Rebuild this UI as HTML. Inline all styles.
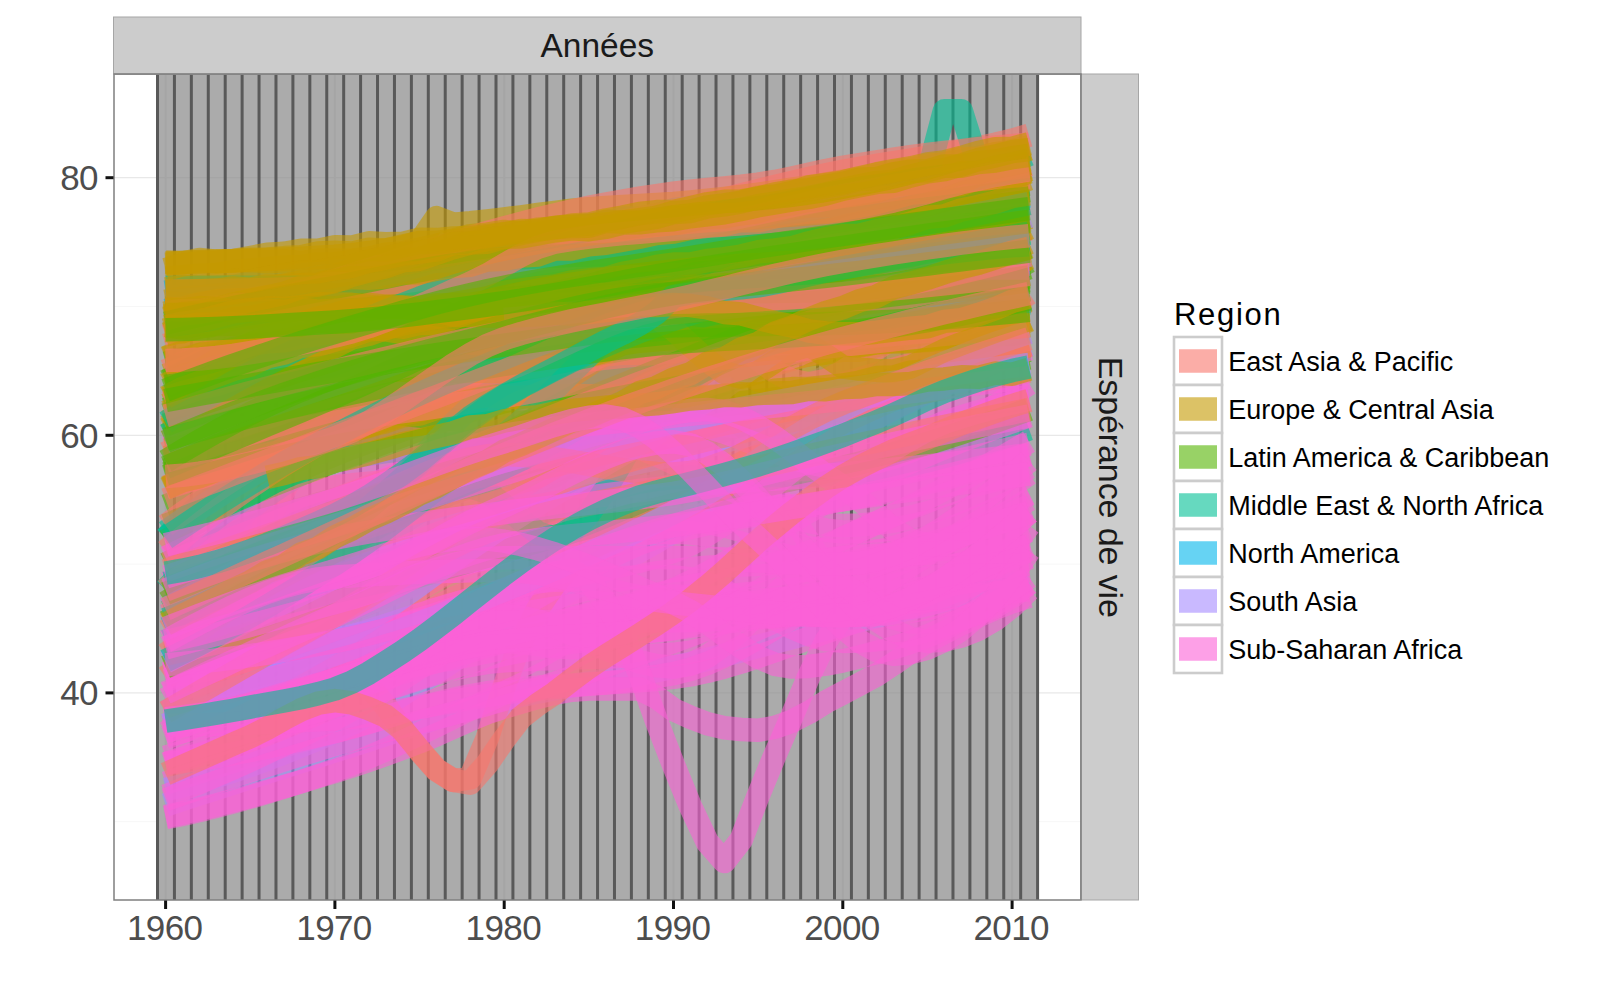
<!DOCTYPE html>
<html lang="fr"><head><meta charset="utf-8"><title>Espérance de vie</title>
<style>
html,body{margin:0;padding:0;background:#fff;}
svg{display:block;font-family:"Liberation Sans",Arial,sans-serif;}
.ln{fill:none;stroke-width:23.5;stroke-opacity:.6;stroke-linejoin:round;stroke-linecap:butt}
.E{stroke:#F8766D}.U{stroke:#C49A00}.L{stroke:#53B400}.M{stroke:#00C094}.N{stroke:#00B6EB}.S{stroke:#A58AFF}.A{stroke:#FB61D7}
.ax{font-size:35px;fill:#4D4D4D;letter-spacing:-0.6px}
.lg{font-size:27px;fill:#000}
</style></head><body>
<svg width="1600" height="1000" viewBox="0 0 1600 1000">
<rect width="1600" height="1000" fill="#fff"/>

<rect x="114" y="74" width="967" height="826" fill="#fff"/>
<line x1="114" x2="1081" y1="821.7" y2="821.7" stroke="#F7F7F7" stroke-width="1"/>
<line x1="114" x2="1081" y1="564.1" y2="564.1" stroke="#F7F7F7" stroke-width="1"/>
<line x1="114" x2="1081" y1="306.5" y2="306.5" stroke="#F7F7F7" stroke-width="1"/>
<line x1="114" x2="1081" y1="692.9" y2="692.9" stroke="#E8E8E8" stroke-width="1.3"/>
<line x1="114" x2="1081" y1="435.3" y2="435.3" stroke="#E8E8E8" stroke-width="1.3"/>
<line x1="114" x2="1081" y1="177.7" y2="177.7" stroke="#E8E8E8" stroke-width="1.3"/>
<rect x="156" y="74" width="883" height="826" fill="#ABABAB"/>
<line x1="165.6" x2="165.6" y1="74" y2="900" stroke="#A5A5A5" stroke-width="2"/>
<line x1="334.9" x2="334.9" y1="74" y2="900" stroke="#A5A5A5" stroke-width="2"/>
<line x1="504.2" x2="504.2" y1="74" y2="900" stroke="#A5A5A5" stroke-width="2"/>
<line x1="673.5" x2="673.5" y1="74" y2="900" stroke="#A5A5A5" stroke-width="2"/>
<line x1="842.8" x2="842.8" y1="74" y2="900" stroke="#A5A5A5" stroke-width="2"/>
<line x1="1012.1" x2="1012.1" y1="74" y2="900" stroke="#A5A5A5" stroke-width="2"/>
<line x1="156" x2="1039" y1="692.9" y2="692.9" stroke="#A5A5A5" stroke-width="1.3"/>
<line x1="156" x2="1039" y1="435.3" y2="435.3" stroke="#A5A5A5" stroke-width="1.3"/>
<line x1="156" x2="1039" y1="177.7" y2="177.7" stroke="#A5A5A5" stroke-width="1.3"/>
<path d="M157.50 74V900 M174.43 74V900 M191.35 74V900 M208.28 74V900 M225.20 74V900 M242.12 74V900 M259.05 74V900 M275.98 74V900 M292.90 74V900 M309.83 74V900 M326.75 74V900 M343.68 74V900 M360.60 74V900 M377.52 74V900 M394.45 74V900 M411.38 74V900 M428.30 74V900 M445.23 74V900 M462.15 74V900 M479.07 74V900 M496.00 74V900 M512.92 74V900 M529.85 74V900 M546.78 74V900 M563.70 74V900 M580.62 74V900 M597.55 74V900 M614.48 74V900 M631.40 74V900 M648.33 74V900 M665.25 74V900 M682.18 74V900 M699.10 74V900 M716.02 74V900 M732.95 74V900 M749.88 74V900 M766.80 74V900 M783.73 74V900 M800.65 74V900 M817.58 74V900 M834.50 74V900 M851.43 74V900 M868.35 74V900 M885.27 74V900 M902.20 74V900 M919.12 74V900 M936.05 74V900 M952.98 74V900 M969.90 74V900 M986.83 74V900 M1003.75 74V900 M1020.68 74V900 M1037.60 74V900" stroke="#595959" stroke-width="3" fill="none"/>
<g clip-path="url(#cp)">
<polyline class="ln M" points="165.6,538.3 182.5,523.1 199.5,508.3 216.4,493.9 233.3,480.0 250.2,466.7 267.2,454.0 284.1,441.8 301.0,430.4 318.0,419.6 334.9,409.5 351.8,400.1 368.8,391.1 385.7,382.5 402.6,374.4 419.5,366.6 436.5,359.1 453.4,352.0 470.3,345.1 487.3,338.6 504.2,332.3 521.1,326.2 538.1,320.3 555.0,314.5 571.9,309.0 588.9,303.7 605.8,298.6 622.7,293.8 639.6,289.2 656.6,284.8 673.5,280.7 690.4,276.9 707.4,273.2 724.3,269.8 741.2,266.5 758.1,263.3 775.1,260.2 792.0,257.2 808.9,254.3 825.9,251.4 842.8,248.5 859.7,245.7 876.7,242.9 893.6,240.1 910.5,237.5 927.5,234.8 944.4,232.2 961.3,229.7 978.2,227.2 995.2,224.8 1012.1,222.5 1029.0,220.2"/>
<polyline class="ln N" points="165.6,310.6 182.5,307.8 199.5,308.4 216.4,306.5 233.3,304.5 250.2,304.7 267.2,303.3 284.1,303.2 301.0,300.8 318.0,298.1 334.9,295.5 351.8,292.8 368.8,291.3 385.7,288.8 402.6,284.1 419.5,277.6 436.5,275.8 453.4,270.8 470.3,265.1 487.3,264.8 504.2,259.8 521.1,256.0 538.1,256.2 555.0,252.9 571.9,249.5 588.9,250.3 605.8,246.9 622.7,244.2 639.6,242.7 656.6,241.5 673.5,240.6 690.4,237.7 707.4,236.3 724.3,234.2 741.2,232.8 758.1,229.4 775.1,228.0 792.0,227.8 808.9,225.1 825.9,224.3 842.8,221.7 859.7,220.0 876.7,216.7 893.6,215.6 910.5,213.0 927.5,209.8 944.4,208.6 961.3,204.4 978.2,204.5 995.2,200.0 1012.1,198.6 1029.0,196.0"/>
<polyline class="ln S" points="165.6,805.0 182.5,799.4 199.5,793.9 216.4,788.5 233.3,783.0 250.2,777.6 267.2,772.2 284.1,766.8 301.0,761.5 318.0,756.2 334.9,750.9 351.8,745.5 368.8,740.0 385.7,734.5 402.6,728.9 419.5,723.5 436.5,718.1 453.4,713.0 470.3,708.1 487.3,703.5 504.2,699.3 521.1,695.6 538.1,692.1 555.0,688.9 571.9,685.8 588.9,682.9 605.8,679.9 622.7,677.0 639.6,673.9 656.6,670.7 673.5,667.1 690.4,663.4 707.4,659.3 724.3,655.2 741.2,650.9 758.1,646.4 775.1,642.0 792.0,637.6 808.9,633.1 825.9,628.8 842.8,624.6 859.7,620.5 876.7,616.5 893.6,612.4 910.5,608.4 927.5,604.4 944.4,600.4 961.3,596.4 978.2,592.5 995.2,588.6 1012.1,584.7 1029.0,580.8"/>
<polyline class="ln U" points="165.6,405.2 182.5,398.7 199.5,392.3 216.4,387.2 233.3,380.4 250.2,372.0 267.2,366.7 284.1,360.3 301.0,353.8 318.0,349.5 334.9,346.8 351.8,341.0 368.8,335.2 385.7,331.9 402.6,324.7 419.5,320.5 436.5,316.7 453.4,314.2 470.3,309.2 487.3,308.4 504.2,304.6 521.1,301.2 538.1,297.6 555.0,296.1 571.9,295.1 588.9,292.2 605.8,290.2 622.7,288.2 639.6,286.5 656.6,283.4 673.5,280.9 690.4,277.3 707.4,274.8 724.3,273.4 741.2,271.1 758.1,267.5 775.1,264.6 792.0,262.7 808.9,259.6 825.9,256.3 842.8,256.6 859.7,250.6 876.7,249.6 893.6,245.7 910.5,241.2 927.5,238.1 944.4,236.6 961.3,231.1 978.2,229.5 995.2,224.7 1012.1,219.2 1029.0,216.6"/>
<polyline class="ln M" points="165.6,614.3 182.5,610.5 199.5,606.2 216.4,601.4 233.3,596.2 250.2,590.6 267.2,584.6 284.1,578.3 301.0,571.7 318.0,564.8 334.9,557.7 351.8,550.0 368.8,541.5 385.7,532.3 402.6,522.5 419.5,512.3 436.5,501.7 453.4,490.9 470.3,480.0 487.3,469.2 504.2,458.5 521.1,447.1 538.1,434.5 555.0,421.1 571.9,407.4 588.9,393.8 605.8,380.9 622.7,369.1 639.6,358.9 656.6,350.8 673.5,345.1 690.4,341.2 707.4,337.8 724.3,334.9 741.2,332.3 758.1,329.9 775.1,327.8 792.0,325.7 808.9,323.7 825.9,321.6 842.8,319.4 859.7,317.1 876.7,314.8 893.6,312.6 910.5,310.4 927.5,308.2 944.4,306.1 961.3,304.0 978.2,302.0 995.2,300.0 1012.1,298.1 1029.0,296.2"/>
<polyline class="ln A" points="165.6,783.1 182.5,777.4 199.5,771.9 216.4,766.5 233.3,761.2 250.2,755.9 267.2,750.8 284.1,745.8 301.0,740.9 318.0,736.2 334.9,731.5 351.8,726.9 368.8,722.0 385.7,717.1 402.6,712.3 419.5,707.7 436.5,703.3 453.4,699.2 470.3,695.7 487.3,692.7 504.2,690.3 521.1,688.6 538.1,687.1 555.0,686.0 571.9,684.9 588.9,684.0 605.8,683.1 622.7,682.0 639.6,680.8 656.6,679.3 673.5,677.4 690.4,674.9 707.4,671.3 724.3,667.0 741.2,662.0 758.1,656.5 775.1,650.6 792.0,644.4 808.9,638.2 825.9,632.0 842.8,625.9 859.7,619.9 876.7,613.7 893.6,607.4 910.5,600.8 927.5,594.0 944.4,587.1 961.3,580.0 978.2,572.7 995.2,565.3 1012.1,557.7 1029.0,549.9"/>
<polyline class="ln L" points="165.6,409.5 182.5,403.8 199.5,398.2 216.4,392.7 233.3,387.3 250.2,382.1 267.2,376.9 284.1,372.0 301.0,367.2 318.0,362.5 334.9,358.0 351.8,353.6 368.8,349.3 385.7,345.1 402.6,341.0 419.5,337.0 436.5,333.2 453.4,329.5 470.3,325.9 487.3,322.6 504.2,319.4 521.1,316.4 538.1,313.7 555.0,311.1 571.9,308.6 588.9,306.2 605.8,303.8 622.7,301.4 639.6,299.0 656.6,296.4 673.5,293.6 690.4,290.6 707.4,287.5 724.3,284.2 741.2,280.8 758.1,277.3 775.1,273.9 792.0,270.6 808.9,267.3 825.9,264.3 842.8,261.4 859.7,258.7 876.7,256.1 893.6,253.5 910.5,251.0 927.5,248.6 944.4,246.2 961.3,243.9 978.2,241.7 995.2,239.6 1012.1,237.6 1029.0,235.7"/>
<polyline class="ln L" points="165.6,368.3 182.5,367.4 199.5,366.2 216.4,364.7 233.3,363.1 250.2,361.3 267.2,359.3 284.1,357.2 301.0,355.0 318.0,352.7 334.9,350.3 351.8,347.6 368.8,344.3 385.7,340.6 402.6,336.7 419.5,332.5 436.5,328.3 453.4,324.1 470.3,320.1 487.3,316.3 504.2,312.9 521.1,309.9 538.1,307.0 555.0,304.2 571.9,301.6 588.9,299.0 605.8,296.4 622.7,293.8 639.6,291.2 656.6,288.6 673.5,285.9 690.4,283.1 707.4,280.2 724.3,277.3 741.2,274.4 758.1,271.5 775.1,268.6 792.0,265.7 808.9,262.9 825.9,260.2 842.8,257.6 859.7,255.0 876.7,252.5 893.6,250.0 910.5,247.6 927.5,245.2 944.4,242.8 961.3,240.5 978.2,238.3 995.2,236.1 1012.1,233.9 1029.0,231.8"/>
<polyline class="ln U" points="165.6,357.7 182.5,350.0 199.5,342.7 216.4,336.2 233.3,332.7 250.2,325.4 267.2,320.0 284.1,316.9 301.0,311.3 318.0,308.1 334.9,305.3 351.8,303.4 368.8,304.9 385.7,303.3 402.6,300.5 419.5,301.4 436.5,300.2 453.4,298.2 470.3,299.1 487.3,296.6 504.2,296.2 521.1,300.1 538.1,301.0 555.0,303.9 571.9,308.0 588.9,315.7 605.8,321.2 622.7,323.4 639.6,327.2 656.6,332.4 673.5,332.5 690.4,330.6 707.4,327.7 724.3,326.4 741.2,319.9 758.1,314.0 775.1,309.2 792.0,304.8 808.9,299.6 825.9,293.6 842.8,287.4 859.7,286.3 876.7,282.7 893.6,277.8 910.5,275.3 927.5,271.5 944.4,268.5 961.3,263.4 978.2,259.5 995.2,257.4 1012.1,255.4 1029.0,251.7"/>
<polyline class="ln L" points="165.6,363.2 182.5,358.9 199.5,354.5 216.4,350.2 233.3,345.8 250.2,341.4 267.2,337.1 284.1,332.7 301.0,328.2 318.0,323.8 334.9,319.4 351.8,314.7 368.8,309.6 385.7,304.4 402.6,299.0 419.5,293.8 436.5,288.8 453.4,284.2 470.3,280.1 487.3,276.8 504.2,274.3 521.1,272.4 538.1,270.6 555.0,268.9 571.9,267.5 588.9,266.1 605.8,264.9 622.7,263.8 639.6,262.9 656.6,262.1 673.5,261.4 690.4,260.9 707.4,260.4 724.3,260.1 741.2,259.8 758.1,259.5 775.1,259.2 792.0,258.9 808.9,258.5 825.9,258.1 842.8,257.6 859.7,256.9 876.7,256.0 893.6,254.9 910.5,253.7 927.5,252.4 944.4,250.9 961.3,249.3 978.2,247.6 995.2,245.9 1012.1,244.0 1029.0,242.1"/>
<polyline class="ln E" points="165.6,296.2 182.5,296.2 199.5,296.1 216.4,295.9 233.3,295.8 250.2,295.5 267.2,295.2 284.1,294.9 301.0,294.5 318.0,294.1 334.9,293.6 351.8,292.4 368.8,289.8 385.7,286.1 402.6,281.6 419.5,276.5 436.5,271.1 453.4,265.6 470.3,260.3 487.3,255.4 504.2,251.1 521.1,247.3 538.1,243.6 555.0,239.9 571.9,236.4 588.9,232.8 605.8,229.4 622.7,226.0 639.6,222.7 656.6,219.5 673.5,216.3 690.4,213.3 707.4,210.4 724.3,207.5 741.2,204.7 758.1,202.0 775.1,199.3 792.0,196.5 808.9,193.8 825.9,190.9 842.8,188.0 859.7,185.0 876.7,182.0 893.6,178.9 910.5,175.8 927.5,172.7 944.4,169.5 961.3,166.3 978.2,163.1 995.2,159.8 1012.1,156.5 1029.0,153.2"/>
<polyline class="ln U" points="165.6,324.2 182.5,321.8 199.5,320.2 216.4,321.4 233.3,320.6 250.2,315.8 267.2,313.6 284.1,313.3 301.0,310.0 318.0,307.5 334.9,306.1 351.8,302.7 368.8,303.0 385.7,299.2 402.6,296.1 419.5,293.3 436.5,287.1 453.4,286.7 470.3,280.8 487.3,279.4 504.2,274.8 521.1,270.9 538.1,267.9 555.0,262.6 571.9,258.4 588.9,255.0 605.8,249.3 622.7,247.2 639.6,243.1 656.6,238.6 673.5,234.8 690.4,231.9 707.4,226.0 724.3,223.1 741.2,222.5 758.1,218.4 775.1,215.8 792.0,211.9 808.9,209.4 825.9,205.4 842.8,200.6 859.7,199.3 876.7,195.0 893.6,191.8 910.5,187.9 927.5,187.0 944.4,181.2 961.3,177.0 978.2,174.8 995.2,172.5 1012.1,167.7 1029.0,164.1"/>
<polyline class="ln U" points="165.6,421.9 182.5,415.7 199.5,405.1 216.4,397.8 233.3,393.0 250.2,386.3 267.2,383.0 284.1,375.2 301.0,372.5 318.0,371.1 334.9,370.0 351.8,372.2 368.8,372.3 385.7,373.2 402.6,372.8 419.5,375.6 436.5,373.6 453.4,376.1 470.3,376.9 487.3,378.6 504.2,376.7 521.1,376.1 538.1,376.5 555.0,377.5 571.9,375.0 588.9,376.7 605.8,373.5 622.7,373.5 639.6,373.6 656.6,371.9 673.5,370.4 690.4,370.5 707.4,366.7 724.3,366.1 741.2,362.0 758.1,359.5 775.1,359.2 792.0,354.2 808.9,352.2 825.9,347.4 842.8,345.0 859.7,342.0 876.7,337.0 893.6,336.4 910.5,330.8 927.5,327.7 944.4,324.6 961.3,317.7 978.2,314.0 995.2,308.2 1012.1,304.5 1029.0,300.6"/>
<polyline class="ln L" points="165.6,400.5 182.5,395.6 199.5,390.8 216.4,386.2 233.3,381.7 250.2,377.5 267.2,373.6 284.1,369.9 301.0,366.5 318.0,363.4 334.9,360.6 351.8,358.1 368.8,355.9 385.7,353.9 402.6,352.0 419.5,350.2 436.5,348.5 453.4,346.8 470.3,345.1 487.3,343.2 504.2,341.3 521.1,339.3 538.1,337.3 555.0,335.3 571.9,333.3 588.9,331.3 605.8,329.1 622.7,326.9 639.6,324.6 656.6,322.1 673.5,319.4 690.4,316.4 707.4,313.0 724.3,309.2 741.2,305.3 758.1,301.2 775.1,297.0 792.0,292.7 808.9,288.6 825.9,284.6 842.8,280.7 859.7,277.1 876.7,273.4 893.6,269.8 910.5,266.2 927.5,262.7 944.4,259.2 961.3,255.7 978.2,252.2 995.2,248.8 1012.1,245.4 1029.0,242.1"/>
<polyline class="ln M" points="165.6,538.3 182.5,521.2 199.5,504.5 216.4,488.5 233.3,473.0 250.2,458.3 267.2,444.2 284.1,431.0 301.0,418.6 318.0,407.2 334.9,396.7 351.8,386.9 368.8,377.5 385.7,368.5 402.6,360.0 419.5,352.0 436.5,344.4 453.4,337.3 470.3,330.8 487.3,324.8 504.2,319.4 521.1,314.4 538.1,309.9 555.0,305.7 571.9,301.7 588.9,298.0 605.8,294.5 622.7,291.0 639.6,287.6 656.6,284.2 673.5,280.7 690.4,277.2 707.4,273.7 724.3,270.3 741.2,266.9 758.1,263.5 775.1,260.3 792.0,257.2 808.9,254.1 825.9,251.3 842.8,248.5 859.7,245.9 876.7,243.4 893.6,240.9 910.5,238.5 927.5,236.2 944.4,233.9 961.3,231.7 978.2,229.7 995.2,227.7 1012.1,225.8 1029.0,224.1"/>
<polyline class="ln S" points="165.6,615.6 182.5,606.0 199.5,598.6 216.4,593.0 233.3,588.9 250.2,586.2 267.2,584.6 284.1,583.8 301.0,583.5 318.0,583.4 334.9,609.2 351.8,634.9 368.8,624.8 385.7,603.1 402.6,583.4 419.5,569.4 436.5,556.2 453.4,543.7 470.3,532.2 487.3,521.8 504.2,512.6 521.1,504.5 538.1,497.2 555.0,490.5 571.9,484.4 588.9,478.5 605.8,472.8 622.7,467.0 639.6,461.1 656.6,454.9 673.5,448.2 690.4,440.9 707.4,433.0 724.3,424.8 741.2,416.5 758.1,408.1 775.1,399.8 792.0,391.8 808.9,384.2 825.9,377.2 842.8,370.9 859.7,365.1 876.7,359.5 893.6,354.0 910.5,348.8 927.5,343.8 944.4,339.0 961.3,334.4 978.2,330.2 995.2,326.3 1012.1,322.6 1029.0,319.4"/>
<polyline class="ln L" points="165.6,422.4 182.5,416.0 199.5,409.8 216.4,403.6 233.3,397.6 250.2,391.7 267.2,386.0 284.1,380.4 301.0,374.9 318.0,369.6 334.9,364.5 351.8,359.4 368.8,354.5 385.7,349.6 402.6,344.9 419.5,340.3 436.5,335.8 453.4,331.4 470.3,327.3 487.3,323.2 504.2,319.4 521.1,315.7 538.1,312.0 555.0,308.4 571.9,305.0 588.9,301.6 605.8,298.4 622.7,295.3 639.6,292.4 656.6,289.7 673.5,287.2 690.4,284.9 707.4,282.8 724.3,280.8 741.2,278.9 758.1,277.1 775.1,275.4 792.0,273.6 808.9,271.8 825.9,269.9 842.8,267.9 859.7,265.7 876.7,263.5 893.6,261.3 910.5,259.1 927.5,256.8 944.4,254.4 961.3,252.0 978.2,249.6 995.2,247.1 1012.1,244.6 1029.0,242.1"/>
<polyline class="ln U" points="165.6,330.5 182.5,327.6 199.5,322.0 216.4,314.1 233.3,310.3 250.2,305.8 267.2,300.0 284.1,298.7 301.0,294.3 318.0,293.6 334.9,294.2 351.8,295.4 368.8,295.2 385.7,293.3 402.6,296.2 419.5,298.1 436.5,298.5 453.4,297.2 470.3,300.6 487.3,298.9 504.2,301.4 521.1,298.3 538.1,299.5 555.0,300.9 571.9,297.1 588.9,298.6 605.8,296.7 622.7,296.9 639.6,298.1 656.6,297.7 673.5,297.5 690.4,298.1 707.4,300.4 724.3,303.1 741.2,303.2 758.1,309.9 775.1,312.0 792.0,316.8 808.9,319.2 825.9,319.0 842.8,319.1 859.7,320.7 876.7,321.9 893.6,317.7 910.5,320.2 927.5,317.6 944.4,315.4 961.3,312.2 978.2,310.0 995.2,307.9 1012.1,305.4 1029.0,300.1"/>
<polyline class="ln U" points="165.6,309.0 182.5,307.9 199.5,307.1 216.4,307.9 233.3,305.6 250.2,303.3 267.2,301.5 284.1,298.4 301.0,298.7 318.0,295.1 334.9,294.1 351.8,290.4 368.8,290.1 385.7,286.5 402.6,285.1 419.5,281.8 436.5,276.2 453.4,275.4 470.3,270.2 487.3,268.4 504.2,266.9 521.1,260.9 538.1,260.0 555.0,253.4 571.9,252.4 588.9,246.1 605.8,244.0 622.7,239.6 639.6,233.8 656.6,232.2 673.5,228.7 690.4,225.8 707.4,225.7 724.3,220.9 741.2,218.6 758.1,219.4 775.1,216.0 792.0,215.0 808.9,211.2 825.9,211.5 842.8,207.3 859.7,203.6 876.7,201.0 893.6,200.3 910.5,194.6 927.5,193.6 944.4,188.2 961.3,185.9 978.2,183.6 995.2,177.9 1012.1,174.0 1029.0,170.5"/>
<polyline class="ln L" points="165.6,435.3 182.5,427.6 199.5,420.1 216.4,412.7 233.3,405.4 250.2,398.2 267.2,391.2 284.1,384.3 301.0,377.5 318.0,370.9 334.9,364.5 351.8,357.9 368.8,351.2 385.7,344.4 402.6,337.7 419.5,331.1 436.5,325.0 453.4,319.3 470.3,314.2 487.3,309.9 504.2,306.5 521.1,303.6 538.1,300.8 555.0,298.1 571.9,295.5 588.9,293.2 605.8,291.2 622.7,289.5 639.6,288.3 656.6,287.5 673.5,287.2 690.4,288.1 707.4,290.5 724.3,294.1 741.2,298.5 758.1,303.3 775.1,308.0 792.0,312.4 808.9,316.0 825.9,318.5 842.8,319.4 859.7,318.8 876.7,317.2 893.6,314.6 910.5,311.0 927.5,306.4 944.4,300.9 961.3,294.6 978.2,287.4 995.2,279.5 1012.1,270.8 1029.0,261.4"/>
<polyline class="ln A" points="165.6,727.7 182.5,721.8 199.5,715.9 216.4,709.9 233.3,703.9 250.2,697.9 267.2,691.8 284.1,685.7 301.0,679.5 318.0,673.4 334.9,667.1 351.8,660.9 368.8,654.8 385.7,648.6 402.6,642.5 419.5,636.2 436.5,629.9 453.4,623.4 470.3,616.8 487.3,609.9 504.2,602.7 521.1,594.8 538.1,585.7 555.0,575.9 571.9,565.8 588.9,555.7 605.8,546.0 622.7,537.1 639.6,529.4 656.6,523.3 673.5,519.0 690.4,516.2 707.4,513.8 724.3,511.9 741.2,510.2 758.1,508.7 775.1,507.2 792.0,505.7 808.9,504.0 825.9,502.1 842.8,499.7 859.7,496.9 876.7,493.8 893.6,490.4 910.5,486.8 927.5,482.8 944.4,478.6 961.3,474.2 978.2,469.6 995.2,464.8 1012.1,459.8 1029.0,454.6"/>
<polyline class="ln N" points="250.2,319.0 267.2,317.6 284.1,313.9 301.0,310.6 318.0,305.7 334.9,303.0 351.8,300.2 368.8,296.9 385.7,294.9 402.6,293.2 419.5,289.0 436.5,287.2 453.4,284.2 470.3,280.1 487.3,280.4 504.2,276.4 521.1,274.1 538.1,273.3 555.0,270.7 571.9,267.0 588.9,267.3 605.8,264.0 622.7,261.5 639.6,260.9 656.6,256.1 673.5,254.5 690.4,251.3 707.4,245.9 724.3,241.5 741.2,234.5 758.1,230.0 775.1,221.5 792.0,217.2 808.9,213.1 825.9,208.1 842.8,203.3 859.7,201.2 876.7,199.9 893.6,198.0 910.5,195.7 927.5,191.5 944.4,192.8 961.3,188.4 978.2,187.2 995.2,188.5 1012.1,187.5 1029.0,186.5"/>
<polyline class="ln S" points="165.6,789.5 182.5,785.7 199.5,781.3 216.4,776.4 233.3,771.1 250.2,765.4 267.2,759.2 284.1,752.7 301.0,745.9 318.0,738.9 334.9,731.5 351.8,723.5 368.8,714.5 385.7,704.7 402.6,694.2 419.5,683.2 436.5,672.0 453.4,660.7 470.3,649.6 487.3,638.8 504.2,628.5 521.1,618.6 538.1,608.8 555.0,599.1 571.9,589.4 588.9,579.8 605.8,570.2 622.7,560.7 639.6,551.1 656.6,541.5 673.5,531.9 690.4,522.2 707.4,512.3 724.3,502.4 741.2,492.5 758.1,482.6 775.1,472.8 792.0,463.1 808.9,453.6 825.9,444.3 842.8,435.3 859.7,426.5 876.7,417.8 893.6,409.2 910.5,400.7 927.5,392.4 944.4,384.1 961.3,376.1 978.2,368.1 995.2,360.3 1012.1,352.6 1029.0,345.1"/>
<polyline class="ln L" points="165.6,658.1 182.5,655.4 199.5,652.2 216.4,648.7 233.3,644.8 250.2,640.6 267.2,636.1 284.1,631.3 301.0,626.3 318.0,621.0 334.9,615.6 351.8,609.8 368.8,603.2 385.7,596.1 402.6,588.5 419.5,580.5 436.5,572.3 453.4,563.8 470.3,555.3 487.3,546.8 504.2,538.3 521.1,529.7 538.1,520.4 555.0,510.8 571.9,500.9 588.9,491.1 605.8,481.4 622.7,472.1 639.6,463.3 656.6,455.3 673.5,448.2 690.4,441.8 707.4,435.9 724.3,430.3 741.2,425.1 758.1,420.0 775.1,415.2 792.0,410.5 808.9,405.9 825.9,401.3 842.8,396.7 859.7,392.0 876.7,387.5 893.6,383.0 910.5,378.6 927.5,374.3 944.4,370.1 961.3,366.0 978.2,361.9 995.2,357.9 1012.1,354.1 1029.0,350.3"/>
<polyline class="ln U" points="165.6,429.1 182.5,420.4 199.5,412.2 216.4,407.0 233.3,399.8 250.2,391.3 267.2,383.9 284.1,376.7 301.0,372.0 318.0,363.6 334.9,356.5 351.8,350.5 368.8,344.3 385.7,338.3 402.6,332.3 419.5,329.9 436.5,321.4 453.4,318.8 470.3,314.2 487.3,309.8 504.2,304.9 521.1,303.3 538.1,301.4 555.0,298.6 571.9,294.2 588.9,292.2 605.8,292.6 622.7,290.5 639.6,288.8 656.6,288.5 673.5,287.0 690.4,294.9 707.4,306.0 724.3,311.4 741.2,308.6 758.1,303.2 775.1,291.6 792.0,278.2 808.9,265.1 825.9,256.1 842.8,250.7 859.7,247.2 876.7,244.7 893.6,239.6 910.5,237.6 927.5,236.4 944.4,233.4 961.3,232.3 978.2,230.9 995.2,230.5 1012.1,229.5 1029.0,227.5"/>
<polyline class="ln A" points="165.6,557.7 182.5,552.4 199.5,547.1 216.4,541.6 233.3,536.0 250.2,530.2 267.2,524.3 284.1,518.3 301.0,512.2 318.0,506.0 334.9,499.7 351.8,493.1 368.8,486.1 385.7,478.8 402.6,471.4 419.5,463.9 436.5,456.4 453.4,449.0 470.3,441.9 487.3,435.2 504.2,428.9 521.1,422.4 538.1,415.4 555.0,408.3 571.9,401.6 588.9,395.6 605.8,390.7 622.7,387.5 639.6,386.4 656.6,389.3 673.5,397.5 690.4,409.7 707.4,424.6 724.3,441.1 741.2,457.9 758.1,473.9 775.1,492.6 792.0,516.2 808.9,542.0 825.9,567.1 842.8,588.6 859.7,603.5 876.7,609.2 893.6,608.8 910.5,607.4 927.5,604.4 944.4,599.4 961.3,591.7 978.2,581.0 995.2,566.8 1012.1,548.4 1029.0,525.5"/>
<polyline class="ln L" points="165.6,506.1 182.5,499.8 199.5,493.6 216.4,487.5 233.3,481.5 250.2,475.6 267.2,469.9 284.1,464.3 301.0,458.8 318.0,453.4 334.9,448.2 351.8,443.1 368.8,438.3 385.7,433.6 402.6,429.0 419.5,424.4 436.5,420.0 453.4,415.5 470.3,411.0 487.3,406.5 504.2,401.8 521.1,397.1 538.1,392.4 555.0,387.7 571.9,383.0 588.9,378.3 605.8,373.5 622.7,368.8 639.6,363.9 656.6,359.1 673.5,354.2 690.4,349.1 707.4,343.8 724.3,338.4 741.2,332.9 758.1,327.4 775.1,322.1 792.0,316.8 808.9,311.8 825.9,307.0 842.8,302.6 859.7,298.5 876.7,294.4 893.6,290.5 910.5,286.7 927.5,283.0 944.4,279.4 961.3,276.0 978.2,272.8 995.2,269.7 1012.1,266.7 1029.0,264.0"/>
<polyline class="ln E" points="165.6,403.1 182.5,397.0 199.5,391.0 216.4,385.0 233.3,379.1 250.2,373.3 267.2,367.5 284.1,361.8 301.0,356.2 318.0,350.6 334.9,345.1 351.8,339.6 368.8,334.1 385.7,328.5 402.6,323.0 419.5,317.5 436.5,312.2 453.4,307.1 470.3,302.3 487.3,297.8 504.2,293.6 521.1,289.8 538.1,286.2 555.0,282.9 571.9,279.7 588.9,276.6 605.8,273.6 622.7,270.6 639.6,267.6 656.6,264.6 673.5,261.4 690.4,258.2 707.4,254.8 724.3,251.4 741.2,248.1 758.1,244.7 775.1,241.4 792.0,238.1 808.9,235.0 825.9,232.0 842.8,229.2 859.7,226.5 876.7,223.9 893.6,221.3 910.5,218.8 927.5,216.4 944.4,214.0 961.3,211.7 978.2,209.5 995.2,207.4 1012.1,205.4 1029.0,203.5"/>
<polyline class="ln U" points="165.6,315.8 182.5,311.8 199.5,310.5 216.4,305.5 233.3,302.7 250.2,300.6 267.2,296.8 284.1,295.7 301.0,293.4 318.0,290.3 334.9,290.4 351.8,290.3 368.8,292.6 385.7,292.3 402.6,292.8 419.5,292.5 436.5,292.5 453.4,289.4 470.3,289.6 487.3,292.1 504.2,291.9 521.1,289.3 538.1,290.3 555.0,290.5 571.9,289.5 588.9,289.5 605.8,287.7 622.7,286.5 639.6,286.6 656.6,285.0 673.5,287.3 690.4,285.3 707.4,283.8 724.3,286.7 741.2,285.4 758.1,284.8 775.1,285.8 792.0,283.4 808.9,285.0 825.9,284.9 842.8,283.2 859.7,285.8 876.7,281.4 893.6,282.3 910.5,279.0 927.5,275.8 944.4,272.6 961.3,270.6 978.2,265.8 995.2,261.5 1012.1,255.1 1029.0,250.9"/>
<polyline class="ln A" points="165.6,763.7 182.5,759.4 199.5,754.6 216.4,749.5 233.3,744.1 250.2,738.3 267.2,732.3 284.1,726.0 301.0,719.5 318.0,712.7 334.9,705.8 351.8,698.1 368.8,689.3 385.7,679.7 402.6,669.7 419.5,659.4 436.5,649.2 453.4,639.5 470.3,630.4 487.3,622.4 504.2,615.6 521.1,609.7 538.1,603.9 555.0,598.3 571.9,593.0 588.9,588.1 605.8,583.5 622.7,579.4 639.6,575.9 656.6,572.9 673.5,570.5 690.4,568.7 707.4,567.3 724.3,566.1 741.2,565.1 758.1,564.2 775.1,563.3 792.0,562.3 808.9,561.0 825.9,559.5 842.8,557.7 859.7,555.1 876.7,551.7 893.6,547.5 910.5,542.6 927.5,537.0 944.4,530.8 961.3,524.0 978.2,516.9 995.2,509.3 1012.1,501.4 1029.0,493.3"/>
<polyline class="ln A" points="165.6,677.4 182.5,674.2 199.5,670.9 216.4,667.5 233.3,664.1 250.2,660.5 267.2,656.8 284.1,653.1 301.0,649.2 318.0,645.4 334.9,641.4 351.8,636.9 368.8,631.6 385.7,625.8 402.6,619.7 419.5,613.8 436.5,608.3 453.4,603.5 470.3,599.7 487.3,597.2 504.2,596.3 521.1,596.6 538.1,597.4 555.0,598.5 571.9,600.0 588.9,601.7 605.8,603.4 622.7,605.1 639.6,606.7 656.6,608.1 673.5,609.2 690.4,610.1 707.4,610.9 724.3,611.8 741.2,612.7 758.1,613.5 775.1,614.2 792.0,614.8 808.9,615.2 825.9,615.5 842.8,615.6 859.7,615.0 876.7,613.1 893.6,610.0 910.5,605.9 927.5,601.0 944.4,595.1 961.3,588.6 978.2,581.5 995.2,573.9 1012.1,565.9 1029.0,557.7"/>
<polyline class="ln E" points="165.6,677.4 182.5,665.5 199.5,656.6 216.4,650.2 233.3,645.9 250.2,643.3 267.2,641.9 284.1,641.5 301.0,641.4 318.0,645.6 334.9,656.4 351.8,671.0 368.8,686.5 385.7,706.0 402.6,729.8 419.5,750.9 436.5,770.0 453.4,780.5 470.3,777.9 487.3,738.0 504.2,686.5 521.1,641.4 538.1,608.5 555.0,583.4 571.9,565.4 588.9,551.2 605.8,539.1 622.7,528.4 639.6,518.6 656.6,509.2 673.5,499.7 690.4,490.2 707.4,481.0 724.3,472.1 741.2,463.3 758.1,454.6 775.1,446.0 792.0,437.2 808.9,428.2 825.9,419.1 842.8,409.5 859.7,399.8 876.7,389.8 893.6,379.7 910.5,369.5 927.5,359.1 944.4,348.5 961.3,337.8 978.2,327.0 995.2,316.0 1012.1,304.9 1029.0,293.6"/>
<polyline class="ln A" points="165.6,673.6 182.5,668.1 199.5,662.5 216.4,656.9 233.3,651.2 250.2,645.4 267.2,639.6 284.1,633.7 301.0,627.7 318.0,621.7 334.9,615.6 351.8,609.3 368.8,602.5 385.7,595.4 402.6,588.3 419.5,581.2 436.5,574.2 453.4,567.6 470.3,561.5 487.3,556.0 504.2,551.2 521.1,546.8 538.1,542.4 555.0,538.0 571.9,533.7 588.9,529.8 605.8,526.2 622.7,523.3 639.6,521.0 656.6,519.5 673.5,519.0 690.4,519.9 707.4,522.4 724.3,526.0 741.2,530.4 758.1,535.1 775.1,539.9 792.0,544.3 808.9,547.9 825.9,550.3 842.8,551.2 859.7,551.2 876.7,551.1 893.6,550.9 910.5,550.6 927.5,550.0 944.4,549.1 961.3,547.8 978.2,546.2 995.2,544.1 1012.1,541.5 1029.0,538.3"/>
<polyline class="ln N" points="165.6,292.0 182.5,289.2 199.5,287.7 216.4,287.6 233.3,286.6 250.2,282.8 267.2,281.7 284.1,280.6 301.0,274.8 318.0,272.5 334.9,271.6 351.8,268.7 368.8,265.7 385.7,261.8 402.6,260.3 419.5,256.7 436.5,254.7 453.4,251.3 470.3,247.0 487.3,244.9 504.2,242.5 521.1,238.2 538.1,233.8 555.0,232.4 571.9,227.2 588.9,224.7 605.8,221.9 622.7,218.1 639.6,218.2 656.6,215.0 673.5,209.7 690.4,207.2 707.4,207.7 724.3,202.8 741.2,203.2 758.1,200.4 775.1,198.3 792.0,195.4 808.9,192.8 825.9,188.7 842.8,188.2 859.7,187.2 876.7,184.4 893.6,183.2 910.5,181.0 927.5,177.4 944.4,175.0 961.3,173.9 978.2,171.3 995.2,170.3 1012.1,166.3 1029.0,165.2"/>
<polyline class="ln A" points="165.6,583.4 182.5,579.0 199.5,574.3 216.4,569.2 233.3,563.8 250.2,558.0 267.2,552.0 284.1,545.7 301.0,539.2 318.0,532.4 334.9,525.5 351.8,517.9 368.8,509.5 385.7,500.3 402.6,490.8 419.5,481.0 436.5,471.1 453.4,461.4 470.3,452.0 487.3,443.3 504.2,435.3 521.1,428.0 538.1,420.9 555.0,414.2 571.9,407.7 588.9,401.3 605.8,395.1 622.7,389.0 639.6,383.0 656.6,377.0 673.5,370.9 690.4,364.8 707.4,358.8 724.3,352.9 741.2,347.0 758.1,341.2 775.1,335.4 792.0,329.7 808.9,324.1 825.9,318.5 842.8,312.9 859.7,307.4 876.7,302.0 893.6,296.6 910.5,291.2 927.5,285.9 944.4,280.6 961.3,275.4 978.2,270.2 995.2,265.1 1012.1,260.0 1029.0,255.0"/>
<polyline class="ln A" points="165.6,738.0 182.5,731.5 199.5,724.8 216.4,718.0 233.3,711.1 250.2,704.1 267.2,696.9 284.1,689.7 301.0,682.3 318.0,674.8 334.9,667.1 351.8,658.7 368.8,649.0 385.7,638.5 402.6,627.8 419.5,617.2 436.5,607.2 453.4,598.4 470.3,591.2 487.3,586.0 504.2,583.4 521.1,582.3 538.1,581.2 555.0,580.3 571.9,579.4 588.9,578.7 605.8,578.1 622.7,577.6 639.6,577.3 656.6,577.1 673.5,577.0 690.4,578.8 707.4,583.7 724.3,590.9 741.2,599.6 758.1,609.2 775.1,618.7 792.0,627.5 808.9,634.7 825.9,639.6 842.8,641.4 859.7,641.0 876.7,639.7 893.6,637.6 910.5,634.5 927.5,630.5 944.4,625.4 961.3,619.3 978.2,612.1 995.2,603.7 1012.1,594.2 1029.0,583.4"/>
<polyline class="ln A" points="165.6,718.7 182.5,715.1 199.5,711.4 216.4,707.7 233.3,704.0 250.2,700.1 267.2,696.2 284.1,692.3 301.0,688.2 318.0,684.2 334.9,680.0 351.8,675.7 368.8,671.2 385.7,666.5 402.6,661.8 419.5,657.0 436.5,652.2 453.4,647.6 470.3,643.1 487.3,638.9 504.2,634.9 521.1,631.1 538.1,627.1 555.0,623.1 571.9,619.2 588.9,615.5 605.8,612.0 622.7,608.9 639.6,606.3 656.6,604.2 673.5,602.7 690.4,601.8 707.4,601.0 724.3,600.4 741.2,599.9 758.1,599.4 775.1,599.0 792.0,598.5 808.9,597.9 825.9,597.2 842.8,596.3 859.7,595.1 876.7,593.7 893.6,591.9 910.5,589.9 927.5,587.7 944.4,585.2 961.3,582.6 978.2,579.8 995.2,576.8 1012.1,573.7 1029.0,570.5"/>
<polyline class="ln U" points="165.6,301.3 182.5,298.1 199.5,297.2 216.4,295.0 233.3,293.7 250.2,289.4 267.2,289.3 284.1,284.9 301.0,284.9 318.0,283.9 334.9,280.0 351.8,278.0 368.8,275.6 385.7,276.4 402.6,272.2 419.5,270.1 436.5,270.3 453.4,267.8 470.3,265.2 487.3,264.5 504.2,260.1 521.1,258.4 538.1,255.5 555.0,254.4 571.9,251.6 588.9,250.1 605.8,247.0 622.7,242.8 639.6,239.3 656.6,239.5 673.5,237.3 690.4,234.7 707.4,230.8 724.3,227.0 741.2,226.5 758.1,223.1 775.1,220.4 792.0,216.6 808.9,216.5 825.9,214.4 842.8,209.9 859.7,207.7 876.7,205.1 893.6,200.5 910.5,198.0 927.5,197.3 944.4,192.7 961.3,188.8 978.2,185.4 995.2,185.7 1012.1,179.7 1029.0,179.3"/>
<polyline class="ln L" points="165.6,470.1 182.5,465.3 199.5,460.2 216.4,454.8 233.3,449.1 250.2,443.1 267.2,436.9 284.1,430.4 301.0,423.6 318.0,416.7 334.9,409.5 351.8,401.8 368.8,393.2 385.7,384.0 402.6,374.3 419.5,364.5 436.5,354.6 453.4,344.9 470.3,335.7 487.3,327.1 504.2,319.4 521.1,312.3 538.1,305.4 555.0,298.8 571.9,292.4 588.9,286.3 605.8,280.4 622.7,274.7 639.6,269.2 656.6,263.9 673.5,258.8 690.4,253.9 707.4,249.0 724.3,244.2 741.2,239.6 758.1,235.1 775.1,230.9 792.0,226.8 808.9,223.0 825.9,219.5 842.8,216.3 859.7,213.3 876.7,210.4 893.6,207.6 910.5,204.9 927.5,202.4 944.4,199.9 961.3,197.7 978.2,195.6 995.2,193.7 1012.1,192.0 1029.0,190.6"/>
<polyline class="ln E" points="165.6,647.8 182.5,645.2 199.5,631.1 216.4,608.5 233.3,579.9 250.2,551.2 267.2,522.1 284.1,490.5 301.0,460.0 318.0,434.0 334.9,416.0 351.8,404.4 368.8,395.0 385.7,387.1 402.6,380.2 419.5,373.5 436.5,366.9 453.4,360.6 470.3,354.9 487.3,349.7 504.2,345.1 521.1,341.1 538.1,337.4 555.0,334.0 571.9,330.9 588.9,327.8 605.8,324.9 622.7,322.1 639.6,319.1 656.6,316.1 673.5,312.9 690.4,309.6 707.4,306.3 724.3,303.0 741.2,299.7 758.1,296.3 775.1,292.9 792.0,289.6 808.9,286.2 825.9,282.8 842.8,279.5 859.7,276.1 876.7,272.7 893.6,269.3 910.5,265.9 927.5,262.5 944.4,259.1 961.3,255.7 978.2,252.3 995.2,248.9 1012.1,245.5 1029.0,242.1"/>
<polyline class="ln L" points="165.6,476.5 182.5,471.3 199.5,466.0 216.4,460.7 233.3,455.3 250.2,449.9 267.2,444.5 284.1,439.0 301.0,433.5 318.0,428.0 334.9,422.4 351.8,416.7 368.8,410.7 385.7,404.5 402.6,398.2 419.5,392.0 436.5,385.9 453.4,380.0 470.3,374.4 487.3,369.2 504.2,364.5 521.1,360.2 538.1,356.2 555.0,352.4 571.9,348.8 588.9,345.3 605.8,341.9 622.7,338.6 639.6,335.3 656.6,331.9 673.5,328.4 690.4,324.8 707.4,321.3 724.3,317.7 741.2,314.2 758.1,310.6 775.1,307.1 792.0,303.7 808.9,300.3 825.9,296.9 842.8,293.6 859.7,290.4 876.7,287.2 893.6,284.0 910.5,280.9 927.5,277.8 944.4,274.8 961.3,271.8 978.2,268.8 995.2,265.9 1012.1,263.0 1029.0,260.1"/>
<polyline class="ln A" points="165.6,673.6 182.5,668.1 199.5,662.5 216.4,656.9 233.3,651.2 250.2,645.4 267.2,639.6 284.1,633.7 301.0,627.7 318.0,621.7 334.9,615.6 351.8,609.4 368.8,603.1 385.7,596.6 402.6,590.0 419.5,583.4 436.5,576.8 453.4,570.3 470.3,563.8 487.3,557.4 504.2,551.2 521.1,545.0 538.1,538.7 555.0,532.3 571.9,526.0 588.9,519.8 605.8,513.8 622.7,508.0 639.6,502.6 656.6,497.7 673.5,493.3 690.4,489.3 707.4,485.8 724.3,482.6 741.2,479.5 758.1,476.6 775.1,473.8 792.0,470.9 808.9,467.9 825.9,464.6 842.8,461.1 859.7,457.0 876.7,452.5 893.6,447.8 910.5,443.2 927.5,438.9 944.4,435.3 961.3,432.2 978.2,429.3 995.2,426.7 1012.1,424.4 1029.0,422.4"/>
<polyline class="ln A" points="165.6,680.0 182.5,675.6 199.5,671.2 216.4,667.0 233.3,662.9 250.2,658.9 267.2,655.1 284.1,651.4 301.0,647.9 318.0,644.6 334.9,641.4 351.8,638.4 368.8,635.5 385.7,632.7 402.6,630.0 419.5,627.4 436.5,624.9 453.4,622.5 470.3,620.1 487.3,617.9 504.2,615.6 521.1,613.3 538.1,610.8 555.0,608.2 571.9,605.6 588.9,603.2 605.8,601.0 622.7,599.1 639.6,597.6 656.6,596.6 673.5,596.3 690.4,596.8 707.4,598.3 724.3,600.5 741.2,603.1 758.1,606.0 775.1,608.8 792.0,611.4 808.9,613.6 825.9,615.1 842.8,615.6 859.7,615.3 876.7,614.4 893.6,613.0 910.5,611.0 927.5,608.5 944.4,605.5 961.3,602.0 978.2,598.0 995.2,593.6 1012.1,588.7 1029.0,583.4"/>
<polyline class="ln A" points="165.6,583.4 182.5,576.7 199.5,570.2 216.4,563.9 233.3,557.7 250.2,551.8 267.2,546.0 284.1,540.5 301.0,535.3 318.0,530.2 334.9,525.5 351.8,520.6 368.8,515.5 385.7,510.3 402.6,505.2 419.5,500.3 436.5,496.0 453.4,492.2 470.3,489.4 487.3,487.5 504.2,486.8 521.1,486.8 538.1,486.8 555.0,486.8 571.9,486.8 588.9,486.8 605.8,486.8 622.7,486.8 639.6,486.8 656.6,486.8 673.5,486.8 690.4,487.9 707.4,490.8 724.3,495.2 741.2,500.4 758.1,506.1 775.1,511.9 792.0,517.1 808.9,521.4 825.9,524.4 842.8,525.5 859.7,524.9 876.7,523.4 893.6,520.9 910.5,517.3 927.5,512.9 944.4,507.5 961.3,501.2 978.2,494.0 995.2,486.0 1012.1,477.2 1029.0,467.5"/>
<polyline class="ln L" points="165.6,414.7 182.5,408.3 199.5,401.8 216.4,395.3 233.3,388.7 250.2,382.0 267.2,375.3 284.1,368.5 301.0,361.6 318.0,354.7 334.9,347.7 351.8,340.5 368.8,332.8 385.7,324.9 402.6,316.9 419.5,308.9 436.5,301.0 453.4,293.5 470.3,286.5 487.3,280.0 504.2,274.3 521.1,269.2 538.1,264.3 555.0,259.6 571.9,255.2 588.9,251.1 605.8,247.1 622.7,243.3 639.6,239.7 656.6,236.3 673.5,233.1 690.4,230.0 707.4,227.1 724.3,224.3 741.2,221.7 758.1,219.1 775.1,216.7 792.0,214.3 808.9,212.0 825.9,209.6 842.8,207.3 859.7,205.0 876.7,202.7 893.6,200.5 910.5,198.3 927.5,196.2 944.4,194.0 961.3,192.0 978.2,189.9 995.2,188.0 1012.1,186.0 1029.0,184.1"/>
<polyline class="ln A" points="165.6,732.8 182.5,723.6 199.5,714.4 216.4,705.3 233.3,696.1 250.2,686.9 267.2,677.8 284.1,668.7 301.0,659.6 318.0,650.5 334.9,641.4 351.8,631.8 368.8,621.4 385.7,610.6 402.6,599.6 419.5,588.9 436.5,578.8 453.4,569.7 470.3,561.8 487.3,555.5 504.2,551.2 521.1,548.1 538.1,545.1 555.0,542.4 571.9,539.8 588.9,537.6 605.8,535.6 622.7,534.1 639.6,532.9 656.6,532.2 673.5,531.9 690.4,532.8 707.4,535.2 724.3,538.9 741.2,543.2 758.1,548.0 775.1,552.8 792.0,557.1 808.9,560.8 825.9,563.2 842.8,564.1 859.7,563.5 876.7,561.6 893.6,558.7 910.5,554.6 927.5,549.4 944.4,543.3 961.3,536.2 978.2,528.3 995.2,519.5 1012.1,510.0 1029.0,499.7"/>
<polyline class="ln U" points="165.6,375.4 182.5,369.4 199.5,361.9 216.4,357.2 233.3,353.6 250.2,346.1 267.2,342.6 284.1,335.9 301.0,334.6 318.0,329.8 334.9,325.2 351.8,324.2 368.8,319.9 385.7,317.4 402.6,315.2 419.5,312.7 436.5,312.4 453.4,311.5 470.3,309.1 487.3,306.6 504.2,305.5 521.1,300.7 538.1,300.3 555.0,297.4 571.9,291.3 588.9,288.8 605.8,288.0 622.7,285.0 639.6,280.8 656.6,279.4 673.5,279.0 690.4,277.0 707.4,274.5 724.3,276.6 741.2,272.2 758.1,273.0 775.1,273.6 792.0,270.5 808.9,272.1 825.9,269.7 842.8,267.6 859.7,266.8 876.7,261.8 893.6,259.3 910.5,257.5 927.5,253.2 944.4,248.9 961.3,241.9 978.2,237.9 995.2,230.9 1012.1,223.9 1029.0,217.5"/>
<polyline class="ln L" points="165.6,381.2 182.5,372.6 199.5,364.1 216.4,355.9 233.3,348.0 250.2,340.3 267.2,332.9 284.1,325.8 301.0,319.0 318.0,312.6 334.9,306.5 351.8,300.5 368.8,294.4 385.7,288.3 402.6,282.4 419.5,276.8 436.5,271.6 453.4,266.9 470.3,262.9 487.3,259.8 504.2,257.6 521.1,256.0 538.1,254.8 555.0,253.8 571.9,252.9 588.9,252.1 605.8,251.4 622.7,250.6 639.6,249.7 656.6,248.6 673.5,247.3 690.4,245.5 707.4,243.4 724.3,240.9 741.2,238.2 758.1,235.2 775.1,232.2 792.0,229.1 808.9,226.0 825.9,223.0 842.8,220.2 859.7,217.5 876.7,214.8 893.6,212.1 910.5,209.4 927.5,206.7 944.4,204.0 961.3,201.3 978.2,198.6 995.2,196.0 1012.1,193.3 1029.0,190.6"/>
<polyline class="ln U" points="165.6,313.0 182.5,308.3 199.5,304.1 216.4,300.3 233.3,296.4 250.2,292.5 267.2,287.7 284.1,285.6 301.0,281.9 318.0,278.2 334.9,275.6 351.8,270.3 368.8,267.7 385.7,262.3 402.6,259.1 419.5,257.9 436.5,254.5 453.4,249.4 470.3,247.2 487.3,246.4 504.2,241.6 521.1,240.2 538.1,236.6 555.0,234.7 571.9,232.2 588.9,231.1 605.8,228.6 622.7,229.0 639.6,227.1 656.6,226.3 673.5,221.5 690.4,222.1 707.4,218.7 724.3,216.9 741.2,213.8 758.1,213.4 775.1,212.3 792.0,209.5 808.9,208.8 825.9,206.0 842.8,203.0 859.7,203.2 876.7,198.0 893.6,197.9 910.5,196.9 927.5,193.2 944.4,194.0 961.3,191.6 978.2,187.6 995.2,188.4 1012.1,185.0 1029.0,185.7"/>
<polyline class="ln U" points="165.6,302.5 182.5,304.0 199.5,307.4 216.4,308.5 233.3,309.0 250.2,310.0 267.2,312.5 284.1,312.3 301.0,310.7 318.0,313.5 334.9,311.9 351.8,313.8 368.8,312.4 385.7,311.4 402.6,310.1 419.5,308.5 436.5,306.9 453.4,305.9 470.3,304.1 487.3,302.5 504.2,303.3 521.1,300.3 538.1,300.3 555.0,300.1 571.9,299.2 588.9,295.8 605.8,294.9 622.7,295.5 639.6,292.0 656.6,292.2 673.5,288.9 690.4,285.5 707.4,281.6 724.3,279.0 741.2,274.4 758.1,267.2 775.1,260.8 792.0,255.5 808.9,251.8 825.9,246.1 842.8,241.3 859.7,236.9 876.7,234.4 893.6,229.3 910.5,227.7 927.5,224.5 944.4,220.8 961.3,216.0 978.2,212.2 995.2,210.6 1012.1,206.9 1029.0,206.1"/>
<polyline class="ln U" points="165.6,278.1 182.5,276.8 199.5,275.3 216.4,274.6 233.3,271.6 250.2,269.9 267.2,268.7 284.1,266.9 301.0,266.6 318.0,263.9 334.9,263.7 351.8,261.5 368.8,262.0 385.7,259.9 402.6,260.7 419.5,260.1 436.5,256.0 453.4,257.0 470.3,257.3 487.3,254.2 504.2,252.1 521.1,251.8 538.1,250.2 555.0,249.6 571.9,250.5 588.9,250.6 605.8,250.4 622.7,248.7 639.6,246.5 656.6,244.4 673.5,246.5 690.4,242.1 707.4,240.6 724.3,238.9 741.2,238.7 758.1,236.6 775.1,231.7 792.0,229.4 808.9,227.6 825.9,224.9 842.8,223.2 859.7,216.8 876.7,214.2 893.6,210.4 910.5,207.5 927.5,205.2 944.4,200.0 961.3,198.4 978.2,192.6 995.2,190.0 1012.1,185.1 1029.0,178.9"/>
<polyline class="ln M" points="165.6,641.4 182.5,634.4 199.5,627.4 216.4,620.7 233.3,614.0 250.2,607.5 267.2,601.1 284.1,594.8 301.0,588.7 318.0,582.8 334.9,577.0 351.8,571.3 368.8,565.9 385.7,560.6 402.6,555.4 419.5,550.3 436.5,545.2 453.4,540.3 470.3,535.3 487.3,530.4 504.2,525.5 521.1,520.2 538.1,514.4 555.0,508.3 571.9,502.2 588.9,496.3 605.8,490.9 622.7,486.0 639.6,482.1 656.6,479.3 673.5,477.8 690.4,477.2 707.4,476.7 724.3,476.4 741.2,476.1 758.1,475.8 775.1,475.6 792.0,475.3 808.9,475.0 825.9,474.5 842.8,473.9 859.7,472.8 876.7,470.9 893.6,468.2 910.5,464.9 927.5,460.9 944.4,456.5 961.3,451.6 978.2,446.3 995.2,440.7 1012.1,434.8 1029.0,428.9"/>
<polyline class="ln L" points="165.6,540.9 182.5,531.0 199.5,521.3 216.4,511.9 233.3,502.7 250.2,493.9 267.2,485.3 284.1,477.1 301.0,469.3 318.0,461.7 334.9,454.6 351.8,447.9 368.8,441.7 385.7,435.8 402.6,430.1 419.5,424.6 436.5,419.2 453.4,413.8 470.3,408.3 487.3,402.6 504.2,396.7 521.1,390.3 538.1,383.6 555.0,376.7 571.9,369.6 588.9,362.6 605.8,355.7 622.7,349.1 639.6,342.9 656.6,337.3 673.5,332.3 690.4,327.8 707.4,323.6 724.3,319.6 741.2,315.8 758.1,312.2 775.1,308.8 792.0,305.5 808.9,302.3 825.9,299.2 842.8,296.2 859.7,293.2 876.7,290.3 893.6,287.5 910.5,284.7 927.5,282.0 944.4,279.4 961.3,276.9 978.2,274.5 995.2,272.2 1012.1,270.0 1029.0,267.9"/>
<polyline class="ln L" points="165.6,525.5 182.5,519.0 199.5,512.6 216.4,506.1 233.3,499.7 250.2,493.3 267.2,486.8 284.1,480.4 301.0,473.9 318.0,467.5 334.9,461.1 351.8,454.7 368.8,448.4 385.7,442.1 402.6,435.9 419.5,429.6 436.5,423.3 453.4,416.8 470.3,410.3 487.3,403.6 504.2,396.7 521.1,389.4 538.1,381.7 555.0,373.7 571.9,365.5 588.9,357.3 605.8,349.1 622.7,341.1 639.6,333.4 656.6,326.1 673.5,319.4 690.4,312.9 707.4,306.5 724.3,300.2 741.2,294.1 758.1,288.2 775.1,282.5 792.0,277.3 808.9,272.4 825.9,267.9 842.8,264.0 859.7,260.4 876.7,256.9 893.6,253.5 910.5,250.3 927.5,247.3 944.4,244.4 961.3,241.8 978.2,239.5 995.2,237.5 1012.1,235.8 1029.0,234.4"/>
<polyline class="ln M" points="165.6,589.9 182.5,585.8 199.5,581.5 216.4,576.9 233.3,572.1 250.2,567.0 267.2,561.7 284.1,556.1 301.0,550.4 318.0,544.4 334.9,538.3 351.8,531.9 368.8,525.0 385.7,517.6 402.6,510.0 419.5,502.0 436.5,493.9 453.4,485.7 470.3,477.4 487.3,469.2 504.2,461.1 521.1,452.8 538.1,444.1 555.0,435.2 571.9,426.1 588.9,417.1 605.8,408.3 622.7,399.7 639.6,391.6 656.6,384.1 673.5,377.3 690.4,371.0 707.4,364.9 724.3,359.0 741.2,353.3 758.1,347.9 775.1,342.8 792.0,338.0 808.9,333.6 825.9,329.5 842.8,325.8 859.7,322.4 876.7,319.1 893.6,315.9 910.5,312.8 927.5,310.0 944.4,307.3 961.3,304.8 978.2,302.5 995.2,300.6 1012.1,298.9 1029.0,297.5"/>
<polyline class="ln L" points="165.6,564.1 182.5,556.0 199.5,548.2 216.4,540.8 233.3,533.7 250.2,526.9 267.2,520.6 284.1,514.7 301.0,509.2 318.0,504.2 334.9,499.7 351.8,495.3 368.8,490.9 385.7,486.6 402.6,482.6 419.5,479.1 436.5,476.4 453.4,474.6 470.3,473.9 487.3,474.9 504.2,477.2 521.1,479.4 538.1,480.4 555.0,475.9 571.9,464.0 588.9,446.8 605.8,426.5 622.7,405.2 639.6,385.3 656.6,368.8 673.5,358.0 690.4,351.1 707.4,345.0 724.3,339.5 741.2,334.5 758.1,330.0 775.1,325.9 792.0,322.1 808.9,318.5 825.9,315.1 842.8,311.7 859.7,308.3 876.7,305.0 893.6,301.8 910.5,298.8 927.5,295.8 944.4,293.1 961.3,290.5 978.2,288.1 995.2,285.8 1012.1,283.8 1029.0,282.0"/>
<polyline class="ln A" points="165.6,735.4 182.5,731.6 199.5,727.6 216.4,723.6 233.3,719.4 250.2,715.2 267.2,710.9 284.1,706.5 301.0,702.1 318.0,697.5 334.9,692.9 351.8,688.1 368.8,683.0 385.7,677.7 402.6,672.3 419.5,666.8 436.5,661.4 453.4,656.1 470.3,650.9 487.3,646.0 504.2,641.4 521.1,637.0 538.1,632.5 555.0,628.2 571.9,623.9 588.9,619.8 605.8,615.8 622.7,612.1 639.6,608.6 656.6,605.5 673.5,602.7 690.4,600.3 707.4,598.2 724.3,596.2 741.2,594.5 758.1,592.8 775.1,591.1 792.0,589.4 808.9,587.6 825.9,585.6 842.8,583.4 859.7,581.0 876.7,578.5 893.6,575.9 910.5,573.2 927.5,570.3 944.4,567.4 961.3,564.3 978.2,561.2 995.2,558.0 1012.1,554.6 1029.0,551.2"/>
<polyline class="ln A" points="165.6,725.1 182.5,720.0 199.5,715.0 216.4,710.2 233.3,705.4 250.2,700.8 267.2,696.4 284.1,692.0 301.0,687.9 318.0,683.9 334.9,680.0 351.8,676.4 368.8,673.2 385.7,670.2 402.6,667.3 419.5,664.4 436.5,661.5 453.4,658.5 470.3,655.3 487.3,651.7 504.2,647.8 521.1,643.5 538.1,638.8 555.0,633.8 571.9,628.4 588.9,622.7 605.8,616.7 622.7,610.4 639.6,603.8 656.6,597.0 673.5,589.9 690.4,582.0 707.4,573.1 724.3,563.5 741.2,553.3 758.1,542.7 775.1,532.1 792.0,521.5 808.9,511.4 825.9,501.9 842.8,493.3 859.7,485.2 876.7,477.3 893.6,469.6 910.5,462.1 927.5,454.7 944.4,447.7 961.3,440.8 978.2,434.2 995.2,427.8 1012.1,421.8 1029.0,416.0"/>
<polyline class="ln U" points="165.6,333.8 182.5,328.1 199.5,325.4 216.4,322.9 233.3,319.9 250.2,318.0 267.2,313.5 284.1,310.5 301.0,311.3 318.0,309.5 334.9,307.3 351.8,309.7 368.8,308.4 385.7,309.8 402.6,312.3 419.5,313.1 436.5,316.5 453.4,316.1 470.3,316.2 487.3,318.8 504.2,319.7 521.1,319.7 538.1,319.0 555.0,318.4 571.9,315.9 588.9,316.6 605.8,315.7 622.7,315.8 639.6,315.1 656.6,313.5 673.5,312.1 690.4,313.4 707.4,311.7 724.3,310.1 741.2,308.0 758.1,309.5 775.1,307.9 792.0,306.0 808.9,306.1 825.9,302.8 842.8,299.6 859.7,299.6 876.7,295.2 893.6,291.9 910.5,284.9 927.5,276.9 944.4,271.3 961.3,264.7 978.2,256.0 995.2,246.1 1012.1,236.1 1029.0,228.1"/>
<polyline class="ln A" points="165.6,712.2 182.5,704.3 199.5,696.6 216.4,689.2 233.3,682.2 250.2,675.8 267.2,670.0 284.1,664.8 301.0,660.4 318.0,656.9 334.9,654.3 351.8,652.2 368.8,650.2 385.7,648.4 402.6,646.7 419.5,645.2 436.5,643.9 453.4,642.8 470.3,642.0 487.3,641.6 504.2,641.4 521.1,642.4 538.1,644.6 555.0,646.8 571.9,647.8 588.9,645.5 605.8,639.2 622.7,630.5 639.6,620.6 656.6,610.9 673.5,602.7 690.4,596.0 707.4,589.5 724.3,583.2 741.2,577.1 758.1,571.1 775.1,565.0 792.0,558.7 808.9,552.3 825.9,545.5 842.8,538.3 859.7,530.8 876.7,523.0 893.6,514.9 910.5,506.6 927.5,498.0 944.4,489.2 961.3,480.1 978.2,470.8 995.2,461.4 1012.1,451.6 1029.0,441.7"/>
<polyline class="ln E" points="165.6,488.1 182.5,482.9 199.5,477.8 216.4,472.7 233.3,467.7 250.2,462.8 267.2,457.9 284.1,453.1 301.0,448.4 318.0,443.8 334.9,439.2 351.8,434.6 368.8,430.1 385.7,425.7 402.6,421.2 419.5,416.9 436.5,412.6 453.4,408.5 470.3,404.4 487.3,400.5 504.2,396.7 521.1,392.9 538.1,389.3 555.0,385.7 571.9,382.2 588.9,378.8 605.8,375.4 622.7,372.2 639.6,369.1 656.6,366.1 673.5,363.2 690.4,360.4 707.4,357.8 724.3,355.2 741.2,352.8 758.1,350.4 775.1,348.0 792.0,345.7 808.9,343.4 825.9,341.1 842.8,338.7 859.7,336.3 876.7,333.9 893.6,331.6 910.5,329.2 927.5,326.8 944.4,324.5 961.3,322.2 978.2,319.8 995.2,317.5 1012.1,315.2 1029.0,312.9"/>
<polyline class="ln U" points="165.6,322.0 182.5,320.0 199.5,321.5 216.4,317.1 233.3,317.2 250.2,315.9 267.2,312.3 284.1,312.0 301.0,310.1 318.0,307.3 334.9,303.3 351.8,302.4 368.8,297.4 385.7,293.9 402.6,288.0 419.5,284.6 436.5,277.4 453.4,272.2 470.3,270.1 487.3,266.2 504.2,262.4 521.1,259.5 538.1,260.0 555.0,256.0 571.9,253.9 588.9,252.5 605.8,252.3 622.7,249.3 639.6,248.6 656.6,248.0 673.5,245.4 690.4,241.8 707.4,238.9 724.3,234.8 741.2,231.6 758.1,229.7 775.1,225.3 792.0,220.0 808.9,217.4 825.9,214.5 842.8,208.3 859.7,206.6 876.7,203.6 893.6,199.4 910.5,196.6 927.5,193.2 944.4,188.3 961.3,184.3 978.2,182.2 995.2,179.5 1012.1,174.9 1029.0,171.6"/>
<polyline class="ln U" points="165.6,308.0 182.5,306.8 199.5,302.8 216.4,302.7 233.3,301.1 250.2,296.4 267.2,293.9 284.1,293.2 301.0,291.0 318.0,286.9 334.9,283.1 351.8,282.8 368.8,278.9 385.7,276.9 402.6,272.1 419.5,269.9 436.5,267.0 453.4,262.8 470.3,260.0 487.3,258.0 504.2,254.0 521.1,248.9 538.1,246.2 555.0,244.0 571.9,240.3 588.9,238.9 605.8,234.7 622.7,229.7 639.6,229.0 656.6,222.9 673.5,220.2 690.4,217.7 707.4,215.8 724.3,213.8 741.2,210.0 758.1,205.4 775.1,203.5 792.0,199.1 808.9,198.1 825.9,192.7 842.8,189.3 859.7,186.4 876.7,184.9 893.6,181.3 910.5,178.4 927.5,174.8 944.4,168.7 961.3,165.9 978.2,161.2 995.2,159.2 1012.1,155.1 1029.0,149.2"/>
<polyline class="ln E" points="165.6,486.8 182.5,482.2 199.5,477.5 216.4,472.7 233.3,467.7 250.2,462.6 267.2,457.4 284.1,452.0 301.0,446.5 318.0,441.0 334.9,435.3 351.8,429.4 368.8,423.1 385.7,416.6 402.6,409.9 419.5,403.1 436.5,396.3 453.4,389.6 470.3,383.1 487.3,376.8 504.2,370.9 521.1,365.2 538.1,359.6 555.0,354.1 571.9,348.8 588.9,343.5 605.8,338.4 622.7,333.4 639.6,328.6 656.6,323.9 673.5,319.4 690.4,315.1 707.4,311.1 724.3,307.2 741.2,303.5 758.1,299.8 775.1,296.2 792.0,292.5 808.9,288.8 825.9,284.8 842.8,280.7 859.7,276.5 876.7,272.1 893.6,267.7 910.5,263.1 927.5,258.5 944.4,253.8 961.3,249.1 978.2,244.2 995.2,239.3 1012.1,234.3 1029.0,229.2"/>
<polyline class="ln A" points="165.6,699.3 182.5,690.0 199.5,680.5 216.4,671.0 233.3,661.5 250.2,651.8 267.2,642.1 284.1,632.4 301.0,622.6 318.0,612.7 334.9,602.7 351.8,592.6 368.8,582.1 385.7,571.4 402.6,560.6 419.5,549.8 436.5,539.1 453.4,528.7 470.3,518.5 487.3,508.8 504.2,499.7 521.1,490.4 538.1,480.4 555.0,470.0 571.9,459.8 588.9,450.0 605.8,441.1 622.7,433.5 639.6,427.6 656.6,423.8 673.5,422.4 690.4,422.8 707.4,423.8 724.3,425.2 741.2,427.0 758.1,428.9 775.1,430.8 792.0,432.5 808.9,434.0 825.9,434.9 842.8,435.3 859.7,433.8 876.7,430.0 893.6,424.8 910.5,419.1 927.5,413.7 944.4,409.5 961.3,406.4 978.2,403.6 995.2,401.0 1012.1,398.6 1029.0,396.7"/>
<polyline class="ln A" points="165.6,795.9 182.5,789.4 199.5,782.5 216.4,775.3 233.3,767.9 250.2,760.3 267.2,752.4 284.1,744.3 301.0,735.9 318.0,727.4 334.9,718.7 351.8,709.5 368.8,699.6 385.7,689.2 402.6,678.5 419.5,667.6 436.5,656.7 453.4,645.9 470.3,635.3 487.3,625.2 504.2,615.6 521.1,606.2 538.1,596.6 555.0,586.9 571.9,577.3 588.9,568.0 605.8,559.2 622.7,551.0 639.6,543.6 656.6,537.2 673.5,531.9 690.4,527.6 707.4,523.7 724.3,520.4 741.2,517.3 758.1,514.5 775.1,511.8 792.0,509.0 808.9,506.2 825.9,503.1 842.8,499.7 859.7,496.1 876.7,492.3 893.6,488.5 910.5,484.5 927.5,480.5 944.4,476.4 961.3,472.2 978.2,467.9 995.2,463.6 1012.1,459.1 1029.0,454.6"/>
<polyline class="ln U" points="165.6,387.1 182.5,384.3 199.5,376.0 216.4,371.2 233.3,367.7 250.2,360.3 267.2,356.5 284.1,351.6 301.0,344.9 318.0,341.6 334.9,340.3 351.8,334.4 368.8,333.3 385.7,326.7 402.6,324.5 419.5,321.2 436.5,320.6 453.4,317.7 470.3,313.8 487.3,312.4 504.2,309.2 521.1,309.9 538.1,308.4 555.0,308.5 571.9,306.4 588.9,304.0 605.8,305.8 622.7,303.2 639.6,304.6 656.6,301.1 673.5,301.3 690.4,301.4 707.4,297.6 724.3,295.6 741.2,296.5 758.1,294.8 775.1,292.3 792.0,289.4 808.9,285.8 825.9,284.1 842.8,283.9 859.7,282.9 876.7,278.8 893.6,276.7 910.5,275.6 927.5,272.0 944.4,268.3 961.3,268.9 978.2,265.9 995.2,261.5 1012.1,261.4 1029.0,258.9"/>
<polyline class="ln U" points="165.6,316.7 182.5,313.3 199.5,314.3 216.4,313.0 233.3,309.5 250.2,307.3 267.2,305.6 284.1,304.9 301.0,301.3 318.0,302.1 334.9,299.0 351.8,297.1 368.8,294.1 385.7,292.8 402.6,290.4 419.5,284.6 436.5,284.2 453.4,280.6 470.3,276.1 487.3,275.4 504.2,272.2 521.1,268.5 538.1,267.2 555.0,264.3 571.9,258.9 588.9,256.6 605.8,254.4 622.7,250.3 639.6,245.5 656.6,241.9 673.5,239.5 690.4,237.2 707.4,231.5 724.3,230.3 741.2,224.8 758.1,223.4 775.1,217.1 792.0,214.1 808.9,211.6 825.9,208.4 842.8,204.5 859.7,200.8 876.7,197.8 893.6,194.0 910.5,192.9 927.5,188.4 944.4,183.9 961.3,181.8 978.2,176.6 995.2,174.9 1012.1,172.6 1029.0,167.3"/>
<polyline class="ln A" points="165.6,615.6 182.5,612.0 199.5,608.4 216.4,604.7 233.3,600.9 250.2,597.1 267.2,593.2 284.1,589.2 301.0,585.2 318.0,581.1 334.9,577.0 351.8,572.8 368.8,568.6 385.7,564.3 402.6,560.0 419.5,555.6 436.5,551.1 453.4,546.5 470.3,541.7 487.3,536.9 504.2,531.9 521.1,526.3 538.1,519.8 555.0,512.7 571.9,505.3 588.9,498.0 605.8,491.1 622.7,485.0 639.6,479.8 656.6,476.0 673.5,473.9 690.4,472.9 707.4,472.2 724.3,471.6 741.2,471.1 758.1,470.7 775.1,470.3 792.0,469.9 808.9,469.3 825.9,468.5 842.8,467.5 859.7,465.5 876.7,462.0 893.6,457.1 910.5,450.9 927.5,443.5 944.4,435.2 961.3,426.1 978.2,416.2 995.2,405.8 1012.1,394.9 1029.0,383.8"/>
<polyline class="ln U" points="165.6,330.0 182.5,324.3 199.5,318.8 216.4,313.1 233.3,310.5 250.2,303.4 267.2,299.9 284.1,296.2 301.0,292.0 318.0,285.6 334.9,281.7 351.8,279.4 368.8,276.5 385.7,270.8 402.6,270.9 419.5,267.5 436.5,262.8 453.4,259.2 470.3,258.1 487.3,254.3 504.2,251.3 521.1,247.2 538.1,243.8 555.0,240.2 571.9,236.3 588.9,231.7 605.8,228.9 622.7,223.2 639.6,221.5 656.6,219.9 673.5,215.8 690.4,213.6 707.4,213.7 724.3,213.7 741.2,210.3 758.1,208.9 775.1,207.4 792.0,207.0 808.9,206.2 825.9,205.7 842.8,204.4 859.7,203.1 876.7,198.1 893.6,196.5 910.5,194.7 927.5,192.2 944.4,188.4 961.3,183.2 978.2,181.5 995.2,178.3 1012.1,173.2 1029.0,169.3"/>
<polyline class="ln U" points="165.6,434.6 182.5,429.3 199.5,424.0 216.4,416.7 233.3,412.1 250.2,410.1 267.2,405.6 284.1,401.6 301.0,400.4 318.0,396.3 334.9,395.7 351.8,397.4 368.8,395.2 385.7,396.5 402.6,397.7 419.5,396.2 436.5,396.0 453.4,395.9 470.3,395.0 487.3,395.2 504.2,397.0 521.1,396.4 538.1,396.4 555.0,392.8 571.9,390.9 588.9,387.9 605.8,382.0 622.7,381.4 639.6,377.7 656.6,372.8 673.5,370.7 690.4,369.1 707.4,365.8 724.3,366.1 741.2,364.6 758.1,361.8 775.1,361.6 792.0,357.7 808.9,354.8 825.9,353.0 842.8,350.2 859.7,350.2 876.7,345.5 893.6,340.1 910.5,336.1 927.5,332.5 944.4,327.5 961.3,323.8 978.2,318.4 995.2,313.5 1012.1,304.6 1029.0,300.8"/>
<polyline class="ln L" points="165.6,435.3 182.5,430.5 199.5,425.8 216.4,421.1 233.3,416.5 250.2,411.9 267.2,407.4 284.1,403.0 301.0,398.7 318.0,394.4 334.9,390.2 351.8,386.0 368.8,381.9 385.7,377.7 402.6,373.6 419.5,369.6 436.5,365.6 453.4,361.8 470.3,358.2 487.3,354.8 504.2,351.6 521.1,348.6 538.1,345.7 555.0,343.0 571.9,340.4 588.9,337.9 605.8,335.4 622.7,333.0 639.6,330.6 656.6,328.2 673.5,325.8 690.4,323.4 707.4,321.1 724.3,318.8 741.2,316.5 758.1,314.2 775.1,312.0 792.0,309.7 808.9,307.4 825.9,305.0 842.8,302.6 859.7,300.2 876.7,297.7 893.6,295.2 910.5,292.7 927.5,290.1 944.4,287.6 961.3,284.9 978.2,282.3 995.2,279.7 1012.1,277.0 1029.0,274.3"/>
<polyline class="ln E" points="165.6,422.4 182.5,415.4 199.5,408.5 216.4,401.7 233.3,395.0 250.2,388.5 267.2,382.1 284.1,375.9 301.0,369.8 318.0,363.8 334.9,358.0 351.8,352.2 368.8,346.4 385.7,340.6 402.6,334.9 419.5,329.4 436.5,324.1 453.4,319.1 470.3,314.4 487.3,310.2 504.2,306.5 521.1,303.3 538.1,300.4 555.0,297.8 571.9,295.5 588.9,293.2 605.8,291.0 622.7,288.7 639.6,286.3 656.6,283.7 673.5,280.7 690.4,277.5 707.4,273.9 724.3,270.2 741.2,266.2 758.1,262.2 775.1,258.0 792.0,253.9 808.9,249.8 825.9,245.9 842.8,242.1 859.7,238.4 876.7,234.8 893.6,231.2 910.5,227.6 927.5,224.1 944.4,220.5 961.3,217.1 978.2,213.6 995.2,210.2 1012.1,206.8 1029.0,203.5"/>
<polyline class="ln L" points="165.6,622.1 182.5,612.8 199.5,603.7 216.4,594.8 233.3,586.1 250.2,577.6 267.2,569.3 284.1,561.2 301.0,553.4 318.0,545.7 334.9,538.3 351.8,531.2 368.8,524.4 385.7,517.9 402.6,511.6 419.5,505.3 436.5,499.2 453.4,493.0 470.3,486.8 487.3,480.5 504.2,473.9 521.1,467.3 538.1,460.6 555.0,453.8 571.9,447.0 588.9,440.2 605.8,433.4 622.7,426.5 639.6,419.6 656.6,412.6 673.5,405.7 690.4,398.5 707.4,391.1 724.3,383.4 741.2,375.7 758.1,368.1 775.1,360.6 792.0,353.4 808.9,346.7 825.9,340.4 842.8,334.8 859.7,329.7 876.7,324.7 893.6,319.8 910.5,315.2 927.5,310.7 944.4,306.5 961.3,302.6 978.2,298.9 995.2,295.5 1012.1,292.5 1029.0,289.8"/>
<polyline class="ln A" points="165.6,763.7 182.5,761.6 199.5,759.2 216.4,756.6 233.3,753.6 250.2,750.4 267.2,747.0 284.1,743.4 301.0,739.6 318.0,735.6 334.9,731.5 351.8,727.2 368.8,722.4 385.7,717.3 402.6,711.8 419.5,705.9 436.5,699.9 453.4,693.6 470.3,687.1 487.3,680.4 504.2,673.6 521.1,666.0 538.1,657.4 555.0,647.9 571.9,638.0 588.9,628.1 605.8,618.4 622.7,609.4 639.6,601.4 656.6,594.8 673.5,589.9 690.4,586.2 707.4,583.2 724.3,580.6 741.2,578.3 758.1,576.2 775.1,574.1 792.0,572.0 808.9,569.8 825.9,567.1 842.8,564.1 859.7,560.6 876.7,556.9 893.6,552.9 910.5,548.6 927.5,544.1 944.4,539.3 961.3,534.4 978.2,529.2 995.2,523.8 1012.1,518.3 1029.0,512.6"/>
<polyline class="ln A" points="165.6,763.7 182.5,757.7 199.5,751.6 216.4,745.7 233.3,739.8 250.2,733.9 267.2,728.2 284.1,722.5 301.0,716.8 318.0,711.3 334.9,705.8 351.8,700.2 368.8,694.5 385.7,688.8 402.6,683.1 419.5,677.5 436.5,672.1 453.4,667.0 470.3,662.3 487.3,658.0 504.2,654.3 521.1,651.0 538.1,647.9 555.0,645.0 571.9,642.4 588.9,639.8 605.8,637.4 622.7,635.1 639.6,632.9 656.6,630.7 673.5,628.5 690.4,626.3 707.4,624.3 724.3,622.2 741.2,620.3 758.1,618.4 775.1,616.5 792.0,614.7 808.9,612.8 825.9,611.0 842.8,609.2 859.7,607.3 876.7,605.5 893.6,603.7 910.5,601.9 927.5,600.2 944.4,598.4 961.3,596.7 978.2,594.9 995.2,593.2 1012.1,591.5 1029.0,589.9"/>
<polyline class="ln L" points="165.6,431.4 182.5,427.6 199.5,424.1 216.4,420.9 233.3,418.1 250.2,415.6 267.2,413.5 284.1,411.8 301.0,410.6 318.0,409.8 334.9,409.5 351.8,409.9 368.8,410.9 385.7,412.3 402.6,414.1 419.5,416.0 436.5,417.9 453.4,419.6 470.3,421.1 487.3,422.1 504.2,422.4 521.1,422.2 538.1,421.6 555.0,420.6 571.9,419.4 588.9,417.9 605.8,416.3 622.7,414.6 639.6,412.9 656.6,411.2 673.5,409.5 690.4,408.0 707.4,406.3 724.3,404.6 741.2,402.7 758.1,400.8 775.1,398.9 792.0,396.8 808.9,394.7 825.9,392.5 842.8,390.2 859.7,387.8 876.7,385.3 893.6,382.7 910.5,380.0 927.5,377.1 944.4,374.2 961.3,371.1 978.2,368.0 995.2,364.8 1012.1,361.4 1029.0,358.0"/>
<polyline class="ln L" points="165.6,667.1 182.5,660.1 199.5,653.2 216.4,646.4 233.3,639.8 250.2,633.2 267.2,626.9 284.1,620.6 301.0,614.5 318.0,608.5 334.9,602.7 351.8,597.1 368.8,591.6 385.7,586.3 402.6,581.0 419.5,575.9 436.5,570.9 453.4,565.9 470.3,561.0 487.3,556.1 504.2,551.2 521.1,546.3 538.1,541.5 555.0,536.6 571.9,531.8 588.9,527.1 605.8,522.4 622.7,517.9 639.6,513.4 656.6,509.1 673.5,504.9 690.4,500.8 707.4,497.1 724.3,493.4 741.2,489.9 758.1,486.5 775.1,483.0 792.0,479.4 808.9,475.6 825.9,471.7 842.8,467.5 859.7,463.0 876.7,458.4 893.6,453.6 910.5,448.6 927.5,443.5 944.4,438.2 961.3,432.8 978.2,427.2 995.2,421.4 1012.1,415.5 1029.0,409.5"/>
<polyline class="ln L" points="165.6,611.8 182.5,604.5 199.5,597.1 216.4,589.5 233.3,581.7 250.2,573.8 267.2,565.7 284.1,557.5 301.0,549.1 318.0,540.6 334.9,531.9 351.8,522.9 368.8,513.6 385.7,503.9 402.6,494.1 419.5,484.1 436.5,474.0 453.4,464.1 470.3,454.2 487.3,444.6 504.2,435.3 521.1,426.1 538.1,416.7 555.0,407.2 571.9,397.8 588.9,388.6 605.8,379.6 622.7,371.1 639.6,363.1 656.6,355.7 673.5,349.0 690.4,342.9 707.4,337.2 724.3,331.7 741.2,326.5 758.1,321.5 775.1,316.8 792.0,312.4 808.9,308.1 825.9,304.0 842.8,300.1 859.7,296.3 876.7,292.5 893.6,288.9 910.5,285.5 927.5,282.1 944.4,278.9 961.3,275.8 978.2,272.9 995.2,270.2 1012.1,267.6 1029.0,265.3"/>
<polyline class="ln E" points="165.6,345.1 182.5,339.8 199.5,334.5 216.4,329.3 233.3,324.1 250.2,318.9 267.2,313.8 284.1,308.7 301.0,303.6 318.0,298.6 334.9,293.6 351.8,288.6 368.8,283.6 385.7,278.6 402.6,273.6 419.5,268.6 436.5,263.8 453.4,259.0 470.3,254.5 487.3,250.1 504.2,246.0 521.1,242.1 538.1,238.4 555.0,234.9 571.9,231.5 588.9,228.2 605.8,224.9 622.7,221.6 639.6,218.3 656.6,214.8 673.5,211.2 690.4,207.4 707.4,203.3 724.3,199.1 741.2,194.9 758.1,190.6 775.1,186.4 792.0,182.3 808.9,178.4 825.9,174.7 842.8,171.3 859.7,168.2 876.7,165.4 893.6,162.7 910.5,160.0 927.5,157.1 944.4,154.1 961.3,151.0 978.2,147.8 995.2,144.3 1012.1,140.3 1029.0,135.2"/>
<polyline class="ln U" points="165.6,330.5 182.5,331.7 199.5,326.5 216.4,325.3 233.3,325.0 250.2,321.0 267.2,319.2 284.1,317.9 301.0,316.9 318.0,316.4 334.9,315.8 351.8,317.3 368.8,315.3 385.7,317.1 402.6,318.1 419.5,315.7 436.5,318.4 453.4,318.0 470.3,317.2 487.3,317.0 504.2,318.8 521.1,319.7 538.1,317.7 555.0,317.5 571.9,316.8 588.9,318.2 605.8,315.9 622.7,315.8 639.6,315.1 656.6,315.0 673.5,314.9 690.4,314.5 707.4,312.1 724.3,312.5 741.2,308.6 758.1,305.5 775.1,302.7 792.0,301.9 808.9,298.1 825.9,292.6 842.8,290.1 859.7,289.0 876.7,284.4 893.6,279.4 910.5,275.3 927.5,272.3 944.4,269.5 961.3,264.5 978.2,260.4 995.2,254.9 1012.1,250.2 1029.0,242.7"/>
<polyline class="ln U" points="165.6,262.7 182.5,262.3 199.5,261.8 216.4,261.3 233.3,260.7 250.2,260.1 267.2,259.5 284.1,258.9 301.0,258.2 318.0,257.3 334.9,256.3 351.8,254.7 368.8,252.5 385.7,249.8 402.6,247.1 419.5,242.1 436.5,217.6 453.4,224.1 470.3,222.8 487.3,221.0 504.2,218.9 521.1,216.8 538.1,214.5 555.0,212.3 571.9,210.2 588.9,208.6 605.8,207.4 622.7,206.5 639.6,205.6 656.6,204.6 673.5,203.5 690.4,202.0 707.4,200.3 724.3,198.4 741.2,196.3 758.1,194.1 775.1,191.7 792.0,189.2 808.9,186.7 825.9,184.1 842.8,181.6 859.7,178.9 876.7,176.2 893.6,173.3 910.5,170.3 927.5,167.3 944.4,164.1 961.3,160.8 978.2,157.4 995.2,154.0 1012.1,150.4 1029.0,146.8"/>
<polyline class="ln S" points="165.6,662.0 182.5,653.4 199.5,644.9 216.4,636.4 233.3,627.8 250.2,619.3 267.2,610.8 284.1,602.3 301.0,593.9 318.0,585.4 334.9,577.0 351.8,568.3 368.8,559.2 385.7,549.8 402.6,540.4 419.5,531.2 436.5,522.2 453.4,513.8 470.3,506.0 487.3,499.1 504.2,493.3 521.1,488.3 538.1,483.8 555.0,479.8 571.9,476.0 588.9,472.5 605.8,469.1 622.7,465.8 639.6,462.3 656.6,458.6 673.5,454.6 690.4,450.4 707.4,446.0 724.3,441.5 741.2,436.9 758.1,432.2 775.1,427.6 792.0,423.0 808.9,418.4 825.9,413.9 842.8,409.5 859.7,405.3 876.7,401.0 893.6,396.8 910.5,392.6 927.5,388.5 944.4,384.4 961.3,380.3 978.2,376.3 995.2,372.3 1012.1,368.4 1029.0,364.5"/>
<polyline class="ln E" points="165.6,631.1 182.5,621.1 199.5,611.3 216.4,601.6 233.3,592.1 250.2,582.7 267.2,573.5 284.1,564.4 301.0,555.6 318.0,546.9 334.9,538.3 351.8,530.0 368.8,521.8 385.7,513.7 402.6,505.7 419.5,497.9 436.5,490.3 453.4,482.8 470.3,475.4 487.3,468.2 504.2,461.1 521.1,454.1 538.1,447.2 555.0,440.4 571.9,433.8 588.9,427.2 605.8,420.8 622.7,414.6 639.6,408.4 656.6,402.5 673.5,396.7 690.4,391.0 707.4,385.4 724.3,380.0 741.2,374.6 758.1,369.4 775.1,364.3 792.0,359.3 808.9,354.4 825.9,349.7 842.8,345.1 859.7,340.7 876.7,336.3 893.6,332.0 910.5,327.8 927.5,323.7 944.4,319.7 961.3,315.8 978.2,312.0 995.2,308.3 1012.1,304.8 1029.0,301.3"/>
<polyline class="ln M" points="165.6,628.5 182.5,620.9 199.5,613.3 216.4,605.7 233.3,598.0 250.2,590.3 267.2,582.5 284.1,574.8 301.0,566.9 318.0,559.1 334.9,551.2 351.8,542.4 368.8,532.3 385.7,521.6 402.6,511.1 419.5,501.6 436.5,493.9 453.4,488.7 470.3,486.8 487.3,492.2 504.2,505.0 521.1,520.2 538.1,533.0 555.0,538.3 571.9,531.6 588.9,514.0 605.8,489.1 622.7,460.6 639.6,432.1 656.6,407.5 673.5,390.2 690.4,378.4 707.4,367.5 724.3,357.5 741.2,348.2 758.1,339.8 775.1,332.0 792.0,324.8 808.9,318.2 825.9,312.1 842.8,306.5 859.7,301.1 876.7,295.9 893.6,290.9 910.5,286.1 927.5,281.6 944.4,277.4 961.3,273.6 978.2,270.1 995.2,267.2 1012.1,264.7 1029.0,262.7"/>
<polyline class="ln M" points="165.6,589.9 182.5,572.0 199.5,554.8 216.4,538.2 233.3,522.7 250.2,508.3 267.2,495.3 284.1,483.8 301.0,474.2 318.0,466.5 334.9,461.1 351.8,457.2 368.8,454.2 385.7,451.7 402.6,449.7 419.5,447.8 436.5,446.0 453.4,444.0 470.3,441.7 487.3,438.9 504.2,435.3 521.1,430.1 538.1,422.7 555.0,413.7 571.9,403.6 588.9,392.7 605.8,381.7 622.7,370.9 639.6,360.9 656.6,352.2 673.5,345.1 690.4,339.0 707.4,332.8 724.3,326.6 741.2,320.6 758.1,315.1 775.1,310.2 792.0,306.0 808.9,302.8 825.9,300.8 842.8,300.1 859.7,300.1 876.7,300.2 893.6,300.6 910.5,301.2 927.5,302.2 944.4,303.5 961.3,305.4 978.2,307.9 995.2,311.0 1012.1,314.8 1029.0,319.4"/>
<polyline class="ln U" points="165.6,308.4 182.5,308.4 199.5,305.8 216.4,307.4 233.3,306.0 250.2,303.2 267.2,302.2 284.1,302.2 301.0,297.9 318.0,297.4 334.9,295.8 351.8,295.0 368.8,292.3 385.7,292.2 402.6,289.3 419.5,285.9 436.5,283.7 453.4,281.6 470.3,280.9 487.3,277.5 504.2,272.6 521.1,270.1 538.1,267.6 555.0,267.4 571.9,264.2 588.9,260.5 605.8,255.1 622.7,254.3 639.6,251.2 656.6,248.2 673.5,243.8 690.4,242.2 707.4,238.8 724.3,239.7 741.2,237.9 758.1,233.1 775.1,233.8 792.0,229.6 808.9,227.7 825.9,226.7 842.8,223.6 859.7,218.7 876.7,217.6 893.6,210.3 910.5,209.2 927.5,204.0 944.4,197.3 961.3,193.8 978.2,185.0 995.2,181.2 1012.1,176.5 1029.0,169.9"/>
<polyline class="ln M" points="165.6,287.2 182.5,287.2 199.5,287.2 216.4,287.2 233.3,287.2 250.2,287.2 267.2,287.2 284.1,287.2 301.0,287.2 318.0,287.2 334.9,287.2 351.8,286.6 368.8,285.0 385.7,282.6 402.6,279.4 419.5,275.8 436.5,271.9 453.4,267.8 470.3,263.7 487.3,259.8 504.2,256.3 521.1,252.9 538.1,249.5 555.0,246.0 571.9,242.5 588.9,238.9 605.8,235.3 622.7,231.8 639.6,228.3 656.6,224.8 673.5,221.5 690.4,218.3 707.4,215.1 724.3,212.0 741.2,208.9 758.1,205.8 775.1,202.8 792.0,199.7 808.9,196.7 825.9,193.7 842.8,190.6 859.7,188.2 876.7,186.5 893.6,184.4 910.5,181.0 927.5,175.1 944.4,110.7 961.3,110.7 978.2,164.8 995.2,164.4 1012.1,161.8 1029.0,154.5"/>
<polyline class="ln U" points="165.6,317.9 182.5,313.4 199.5,312.3 216.4,308.5 233.3,304.6 250.2,301.1 267.2,297.6 284.1,295.9 301.0,292.6 318.0,287.6 334.9,284.4 351.8,283.2 368.8,278.1 385.7,278.2 402.6,273.1 419.5,269.9 436.5,268.3 453.4,265.0 470.3,264.2 487.3,258.3 504.2,255.6 521.1,252.5 538.1,248.9 555.0,246.6 571.9,240.2 588.9,237.4 605.8,233.1 622.7,230.6 639.6,225.0 656.6,222.4 673.5,216.7 690.4,215.5 707.4,211.2 724.3,207.0 741.2,202.4 758.1,196.8 775.1,196.1 792.0,190.4 808.9,188.6 825.9,184.0 842.8,181.0 859.7,178.4 876.7,174.2 893.6,171.7 910.5,169.1 927.5,165.1 944.4,163.7 961.3,158.4 978.2,158.5 995.2,153.4 1012.1,154.1 1029.0,149.0"/>
<polyline class="ln L" points="165.6,381.2 182.5,375.6 199.5,370.1 216.4,364.8 233.3,359.6 250.2,354.6 267.2,349.8 284.1,345.1 301.0,340.6 318.0,336.3 334.9,332.3 351.8,328.2 368.8,324.1 385.7,320.0 402.6,316.0 419.5,312.1 436.5,308.6 453.4,305.3 470.3,302.6 487.3,300.4 504.2,298.8 521.1,297.5 538.1,296.4 555.0,295.3 571.9,294.2 588.9,293.3 605.8,292.6 622.7,291.9 639.6,291.4 656.6,291.1 673.5,291.0 690.4,291.4 707.4,292.2 724.3,293.5 741.2,295.1 758.1,296.8 775.1,298.6 792.0,300.1 808.9,301.4 825.9,302.3 842.8,302.6 859.7,302.3 876.7,301.2 893.6,299.5 910.5,297.2 927.5,294.3 944.4,291.0 961.3,287.1 978.2,282.8 995.2,278.2 1012.1,273.2 1029.0,267.9"/>
<polyline class="ln E" points="165.6,336.1 182.5,330.5 199.5,324.8 216.4,319.2 233.3,313.7 250.2,308.1 267.2,302.6 284.1,297.1 301.0,291.6 318.0,286.2 334.9,280.7 351.8,275.3 368.8,269.8 385.7,264.3 402.6,258.8 419.5,253.3 436.5,247.9 453.4,242.6 470.3,237.5 487.3,232.6 504.2,227.9 521.1,223.4 538.1,219.0 555.0,214.8 571.9,210.9 588.9,207.3 605.8,204.1 622.7,201.0 639.6,198.1 656.6,195.5 673.5,193.2 690.4,191.2 707.4,189.5 724.3,187.9 741.2,186.2 758.1,184.1 775.1,181.4 792.0,178.0 808.9,174.3 825.9,170.6 842.8,167.4 859.7,164.5 876.7,161.8 893.6,159.1 910.5,156.7 927.5,154.5 944.4,152.5 961.3,150.6 978.2,148.7 995.2,147.1 1012.1,145.6 1029.0,144.2"/>
<polyline class="ln M" points="165.6,531.9 182.5,520.1 199.5,508.6 216.4,497.4 233.3,486.5 250.2,476.0 267.2,465.8 284.1,456.0 301.0,446.5 318.0,437.5 334.9,428.9 351.8,420.6 368.8,412.7 385.7,405.0 402.6,397.6 419.5,390.4 436.5,383.5 453.4,376.8 470.3,370.3 487.3,364.1 504.2,358.0 521.1,352.1 538.1,346.1 555.0,340.3 571.9,334.6 588.9,329.1 605.8,323.9 622.7,318.9 639.6,314.3 656.6,310.2 673.5,306.5 690.4,303.2 707.4,300.1 724.3,297.2 741.2,294.5 758.1,291.9 775.1,289.5 792.0,287.2 808.9,285.0 825.9,282.8 842.8,280.7 859.7,278.7 876.7,276.6 893.6,274.7 910.5,272.8 927.5,270.9 944.4,269.1 961.3,267.4 978.2,265.8 995.2,264.3 1012.1,262.8 1029.0,261.4"/>
<polyline class="ln U" points="165.6,457.5 182.5,453.6 199.5,449.1 216.4,442.6 233.3,439.8 250.2,435.0 267.2,428.9 284.1,426.4 301.0,419.6 318.0,415.1 334.9,410.8 351.8,402.5 368.8,398.2 385.7,391.9 402.6,383.6 419.5,376.1 436.5,371.7 453.4,365.9 470.3,357.2 487.3,354.3 504.2,350.2 521.1,347.2 538.1,342.7 555.0,341.1 571.9,337.1 588.9,335.3 605.8,334.5 622.7,331.1 639.6,328.4 656.6,328.6 673.5,328.8 690.4,334.2 707.4,342.0 724.3,356.5 741.2,370.1 758.1,380.1 775.1,384.1 792.0,381.7 808.9,375.7 825.9,368.6 842.8,366.1 859.7,364.1 876.7,362.5 893.6,360.2 910.5,360.9 927.5,359.1 944.4,355.1 961.3,350.6 978.2,344.6 995.2,337.2 1012.1,328.5 1029.0,320.5"/>
<polyline class="ln A" points="165.6,609.2 182.5,602.1 199.5,595.0 216.4,587.9 233.3,580.8 250.2,573.8 267.2,566.7 284.1,559.6 301.0,552.5 318.0,545.4 334.9,538.3 351.8,531.1 368.8,523.6 385.7,515.9 402.6,508.2 419.5,500.6 436.5,493.2 453.4,486.0 470.3,479.3 487.3,473.1 504.2,467.5 521.1,462.0 538.1,456.2 555.0,450.7 571.9,446.1 588.9,442.9 605.8,441.7 622.7,443.4 639.6,448.0 656.6,454.8 673.5,462.8 690.4,471.3 707.4,479.6 724.3,486.8 741.2,494.0 758.1,502.3 775.1,510.9 792.0,518.9 808.9,525.6 825.9,530.2 842.8,531.9 859.7,531.6 876.7,530.5 893.6,528.7 910.5,526.0 927.5,522.3 944.4,517.5 961.3,511.5 978.2,504.2 995.2,495.6 1012.1,485.6 1029.0,473.9"/>
<polyline class="ln E" points="165.6,615.6 182.5,606.7 199.5,598.0 216.4,589.6 233.3,581.4 250.2,573.4 267.2,565.8 284.1,558.4 301.0,551.4 318.0,544.7 334.9,538.3 351.8,532.4 368.8,526.7 385.7,521.4 402.6,516.2 419.5,511.3 436.5,506.4 453.4,501.6 470.3,496.8 487.3,491.9 504.2,486.8 521.1,481.7 538.1,476.5 555.0,471.4 571.9,466.2 588.9,461.1 605.8,455.9 622.7,450.8 639.6,445.6 656.6,440.5 673.5,435.3 690.4,430.1 707.4,424.9 724.3,419.7 741.2,414.5 758.1,409.2 775.1,404.0 792.0,398.9 808.9,393.8 825.9,388.7 842.8,383.8 859.7,378.9 876.7,374.0 893.6,369.2 910.5,364.5 927.5,359.7 944.4,355.0 961.3,350.4 978.2,345.8 995.2,341.2 1012.1,336.7 1029.0,332.3"/>
<polyline class="ln E" points="165.6,551.2 182.5,537.6 199.5,524.3 216.4,511.4 233.3,498.9 250.2,486.9 267.2,475.5 284.1,464.5 301.0,454.2 318.0,444.4 334.9,435.3 351.8,426.8 368.8,418.7 385.7,411.1 402.6,403.8 419.5,396.9 436.5,390.1 453.4,383.6 470.3,377.2 487.3,370.8 504.2,364.5 521.1,357.7 538.1,350.3 555.0,342.6 571.9,334.9 588.9,327.5 605.8,320.8 622.7,315.0 639.6,310.5 656.6,307.5 673.5,306.5 690.4,309.8 707.4,318.6 724.3,331.0 741.2,345.1 758.1,359.3 775.1,371.7 792.0,380.5 808.9,383.8 825.9,380.4 842.8,371.8 859.7,360.3 876.7,348.4 893.6,338.2 910.5,332.3 927.5,329.3 944.4,326.6 961.3,324.2 978.2,322.2 995.2,320.7 1012.1,319.7 1029.0,319.4"/>
<polyline class="ln E" points="165.6,525.5 182.5,513.4 199.5,501.6 216.4,490.2 233.3,479.2 250.2,468.6 267.2,458.4 284.1,448.6 301.0,439.4 318.0,430.6 334.9,422.4 351.8,414.8 368.8,407.7 385.7,401.0 402.6,394.7 419.5,388.6 436.5,382.6 453.4,376.7 470.3,370.7 487.3,364.5 504.2,358.0 521.1,351.3 538.1,344.5 555.0,337.5 571.9,330.5 588.9,323.5 605.8,316.6 622.7,309.7 639.6,302.9 656.6,296.2 673.5,289.8 690.4,283.5 707.4,277.4 724.3,271.4 741.2,265.5 758.1,259.6 775.1,253.8 792.0,248.1 808.9,242.3 825.9,236.4 842.8,230.5 859.7,224.6 876.7,218.6 893.6,212.6 910.5,206.7 927.5,200.7 944.4,194.7 961.3,188.8 978.2,182.8 995.2,176.8 1012.1,170.8 1029.0,164.8"/>
<polyline class="ln U" points="521.1,359.3 538.1,356.8 555.0,353.9 571.9,349.5 588.9,347.0 605.8,346.8 622.7,341.9 639.6,341.6 656.6,339.7 673.5,340.2 690.4,336.5 707.4,338.6 724.3,337.5 741.2,336.1 758.1,335.5 775.1,334.9 792.0,332.9 808.9,335.6 825.9,332.5 842.8,332.5 859.7,330.0 876.7,329.0 893.6,326.8 910.5,324.6 927.5,322.6 944.4,322.5 961.3,318.4 978.2,314.7 995.2,311.8 1012.1,308.1 1029.0,306.8"/>
<polyline class="ln M" points="165.6,435.3 182.5,426.4 199.5,417.7 216.4,409.2 233.3,401.0 250.2,393.1 267.2,385.5 284.1,378.1 301.0,371.1 318.0,364.4 334.9,358.0 351.8,351.9 368.8,345.8 385.7,340.0 402.6,334.3 419.5,328.8 436.5,323.6 453.4,318.8 470.3,314.3 487.3,310.2 504.2,306.5 521.1,303.2 538.1,300.0 555.0,297.0 571.9,294.1 588.9,291.5 605.8,289.0 622.7,286.7 639.6,284.5 656.6,282.5 673.5,280.7 690.4,279.1 707.4,277.6 724.3,276.2 741.2,274.9 758.1,273.7 775.1,272.5 792.0,271.4 808.9,270.2 825.9,269.1 842.8,267.9 859.7,266.6 876.7,265.4 893.6,264.2 910.5,263.0 927.5,261.8 944.4,260.7 961.3,259.5 978.2,258.4 995.2,257.2 1012.1,256.1 1029.0,255.0"/>
<polyline class="ln U" points="165.6,488.6 182.5,480.6 199.5,476.8 216.4,470.1 233.3,467.0 250.2,460.7 267.2,454.6 284.1,451.4 301.0,445.7 318.0,441.4 334.9,433.9 351.8,429.6 368.8,425.6 385.7,421.7 402.6,415.8 419.5,414.1 436.5,408.2 453.4,406.1 470.3,399.6 487.3,396.4 504.2,392.0 521.1,382.9 538.1,378.1 555.0,367.9 571.9,361.0 588.9,353.1 605.8,345.6 622.7,337.8 639.6,335.1 656.6,328.5 673.5,329.0 690.4,329.2 707.4,325.7 724.3,328.3 741.2,326.6 758.1,325.1 775.1,326.8 792.0,325.0 808.9,324.9 825.9,324.4 842.8,325.8 859.7,323.2 876.7,321.9 893.6,323.5 910.5,319.5 927.5,318.4 944.4,319.5 961.3,315.9 978.2,314.6 995.2,316.1 1012.1,312.3 1029.0,310.0"/>
<polyline class="ln E" points="165.6,654.3 182.5,650.4 199.5,646.5 216.4,642.7 233.3,638.8 250.2,634.9 267.2,631.1 284.1,627.2 301.0,623.3 318.0,619.5 334.9,615.6 351.8,611.8 368.8,608.2 385.7,604.6 402.6,601.1 419.5,597.5 436.5,593.8 453.4,590.0 470.3,585.9 487.3,581.6 504.2,577.0 521.1,571.9 538.1,566.5 555.0,560.7 571.9,554.6 588.9,548.1 605.8,541.4 622.7,534.5 639.6,527.3 656.6,520.0 673.5,512.6 690.4,504.7 707.4,496.1 724.3,487.0 741.2,477.6 758.1,468.0 775.1,458.3 792.0,448.8 808.9,439.5 825.9,430.7 842.8,422.4 859.7,414.6 876.7,406.9 893.6,399.3 910.5,391.9 927.5,384.7 944.4,377.6 961.3,370.7 978.2,364.0 995.2,357.5 1012.1,351.2 1029.0,345.1"/>
<polyline class="ln U" points="165.6,307.9 182.5,309.7 199.5,308.2 216.4,307.2 233.3,307.5 250.2,307.2 267.2,308.1 284.1,308.3 301.0,307.2 318.0,306.8 334.9,306.2 351.8,305.2 368.8,309.3 385.7,309.8 402.6,309.7 419.5,311.8 436.5,316.2 453.4,316.0 470.3,319.5 487.3,317.4 504.2,320.2 521.1,318.9 538.1,319.3 555.0,318.9 571.9,319.6 588.9,318.7 605.8,318.5 622.7,316.8 639.6,317.0 656.6,315.8 673.5,315.4 690.4,314.2 707.4,312.3 724.3,312.9 741.2,311.8 758.1,310.3 775.1,309.2 792.0,308.2 808.9,307.2 825.9,304.4 842.8,303.6 859.7,299.9 876.7,296.5 893.6,293.9 910.5,290.6 927.5,288.9 944.4,285.6 961.3,280.6 978.2,274.8 995.2,271.6 1012.1,266.7 1029.0,258.3"/>
<polyline class="ln M" points="165.6,396.7 182.5,391.9 199.5,387.3 216.4,382.8 233.3,378.6 250.2,374.5 267.2,370.7 284.1,367.1 301.0,363.8 318.0,360.8 334.9,358.0 351.8,355.6 368.8,353.3 385.7,351.3 402.6,349.4 419.5,347.6 436.5,345.8 453.4,344.1 470.3,342.4 487.3,340.6 504.2,338.7 521.1,336.8 538.1,334.9 555.0,333.1 571.9,331.2 588.9,329.4 605.8,327.5 622.7,325.6 639.6,323.6 656.6,321.5 673.5,319.4 690.4,317.1 707.4,314.6 724.3,311.9 741.2,309.2 758.1,306.5 775.1,303.7 792.0,301.0 808.9,298.4 825.9,295.9 842.8,293.6 859.7,291.5 876.7,289.4 893.6,287.3 910.5,285.3 927.5,283.3 944.4,281.5 961.3,279.6 978.2,277.9 995.2,276.2 1012.1,274.6 1029.0,273.0"/>
<polyline class="ln A" points="165.6,609.2 182.5,607.4 199.5,605.1 216.4,602.6 233.3,599.6 250.2,596.4 267.2,593.0 284.1,589.2 301.0,585.3 318.0,581.2 334.9,577.0 351.8,572.3 368.8,566.9 385.7,561.0 402.6,554.6 419.5,547.8 436.5,540.8 453.4,533.7 470.3,526.5 487.3,519.5 504.2,512.6 521.1,505.1 538.1,496.6 555.0,487.4 571.9,477.9 588.9,468.7 605.8,460.2 622.7,452.8 639.6,446.9 656.6,443.1 673.5,441.7 690.4,445.1 707.4,454.3 724.3,468.2 741.2,485.5 758.1,505.2 775.1,526.0 792.0,546.6 808.9,566.1 825.9,583.0 842.8,596.3 859.7,608.1 876.7,620.1 893.6,630.8 910.5,638.5 927.5,641.4 944.4,640.1 961.3,636.1 978.2,629.3 995.2,619.4 1012.1,606.3 1029.0,589.9"/>
<polyline class="ln A" points="165.6,712.2 182.5,712.0 199.5,711.2 216.4,710.0 233.3,708.4 250.2,706.4 267.2,704.2 284.1,701.6 301.0,698.9 318.0,695.9 334.9,692.9 351.8,688.2 368.8,680.9 385.7,671.7 402.6,661.2 419.5,650.4 436.5,639.9 453.4,630.4 470.3,622.7 487.3,617.5 504.2,615.6 521.1,617.1 538.1,621.0 555.0,626.7 571.9,633.8 588.9,641.4 605.8,649.0 622.7,656.0 639.6,661.8 656.6,665.7 673.5,667.1 690.4,664.3 707.4,656.3 724.3,644.4 741.2,629.6 758.1,612.9 775.1,595.3 792.0,578.1 808.9,562.1 825.9,548.5 842.8,538.3 859.7,530.3 876.7,522.5 893.6,515.0 910.5,507.9 927.5,501.2 944.4,495.0 961.3,489.3 978.2,484.3 995.2,480.1 1012.1,476.6 1029.0,473.9"/>
<polyline class="ln M" points="165.6,606.6 182.5,603.5 199.5,599.3 216.4,594.1 233.3,588.0 250.2,581.2 267.2,573.6 284.1,565.4 301.0,556.8 318.0,547.7 334.9,538.3 351.8,527.1 368.8,512.8 385.7,496.3 402.6,478.4 419.5,459.8 436.5,441.2 453.4,423.6 470.3,407.6 487.3,394.1 504.2,383.8 521.1,375.8 538.1,368.7 555.0,362.3 571.9,356.5 588.9,351.1 605.8,346.0 622.7,341.0 639.6,336.1 656.6,331.1 673.5,325.8 690.4,320.3 707.4,314.7 724.3,309.0 741.2,303.4 758.1,297.9 775.1,292.6 792.0,287.5 808.9,282.7 825.9,278.3 842.8,274.3 859.7,270.6 876.7,267.0 893.6,263.5 910.5,260.2 927.5,257.0 944.4,254.0 961.3,251.2 978.2,248.5 995.2,246.1 1012.1,244.0 1029.0,242.1"/>
<polyline class="ln U" points="165.6,309.6 182.5,308.1 199.5,304.0 216.4,301.1 233.3,300.0 250.2,299.4 267.2,296.5 284.1,296.8 301.0,293.6 318.0,292.2 334.9,295.3 351.8,293.5 368.8,293.1 385.7,294.5 402.6,297.2 419.5,298.4 436.5,297.9 453.4,300.3 470.3,298.2 487.3,299.8 504.2,300.7 521.1,298.9 538.1,300.5 555.0,298.7 571.9,297.8 588.9,298.2 605.8,294.5 622.7,293.7 639.6,294.3 656.6,292.3 673.5,291.7 690.4,288.5 707.4,288.6 724.3,286.6 741.2,286.3 758.1,285.3 775.1,286.0 792.0,283.0 808.9,283.8 825.9,280.8 842.8,280.0 859.7,279.3 876.7,279.0 893.6,275.9 910.5,274.1 927.5,272.1 944.4,272.4 961.3,269.8 978.2,266.6 995.2,263.4 1012.1,263.4 1029.0,258.7"/>
<polyline class="ln U" points="165.6,325.4 182.5,327.9 199.5,324.6 216.4,324.5 233.3,323.9 250.2,321.9 267.2,319.6 284.1,318.8 301.0,314.2 318.0,312.8 334.9,310.9 351.8,306.4 368.8,302.7 385.7,300.8 402.6,297.3 419.5,291.9 436.5,288.3 453.4,282.1 470.3,280.1 487.3,276.7 504.2,273.5 521.1,269.7 538.1,266.9 555.0,261.0 571.9,259.0 588.9,256.6 605.8,252.5 622.7,250.8 639.6,247.6 656.6,246.5 673.5,242.9 690.4,238.3 707.4,234.0 724.3,232.3 741.2,227.9 758.1,224.7 775.1,220.8 792.0,215.9 808.9,210.8 825.9,206.8 842.8,204.5 859.7,202.8 876.7,198.2 893.6,193.2 910.5,188.6 927.5,187.7 944.4,181.6 961.3,177.8 978.2,177.1 995.2,170.5 1012.1,168.1 1029.0,163.6"/>
<polyline class="ln E" points="165.6,370.9 182.5,363.3 199.5,355.9 216.4,348.7 233.3,341.7 250.2,335.1 267.2,328.7 284.1,322.6 301.0,316.9 318.0,311.5 334.9,306.5 351.8,301.9 368.8,297.5 385.7,293.5 402.6,289.7 419.5,286.0 436.5,282.4 453.4,278.8 470.3,275.3 487.3,271.6 504.2,267.9 521.1,263.9 538.1,259.9 555.0,255.8 571.9,251.7 588.9,247.6 605.8,243.6 622.7,239.7 639.6,236.0 656.6,232.5 673.5,229.2 690.4,226.2 707.4,223.4 724.3,220.7 741.2,218.1 758.1,215.5 775.1,213.1 792.0,210.7 808.9,208.3 825.9,205.9 842.8,203.5 859.7,201.0 876.7,198.6 893.6,196.2 910.5,193.8 927.5,191.4 944.4,189.1 961.3,186.8 978.2,184.5 995.2,182.2 1012.1,179.9 1029.0,177.7"/>
<polyline class="ln U" points="165.6,426.9 182.5,418.8 199.5,410.3 216.4,403.0 233.3,396.9 250.2,389.8 267.2,380.8 284.1,376.8 301.0,370.1 318.0,364.9 334.9,358.6 351.8,352.3 368.8,348.4 385.7,342.4 402.6,336.7 419.5,332.7 436.5,326.9 453.4,323.5 470.3,320.3 487.3,315.3 504.2,312.7 521.1,310.3 538.1,308.8 555.0,303.5 571.9,304.3 588.9,301.5 605.8,298.9 622.7,295.7 639.6,296.0 656.6,294.6 673.5,290.3 690.4,287.2 707.4,286.7 724.3,282.4 741.2,282.5 758.1,278.2 775.1,279.0 792.0,274.2 808.9,271.1 825.9,271.0 842.8,266.6 859.7,265.2 876.7,263.8 893.6,262.5 910.5,257.9 927.5,256.6 944.4,253.7 961.3,252.6 978.2,250.9 995.2,248.3 1012.1,243.9 1029.0,243.4"/>
<polyline class="ln A" points="165.6,694.2 182.5,688.8 199.5,683.5 216.4,678.2 233.3,672.9 250.2,667.6 267.2,662.3 284.1,657.1 301.0,651.8 318.0,646.6 334.9,641.4 351.8,636.1 368.8,630.8 385.7,625.4 402.6,620.0 419.5,614.6 436.5,609.3 453.4,604.2 470.3,599.2 487.3,594.4 504.2,589.9 521.1,585.7 538.1,582.0 555.0,578.7 571.9,575.5 588.9,572.3 605.8,568.9 622.7,565.3 639.6,561.2 656.6,556.6 673.5,551.2 690.4,544.1 707.4,534.7 724.3,523.6 741.2,511.1 758.1,497.7 775.1,484.1 792.0,470.5 808.9,457.5 825.9,445.6 842.8,435.3 859.7,426.0 876.7,417.0 893.6,408.2 910.5,399.6 927.5,391.3 944.4,383.4 961.3,375.8 978.2,368.5 995.2,361.6 1012.1,355.1 1029.0,349.0"/>
<polyline class="ln A" points="165.6,721.2 182.5,717.3 199.5,713.3 216.4,709.3 233.3,705.2 250.2,701.1 267.2,697.0 284.1,692.8 301.0,688.6 318.0,684.3 334.9,680.0 351.8,675.6 368.8,671.0 385.7,666.3 402.6,661.6 419.5,656.8 436.5,652.1 453.4,647.5 470.3,643.1 487.3,638.9 504.2,634.9 521.1,631.0 538.1,626.8 555.0,622.5 571.9,618.2 588.9,614.1 605.8,610.5 622.7,607.3 639.6,604.9 656.6,603.3 673.5,602.7 690.4,603.1 707.4,604.1 724.3,605.5 741.2,607.3 758.1,609.2 775.1,611.1 792.0,612.8 808.9,614.3 825.9,615.3 842.8,615.6 859.7,614.5 876.7,611.1 893.6,605.7 910.5,598.5 927.5,589.6 944.4,579.3 961.3,567.8 978.2,555.1 995.2,541.6 1012.1,527.3 1029.0,512.6"/>
<polyline class="ln E" points="165.6,441.7 182.5,434.4 199.5,427.3 216.4,420.3 233.3,413.5 250.2,406.9 267.2,400.5 284.1,394.4 301.0,388.5 318.0,382.8 334.9,377.3 351.8,372.1 368.8,367.1 385.7,362.2 402.6,357.4 419.5,352.9 436.5,348.4 453.4,344.2 470.3,340.1 487.3,336.1 504.2,332.3 521.1,328.6 538.1,325.1 555.0,321.7 571.9,318.5 588.9,315.3 605.8,312.2 622.7,309.2 639.6,306.2 656.6,303.1 673.5,300.1 690.4,296.9 707.4,293.8 724.3,290.6 741.2,287.5 758.1,284.4 775.1,281.3 792.0,278.4 808.9,275.6 825.9,272.9 842.8,270.4 859.7,268.1 876.7,265.8 893.6,263.5 910.5,261.4 927.5,259.3 944.4,257.2 961.3,255.3 978.2,253.5 995.2,251.7 1012.1,250.1 1029.0,248.5"/>
<polyline class="ln S" points="165.6,725.1 182.5,718.2 199.5,710.8 216.4,703.2 233.3,695.2 250.2,686.9 267.2,678.4 284.1,669.5 301.0,660.4 318.0,651.0 334.9,641.4 351.8,631.2 368.8,620.4 385.7,608.9 402.6,597.0 419.5,584.9 436.5,572.6 453.4,560.4 470.3,548.4 487.3,536.7 504.2,525.5 521.1,514.7 538.1,504.3 555.0,494.0 571.9,484.0 588.9,473.9 605.8,463.9 622.7,453.8 639.6,443.6 656.6,433.2 673.5,422.4 690.4,411.2 707.4,399.5 724.3,387.4 741.2,375.1 758.1,362.9 775.1,350.7 792.0,338.8 808.9,327.4 825.9,316.6 842.8,306.5 859.7,297.0 876.7,287.7 893.6,278.6 910.5,269.7 927.5,261.2 944.4,252.9 961.3,244.9 978.2,237.3 995.2,229.9 1012.1,222.9 1029.0,216.3"/>
<polyline class="ln A" points="165.6,817.8 182.5,814.4 199.5,810.6 216.4,806.4 233.3,802.0 250.2,797.3 267.2,792.3 284.1,787.1 301.0,781.6 318.0,776.0 334.9,770.2 351.8,763.9 368.8,757.1 385.7,749.7 402.6,741.9 419.5,733.8 436.5,725.6 453.4,717.2 470.3,708.9 487.3,700.8 504.2,692.9 521.1,684.8 538.1,676.2 555.0,667.3 571.9,658.3 588.9,649.4 605.8,641.0 622.7,633.1 639.6,626.1 656.6,620.2 673.5,615.6 690.4,612.0 707.4,609.0 724.3,606.3 741.2,604.0 758.1,601.8 775.1,599.7 792.0,597.6 808.9,595.3 825.9,592.8 842.8,589.9 859.7,586.7 876.7,583.3 893.6,579.7 910.5,576.0 927.5,572.2 944.4,568.1 961.3,564.0 978.2,559.7 995.2,555.3 1012.1,550.7 1029.0,546.1"/>
<polyline class="ln M" points="165.6,325.8 182.5,323.5 199.5,321.2 216.4,318.7 233.3,316.3 250.2,313.7 267.2,311.1 284.1,308.4 301.0,305.7 318.0,302.9 334.9,300.1 351.8,297.1 368.8,294.1 385.7,290.9 402.6,287.7 419.5,284.4 436.5,281.1 453.4,277.7 470.3,274.4 487.3,271.1 504.2,267.9 521.1,264.6 538.1,261.4 555.0,258.2 571.9,255.0 588.9,251.8 605.8,248.5 622.7,245.3 639.6,242.1 656.6,238.9 673.5,235.7 690.4,232.4 707.4,229.2 724.3,226.0 741.2,222.8 758.1,219.5 775.1,216.3 792.0,213.1 808.9,209.9 825.9,206.7 842.8,203.5 859.7,200.3 876.7,197.1 893.6,193.9 910.5,190.7 927.5,187.6 944.4,184.4 961.3,181.3 978.2,178.1 995.2,175.0 1012.1,171.8 1029.0,168.7"/>
<polyline class="ln A" points="165.6,647.8 182.5,640.4 199.5,633.1 216.4,625.9 233.3,618.7 250.2,611.6 267.2,604.5 284.1,597.5 301.0,590.6 318.0,583.8 334.9,577.0 351.8,570.0 368.8,562.8 385.7,555.5 402.6,548.1 419.5,540.9 436.5,534.1 453.4,527.6 470.3,521.8 487.3,516.8 504.2,512.6 521.1,509.0 538.1,505.7 555.0,502.7 571.9,499.9 588.9,497.2 605.8,494.8 622.7,492.6 639.6,490.5 656.6,488.6 673.5,486.8 690.4,485.2 707.4,483.8 724.3,482.4 741.2,481.2 758.1,480.1 775.1,479.0 792.0,477.8 808.9,476.6 825.9,475.3 842.8,473.9 859.7,472.4 876.7,470.9 893.6,469.3 910.5,467.6 927.5,465.9 944.4,464.1 961.3,462.3 978.2,460.4 995.2,458.5 1012.1,456.6 1029.0,454.6"/>
<polyline class="ln A" points="165.6,448.2 182.5,443.0 199.5,437.9 216.4,432.7 233.3,427.6 250.2,422.4 267.2,417.3 284.1,412.1 301.0,407.0 318.0,401.8 334.9,396.7 351.8,391.4 368.8,386.0 385.7,380.5 402.6,374.9 419.5,369.4 436.5,364.0 453.4,358.8 470.3,353.9 487.3,349.3 504.2,345.1 521.1,341.3 538.1,337.6 555.0,334.2 571.9,330.8 588.9,327.7 605.8,324.6 622.7,321.6 639.6,318.7 656.6,315.8 673.5,312.9 690.4,310.1 707.4,307.3 724.3,304.6 741.2,302.0 758.1,299.4 775.1,296.8 792.0,294.4 808.9,291.9 825.9,289.5 842.8,287.2 859.7,284.9 876.7,282.6 893.6,280.4 910.5,278.2 927.5,276.0 944.4,273.9 961.3,271.8 978.2,269.8 995.2,267.8 1012.1,265.9 1029.0,264.0"/>
<polyline class="ln U" points="165.6,487.6 182.5,480.7 199.5,476.3 216.4,470.1 233.3,464.9 250.2,458.3 267.2,454.6 284.1,450.1 301.0,442.7 318.0,441.0 334.9,434.8 351.8,430.2 368.8,426.2 385.7,419.6 402.6,414.4 419.5,410.5 436.5,406.7 453.4,403.6 470.3,397.9 487.3,395.6 504.2,397.5 521.1,397.3 538.1,396.1 555.0,395.7 571.9,395.4 588.9,395.7 605.8,396.0 622.7,396.2 639.6,398.4 656.6,396.7 673.5,395.9 690.4,397.2 707.4,396.8 724.3,395.4 741.2,393.8 758.1,394.3 775.1,390.1 792.0,388.6 808.9,388.5 825.9,386.6 842.8,385.0 859.7,382.0 876.7,377.6 893.6,376.9 910.5,371.9 927.5,371.3 944.4,367.4 961.3,362.6 978.2,359.8 995.2,355.6 1012.1,349.1 1029.0,345.7"/>
<polyline class="ln U" points="165.6,450.0 182.5,446.6 199.5,441.2 216.4,434.1 233.3,430.3 250.2,427.1 267.2,421.3 284.1,417.8 301.0,413.4 318.0,407.2 334.9,404.5 351.8,399.8 368.8,395.8 385.7,391.1 402.6,385.4 419.5,382.1 436.5,377.4 453.4,373.2 470.3,370.7 487.3,368.0 504.2,365.7 521.1,361.0 538.1,361.5 555.0,359.5 571.9,357.1 588.9,355.6 605.8,354.8 622.7,353.0 639.6,353.3 656.6,353.7 673.5,351.2 690.4,351.0 707.4,348.9 724.3,350.4 741.2,348.2 758.1,350.1 775.1,348.2 792.0,347.8 808.9,348.1 825.9,344.8 842.8,344.0 859.7,345.2 876.7,342.6 893.6,340.9 910.5,341.0 927.5,340.6 944.4,338.3 961.3,338.1 978.2,336.2 995.2,334.5 1012.1,334.4 1029.0,331.7"/>
<polyline class="ln L" points="165.6,473.9 182.5,469.0 199.5,464.0 216.4,458.8 233.3,453.4 250.2,447.9 267.2,442.3 284.1,436.5 301.0,430.7 318.0,424.7 334.9,418.6 351.8,412.2 368.8,405.4 385.7,398.3 402.6,391.0 419.5,383.6 436.5,376.2 453.4,369.0 470.3,361.9 487.3,355.3 504.2,349.0 521.1,343.1 538.1,337.4 555.0,331.8 571.9,326.4 588.9,321.2 605.8,316.0 622.7,311.0 639.6,306.0 656.6,301.1 673.5,296.2 690.4,291.3 707.4,286.4 724.3,281.6 741.2,276.8 758.1,272.1 775.1,267.6 792.0,263.1 808.9,258.9 825.9,254.9 842.8,251.1 859.7,247.5 876.7,244.0 893.6,240.6 910.5,237.3 927.5,234.0 944.4,231.0 961.3,228.0 978.2,225.2 995.2,222.5 1012.1,220.0 1029.0,217.6"/>
<polyline class="ln E" points="165.6,461.1 182.5,455.3 199.5,449.7 216.4,444.2 233.3,438.8 250.2,433.6 267.2,428.5 284.1,423.5 301.0,418.7 318.0,414.0 334.9,409.5 351.8,405.1 368.8,400.7 385.7,396.3 402.6,392.1 419.5,387.9 436.5,384.0 453.4,380.3 470.3,376.8 487.3,373.7 504.2,370.9 521.1,368.4 538.1,366.1 555.0,363.9 571.9,361.9 588.9,360.0 605.8,358.1 622.7,356.4 639.6,354.7 656.6,353.1 673.5,351.6 690.4,350.1 707.4,348.7 724.3,347.4 741.2,346.2 758.1,344.9 775.1,343.8 792.0,342.6 808.9,341.3 825.9,340.1 842.8,338.7 859.7,337.3 876.7,335.9 893.6,334.4 910.5,332.9 927.5,331.4 944.4,329.9 961.3,328.4 978.2,326.8 995.2,325.2 1012.1,323.6 1029.0,322.0"/>
<polyline class="ln U" points="165.6,412.1 182.5,405.6 199.5,400.7 216.4,393.2 233.3,390.0 250.2,383.8 267.2,379.4 284.1,377.7 301.0,372.1 318.0,371.3 334.9,372.4 351.8,369.6 368.8,370.1 385.7,369.4 402.6,370.2 419.5,370.9 436.5,369.9 453.4,371.4 470.3,371.1 487.3,371.4 504.2,371.5 521.1,368.4 538.1,367.5 555.0,363.9 571.9,360.0 588.9,355.4 605.8,351.0 622.7,344.0 639.6,341.2 656.6,339.7 673.5,338.3 690.4,337.7 707.4,339.8 724.3,340.9 741.2,341.0 758.1,342.1 775.1,341.7 792.0,342.3 808.9,343.2 825.9,344.3 842.8,345.0 859.7,346.1 876.7,342.7 893.6,342.0 910.5,341.8 927.5,339.3 944.4,336.7 961.3,336.6 978.2,333.1 995.2,328.9 1012.1,328.6 1029.0,325.8"/>
<polyline class="ln E" points="165.6,589.9 182.5,575.2 199.5,560.9 216.4,547.3 233.3,534.5 250.2,522.7 267.2,512.2 284.1,503.1 301.0,495.7 318.0,490.2 334.9,486.8 351.8,484.8 368.8,483.2 385.7,481.9 402.6,480.8 419.5,479.9 436.5,479.1 453.4,478.1 470.3,477.0 487.3,475.7 504.2,473.9 521.1,471.6 538.1,468.7 555.0,465.2 571.9,461.3 588.9,457.0 605.8,452.6 622.7,448.1 639.6,443.6 656.6,439.3 673.5,435.3 690.4,431.5 707.4,427.7 724.3,423.9 741.2,420.2 758.1,416.4 775.1,412.6 792.0,408.8 808.9,404.9 825.9,400.8 842.8,396.7 859.7,392.4 876.7,388.0 893.6,383.6 910.5,379.1 927.5,374.5 944.4,369.8 961.3,365.0 978.2,360.1 995.2,355.2 1012.1,350.2 1029.0,345.1"/>
<polyline class="ln U" points="165.6,384.7 182.5,376.1 199.5,370.5 216.4,360.2 233.3,352.0 250.2,344.1 267.2,337.2 284.1,330.5 301.0,323.9 318.0,317.9 334.9,314.4 351.8,309.1 368.8,303.9 385.7,297.1 402.6,294.5 419.5,289.9 436.5,284.8 453.4,284.3 470.3,280.5 487.3,276.9 504.2,271.5 521.1,269.1 538.1,267.9 555.0,264.8 571.9,261.2 588.9,255.5 605.8,254.5 622.7,250.6 639.6,248.9 656.6,247.3 673.5,248.4 690.4,249.7 707.4,249.8 724.3,249.9 741.2,251.5 758.1,255.3 775.1,256.9 792.0,257.6 808.9,260.5 825.9,262.0 842.8,262.2 859.7,261.4 876.7,262.0 893.6,259.6 910.5,259.2 927.5,257.3 944.4,256.9 961.3,256.6 978.2,255.9 995.2,253.9 1012.1,249.5 1029.0,248.1"/>
<polyline class="ln M" points="165.6,583.4 182.5,578.8 199.5,574.1 216.4,569.3 233.3,564.3 250.2,559.2 267.2,554.0 284.1,548.6 301.0,543.1 318.0,537.6 334.9,531.9 351.8,526.1 368.8,520.3 385.7,514.3 402.6,508.2 419.5,501.9 436.5,495.5 453.4,488.8 470.3,482.0 487.3,474.9 504.2,467.5 521.1,459.5 538.1,450.6 555.0,441.1 571.9,431.2 588.9,421.2 605.8,411.3 622.7,401.7 639.6,392.7 656.6,384.5 673.5,377.3 690.4,370.9 707.4,364.6 724.3,358.5 741.2,352.8 758.1,347.3 775.1,342.2 792.0,337.4 808.9,333.1 825.9,329.2 842.8,325.8 859.7,322.7 876.7,319.7 893.6,316.8 910.5,314.0 927.5,311.5 944.4,309.1 961.3,306.9 978.2,305.1 995.2,303.5 1012.1,302.2 1029.0,301.3"/>
<polyline class="ln A" points="165.6,757.3 182.5,751.9 199.5,746.5 216.4,741.2 233.3,735.9 250.2,730.7 267.2,725.6 284.1,720.5 301.0,715.5 318.0,710.6 334.9,705.8 351.8,700.7 368.8,695.3 385.7,689.7 402.6,684.1 419.5,678.6 436.5,673.6 453.4,669.1 470.3,665.3 487.3,662.4 504.2,660.7 521.1,659.7 538.1,659.0 555.0,658.4 571.9,657.9 588.9,657.5 605.8,657.1 622.7,656.6 639.6,656.1 656.6,655.3 673.5,654.3 690.4,652.1 707.4,648.0 724.3,642.5 741.2,635.9 758.1,628.7 775.1,621.2 792.0,613.8 808.9,607.0 825.9,601.0 842.8,596.3 859.7,592.4 876.7,588.7 893.6,585.1 910.5,581.6 927.5,578.3 944.4,575.3 961.3,572.5 978.2,569.9 995.2,567.7 1012.1,565.7 1029.0,564.1"/>
<polyline class="ln E" points="165.6,654.3 182.5,641.6 199.5,629.3 216.4,617.4 233.3,606.0 250.2,595.2 267.2,585.0 284.1,575.5 301.0,566.6 318.0,558.5 334.9,551.2 351.8,544.7 368.8,538.7 385.7,533.2 402.6,528.1 419.5,523.3 436.5,518.7 453.4,514.1 470.3,509.5 487.3,504.7 504.2,499.7 521.1,494.5 538.1,489.2 555.0,483.8 571.9,478.4 588.9,473.0 605.8,467.7 622.7,462.6 639.6,457.5 656.6,452.7 673.5,448.2 690.4,443.9 707.4,439.7 724.3,435.7 741.2,431.8 758.1,427.9 775.1,424.2 792.0,420.5 808.9,416.9 825.9,413.2 842.8,409.5 859.7,405.9 876.7,402.2 893.6,398.6 910.5,395.0 927.5,391.5 944.4,388.0 961.3,384.5 978.2,381.0 995.2,377.6 1012.1,374.2 1029.0,370.9"/>
<polyline class="ln A" points="165.6,602.7 182.5,594.4 199.5,586.2 216.4,578.2 233.3,570.2 250.2,562.4 267.2,554.7 284.1,547.2 301.0,539.8 318.0,532.6 334.9,525.5 351.8,518.4 368.8,511.3 385.7,504.3 402.6,497.3 419.5,490.5 436.5,483.9 453.4,477.6 470.3,471.7 487.3,466.1 504.2,461.1 521.1,456.1 538.1,450.9 555.0,445.6 571.9,440.5 588.9,435.7 605.8,431.4 622.7,427.7 639.6,424.9 656.6,423.1 673.5,422.4 690.4,423.7 707.4,427.1 724.3,432.2 741.2,438.3 758.1,445.0 775.1,451.6 792.0,457.8 808.9,462.8 825.9,466.2 842.8,467.5 859.7,465.0 876.7,458.3 893.6,449.2 910.5,439.2 927.5,429.7 944.4,422.4 961.3,416.9 978.2,411.8 995.2,407.1 1012.1,402.9 1029.0,399.2"/>
<polyline class="ln S" points="165.6,712.2 182.5,706.7 199.5,701.1 216.4,695.5 233.3,689.8 250.2,684.0 267.2,678.2 284.1,672.3 301.0,666.3 318.0,660.3 334.9,654.3 351.8,648.1 368.8,642.0 385.7,635.8 402.6,629.6 419.5,623.2 436.5,616.8 453.4,610.3 470.3,603.6 487.3,596.8 504.2,589.9 521.1,582.8 538.1,575.7 555.0,568.4 571.9,561.0 588.9,553.5 605.8,545.8 622.7,537.8 639.6,529.7 656.6,521.3 673.5,512.6 690.4,503.3 707.4,493.2 724.3,482.6 741.2,471.6 758.1,460.5 775.1,449.4 792.0,438.6 808.9,428.2 825.9,418.4 842.8,409.5 859.7,401.3 876.7,393.2 893.6,385.3 910.5,377.7 927.5,370.3 944.4,363.2 961.3,356.3 978.2,349.8 995.2,343.6 1012.1,337.8 1029.0,332.3"/>
<polyline class="ln U" points="165.6,264.1 182.5,262.7 199.5,261.6 216.4,261.3 233.3,261.0 250.2,260.5 267.2,261.8 284.1,260.8 301.0,262.5 318.0,260.0 334.9,260.1 351.8,260.2 368.8,258.2 385.7,254.1 402.6,252.8 419.5,249.0 436.5,245.4 453.4,240.6 470.3,239.4 487.3,236.9 504.2,234.2 521.1,230.4 538.1,231.1 555.0,227.6 571.9,226.2 588.9,225.2 605.8,223.9 622.7,221.8 639.6,222.1 656.6,219.7 673.5,217.9 690.4,217.5 707.4,214.8 724.3,214.4 741.2,214.0 758.1,212.6 775.1,210.6 792.0,208.0 808.9,206.0 825.9,205.4 842.8,205.1 859.7,200.8 876.7,197.2 893.6,197.3 910.5,192.9 927.5,190.5 944.4,184.6 961.3,182.2 978.2,174.8 995.2,172.2 1012.1,166.7 1029.0,162.9"/>
<polyline class="ln E" points="165.6,453.3 182.5,444.9 199.5,436.8 216.4,428.9 233.3,421.4 250.2,414.1 267.2,407.3 284.1,400.8 301.0,394.7 318.0,389.0 334.9,383.8 351.8,379.1 368.8,374.8 385.7,370.8 402.6,367.1 419.5,363.5 436.5,360.0 453.4,356.6 470.3,353.0 487.3,349.2 504.2,345.1 521.1,340.9 538.1,336.6 555.0,332.1 571.9,327.6 588.9,323.1 605.8,318.4 622.7,313.6 639.6,308.8 656.6,303.8 673.5,298.8 690.4,293.3 707.4,287.2 724.3,280.7 741.2,274.1 758.1,267.4 775.1,261.0 792.0,255.1 808.9,249.8 825.9,245.4 842.8,242.1 859.7,239.4 876.7,236.8 893.6,234.3 910.5,231.9 927.5,229.7 944.4,227.8 961.3,226.1 978.2,224.7 995.2,223.7 1012.1,223.0 1029.0,222.8"/>
<polyline class="ln E" points="165.6,291.0 182.5,291.0 199.5,290.8 216.4,290.6 233.3,290.3 250.2,289.9 267.2,289.5 284.1,289.0 301.0,288.4 318.0,287.8 334.9,287.2 351.8,286.3 368.8,285.1 385.7,283.6 402.6,281.7 419.5,279.7 436.5,277.5 453.4,275.1 470.3,272.7 487.3,270.3 504.2,267.9 521.1,265.4 538.1,262.7 555.0,259.9 571.9,256.9 588.9,253.8 605.8,250.6 622.7,247.3 639.6,243.9 656.6,240.5 673.5,236.9 690.4,233.2 707.4,229.2 724.3,224.9 741.2,220.5 758.1,216.0 775.1,211.6 792.0,207.2 808.9,203.1 825.9,199.2 842.8,195.7 859.7,192.5 876.7,189.4 893.6,186.3 910.5,183.3 927.5,180.5 944.4,177.7 961.3,175.1 978.2,172.7 995.2,170.3 1012.1,168.1 1029.0,166.1"/>
<polyline class="ln L" points="165.6,602.7 182.5,592.2 199.5,582.0 216.4,572.1 233.3,562.5 250.2,553.2 267.2,544.3 284.1,535.7 301.0,527.6 318.0,519.9 334.9,512.6 351.8,505.8 368.8,499.6 385.7,493.7 402.6,488.1 419.5,482.7 436.5,477.4 453.4,472.1 470.3,466.6 487.3,460.8 504.2,454.6 521.1,448.1 538.1,441.4 555.0,434.5 571.9,427.4 588.9,420.2 605.8,413.0 622.7,405.7 639.6,398.3 656.6,391.0 673.5,383.8 690.4,376.4 707.4,368.8 724.3,361.1 741.2,353.3 758.1,345.5 775.1,337.9 792.0,330.5 808.9,323.4 825.9,316.6 842.8,310.4 859.7,304.4 876.7,298.7 893.6,293.0 910.5,287.6 927.5,282.3 944.4,277.2 961.3,272.3 978.2,267.6 995.2,263.1 1012.1,258.9 1029.0,255.0"/>
<polyline class="ln A" points="165.6,725.1 182.5,725.0 199.5,724.8 216.4,724.4 233.3,723.8 250.2,723.2 267.2,722.4 284.1,721.6 301.0,720.6 318.0,719.7 334.9,718.7 351.8,717.3 368.8,715.4 385.7,713.0 402.6,710.2 419.5,707.3 436.5,704.2 453.4,701.1 470.3,698.1 487.3,695.3 504.2,692.9 521.1,690.9 538.1,689.1 555.0,687.5 571.9,685.9 588.9,684.4 605.8,682.8 622.7,681.0 639.6,678.9 656.6,676.5 673.5,673.6 690.4,669.4 707.4,663.4 724.3,655.9 741.2,647.2 758.1,637.8 775.1,627.8 792.0,617.7 808.9,607.8 825.9,598.4 842.8,589.9 859.7,581.9 876.7,574.0 893.6,566.2 910.5,558.5 927.5,550.8 944.4,543.1 961.3,535.6 978.2,528.1 995.2,520.7 1012.1,513.4 1029.0,506.1"/>
<polyline class="ln A" points="165.6,712.2 182.5,706.5 199.5,700.9 216.4,695.4 233.3,690.0 250.2,684.7 267.2,679.6 284.1,674.7 301.0,669.9 318.0,665.2 334.9,660.7 351.8,656.1 368.8,651.1 385.7,646.0 402.6,641.0 419.5,636.2 436.5,631.8 453.4,628.0 470.3,625.0 487.3,622.9 504.2,622.1 521.1,621.8 538.1,621.7 555.0,621.6 571.9,621.5 588.9,621.4 605.8,621.3 622.7,621.2 639.6,621.1 656.6,621.0 673.5,620.8 690.4,620.4 707.4,619.9 724.3,619.1 741.2,618.2 758.1,617.1 775.1,615.8 792.0,614.4 808.9,612.8 825.9,611.0 842.8,609.2 859.7,606.8 876.7,603.5 893.6,599.3 910.5,594.4 927.5,588.8 944.4,582.6 961.3,575.8 978.2,568.6 995.2,561.0 1012.1,553.0 1029.0,544.8"/>
<polyline class="ln U" points="165.6,262.0 182.5,263.0 199.5,259.5 216.4,261.1 233.3,260.5 250.2,259.3 267.2,259.0 284.1,257.6 301.0,256.7 318.0,253.1 334.9,252.3 351.8,253.1 368.8,249.3 385.7,250.1 402.6,245.9 419.5,242.4 436.5,242.3 453.4,240.1 470.3,235.6 487.3,234.1 504.2,231.4 521.1,233.0 538.1,232.0 555.0,231.4 571.9,229.5 588.9,229.7 605.8,226.8 622.7,227.8 639.6,225.5 656.6,224.1 673.5,224.3 690.4,220.4 707.4,217.2 724.3,217.0 741.2,213.8 758.1,211.5 775.1,206.3 792.0,203.7 808.9,200.1 825.9,199.1 842.8,196.4 859.7,194.5 876.7,191.3 893.6,185.1 910.5,183.4 927.5,180.8 944.4,178.7 961.3,172.6 978.2,172.6 995.2,167.1 1012.1,164.0 1029.0,160.1"/>
<polyline class="ln M" points="165.6,660.7 182.5,652.5 199.5,643.9 216.4,635.0 233.3,625.7 250.2,616.1 267.2,606.3 284.1,596.1 301.0,585.7 318.0,575.0 334.9,564.1 351.8,552.7 368.8,540.8 385.7,528.4 402.6,515.5 419.5,502.4 436.5,489.0 453.4,475.6 470.3,462.1 487.3,448.6 504.2,435.3 521.1,421.1 538.1,405.4 555.0,388.8 571.9,371.9 588.9,355.4 605.8,339.9 622.7,325.9 639.6,314.2 656.6,305.4 673.5,300.1 690.4,296.9 707.4,294.2 724.3,291.8 741.2,289.8 758.1,288.0 775.1,286.4 792.0,284.9 808.9,283.5 825.9,282.2 842.8,280.7 859.7,279.3 876.7,277.9 893.6,276.5 910.5,275.2 927.5,274.0 944.4,272.8 961.3,271.6 978.2,270.6 995.2,269.6 1012.1,268.7 1029.0,267.9"/>
<polyline class="ln S" points="165.6,609.2 182.5,599.9 199.5,590.9 216.4,582.0 233.3,573.3 250.2,564.7 267.2,556.4 284.1,548.4 301.0,540.5 318.0,532.9 334.9,525.5 351.8,518.2 368.8,511.0 385.7,503.9 402.6,496.9 419.5,490.2 436.5,483.7 453.4,477.5 470.3,471.6 487.3,466.1 504.2,461.1 521.1,456.4 538.1,452.0 555.0,447.8 571.9,443.9 588.9,440.1 605.8,436.4 622.7,432.9 639.6,429.4 656.6,425.9 673.5,422.4 690.4,418.9 707.4,415.4 724.3,412.0 741.2,408.6 758.1,405.3 775.1,402.1 792.0,399.0 808.9,395.9 825.9,393.0 842.8,390.2 859.7,387.5 876.7,384.9 893.6,382.3 910.5,379.8 927.5,377.4 944.4,375.0 961.3,372.7 978.2,370.5 995.2,368.4 1012.1,366.4 1029.0,364.5"/>
<polyline class="ln L" points="165.6,425.0 182.5,418.8 199.5,412.7 216.4,406.6 233.3,400.5 250.2,394.4 267.2,388.4 284.1,382.3 301.0,376.4 318.0,370.4 334.9,364.5 351.8,358.5 368.8,352.3 385.7,346.2 402.6,340.0 419.5,333.9 436.5,327.9 453.4,322.1 470.3,316.6 487.3,311.3 504.2,306.5 521.1,301.9 538.1,297.5 555.0,293.3 571.9,289.2 588.9,285.2 605.8,281.5 622.7,277.8 639.6,274.4 656.6,271.0 673.5,267.9 690.4,264.9 707.4,262.0 724.3,259.3 741.2,256.7 758.1,254.2 775.1,251.7 792.0,249.3 808.9,246.9 825.9,244.5 842.8,242.1 859.7,239.7 876.7,237.2 893.6,234.8 910.5,232.4 927.5,230.1 944.4,227.7 961.3,225.4 978.2,223.1 995.2,220.8 1012.1,218.6 1029.0,216.3"/>
<polyline class="ln E" points="165.6,712.2 182.5,702.3 199.5,692.4 216.4,682.6 233.3,672.8 250.2,663.1 267.2,653.5 284.1,643.9 301.0,634.4 318.0,625.0 334.9,615.6 351.8,606.0 368.8,596.0 385.7,585.8 402.6,575.6 419.5,565.6 436.5,556.0 453.4,547.0 470.3,538.8 487.3,531.5 504.2,525.5 521.1,520.3 538.1,515.8 555.0,511.6 571.9,507.8 588.9,504.2 605.8,500.8 622.7,497.4 639.6,494.1 656.6,490.5 673.5,486.8 690.4,482.9 707.4,479.0 724.3,475.1 741.2,471.2 758.1,467.3 775.1,463.4 792.0,459.5 808.9,455.7 825.9,451.9 842.8,448.2 859.7,444.5 876.7,440.9 893.6,437.3 910.5,433.7 927.5,430.1 944.4,426.6 961.3,423.1 978.2,419.7 995.2,416.3 1012.1,412.9 1029.0,409.5"/>
<polyline class="ln L" points="165.6,386.4 182.5,384.2 199.5,382.0 216.4,379.9 233.3,377.8 250.2,375.7 267.2,373.7 284.1,371.6 301.0,369.7 318.0,367.7 334.9,365.7 351.8,363.8 368.8,361.9 385.7,360.1 402.6,358.2 419.5,356.4 436.5,354.6 453.4,352.8 470.3,351.1 487.3,349.4 504.2,347.7 521.1,346.1 538.1,344.6 555.0,343.1 571.9,341.7 588.9,340.3 605.8,338.9 622.7,337.4 639.6,335.8 656.6,334.1 673.5,332.3 690.4,330.2 707.4,327.9 724.3,325.4 741.2,322.8 758.1,320.0 775.1,317.2 792.0,314.5 808.9,311.7 825.9,309.0 842.8,306.5 859.7,304.1 876.7,301.6 893.6,299.2 910.5,296.8 927.5,294.5 944.4,292.1 961.3,289.8 978.2,287.5 995.2,285.2 1012.1,283.0 1029.0,280.7"/>
<polyline class="ln L" points="165.6,593.7 182.5,586.7 199.5,579.5 216.4,572.2 233.3,564.9 250.2,557.5 267.2,549.9 284.1,542.3 301.0,534.6 318.0,526.9 334.9,519.0 351.8,511.0 368.8,502.7 385.7,494.2 402.6,485.5 419.5,476.9 436.5,468.2 453.4,459.7 470.3,451.3 487.3,443.1 504.2,435.3 521.1,427.7 538.1,420.3 555.0,413.0 571.9,405.8 588.9,398.7 605.8,391.7 622.7,384.8 639.6,378.0 656.6,371.2 673.5,364.5 690.4,357.6 707.4,350.7 724.3,343.8 741.2,336.9 758.1,330.1 775.1,323.5 792.0,317.1 808.9,311.0 825.9,305.3 842.8,300.1 859.7,295.1 876.7,290.3 893.6,285.6 910.5,281.0 927.5,276.7 944.4,272.5 961.3,268.5 978.2,264.8 995.2,261.3 1012.1,258.0 1029.0,255.0"/>
<polyline class="ln E" points="165.6,461.1 182.5,456.6 199.5,452.3 216.4,448.0 233.3,443.9 250.2,440.0 267.2,436.1 284.1,432.5 301.0,429.0 318.0,425.6 334.9,422.4 351.8,419.5 368.8,416.7 385.7,414.1 402.6,411.6 419.5,409.3 436.5,406.9 453.4,404.5 470.3,402.0 487.3,399.4 504.2,396.7 521.1,393.7 538.1,390.4 555.0,387.0 571.9,383.5 588.9,380.0 605.8,376.5 622.7,373.2 639.6,370.0 656.6,367.1 673.5,364.5 690.4,362.1 707.4,359.9 724.3,357.9 741.2,355.9 758.1,354.1 775.1,352.3 792.0,350.5 808.9,348.7 825.9,347.0 842.8,345.1 859.7,343.3 876.7,341.5 893.6,339.7 910.5,337.9 927.5,336.1 944.4,334.4 961.3,332.6 978.2,330.9 995.2,329.2 1012.1,327.5 1029.0,325.8"/>
<polyline class="ln U" points="165.6,335.2 182.5,331.1 199.5,327.3 216.4,323.7 233.3,318.5 250.2,317.5 267.2,313.9 284.1,309.5 301.0,307.1 318.0,306.6 334.9,308.1 351.8,305.1 368.8,304.4 385.7,306.1 402.6,306.3 419.5,306.4 436.5,305.4 453.4,306.9 470.3,306.9 487.3,303.6 504.2,305.2 521.1,304.8 538.1,305.1 555.0,305.3 571.9,304.4 588.9,303.4 605.8,299.9 622.7,298.3 639.6,296.3 656.6,294.7 673.5,296.2 690.4,294.7 707.4,289.6 724.3,287.8 741.2,281.8 758.1,279.4 775.1,275.3 792.0,271.1 808.9,267.3 825.9,262.4 842.8,260.0 859.7,253.6 876.7,250.6 893.6,246.9 910.5,243.1 927.5,240.5 944.4,236.2 961.3,233.3 978.2,230.7 995.2,228.9 1012.1,223.6 1029.0,220.1"/>
<polyline class="ln U" points="165.6,398.4 182.5,392.5 199.5,388.0 216.4,384.5 233.3,379.1 250.2,370.8 267.2,365.4 284.1,361.7 301.0,357.5 318.0,352.0 334.9,346.5 351.8,338.1 368.8,334.3 385.7,328.4 402.6,321.3 419.5,317.7 436.5,311.0 453.4,305.4 470.3,300.8 487.3,296.9 504.2,291.3 521.1,288.2 538.1,283.5 555.0,279.3 571.9,276.4 588.9,269.9 605.8,267.5 622.7,263.3 639.6,260.0 656.6,259.0 673.5,256.3 690.4,250.1 707.4,248.9 724.3,245.5 741.2,242.1 758.1,241.3 775.1,237.6 792.0,235.8 808.9,233.1 825.9,230.6 842.8,226.3 859.7,222.4 876.7,216.6 893.6,213.1 910.5,207.6 927.5,204.6 944.4,199.9 961.3,193.5 978.2,189.2 995.2,181.9 1012.1,177.6 1029.0,172.1"/>
<polyline class="ln L" points="165.6,323.2 182.5,319.3 199.5,315.4 216.4,311.6 233.3,307.8 250.2,304.2 267.2,300.6 284.1,297.1 301.0,293.7 318.0,290.4 334.9,287.2 351.8,283.9 368.8,280.6 385.7,277.2 402.6,273.8 419.5,270.6 436.5,267.5 453.4,264.8 470.3,262.3 487.3,260.3 504.2,258.8 521.1,257.8 538.1,256.9 555.0,256.2 571.9,255.6 588.9,255.0 605.8,254.5 622.7,253.8 639.6,253.1 656.6,252.2 673.5,251.1 690.4,249.5 707.4,247.1 724.3,244.2 741.2,240.8 758.1,237.2 775.1,233.4 792.0,229.7 808.9,226.1 825.9,222.9 842.8,220.2 859.7,217.8 876.7,215.5 893.6,213.2 910.5,211.0 927.5,208.9 944.4,206.9 961.3,204.9 978.2,203.1 995.2,201.4 1012.1,199.8 1029.0,198.3"/>
<polyline class="ln M" points="165.6,422.4 182.5,412.0 199.5,401.8 216.4,391.9 233.3,382.3 250.2,373.1 267.2,364.2 284.1,355.6 301.0,347.4 318.0,339.6 334.9,332.3 351.8,325.1 368.8,318.1 385.7,311.2 402.6,304.6 419.5,298.2 436.5,292.2 453.4,286.6 470.3,281.5 487.3,276.9 504.2,273.0 521.1,269.5 538.1,266.3 555.0,263.3 571.9,260.4 588.9,257.8 605.8,255.3 622.7,253.1 639.6,251.0 656.6,249.0 673.5,247.3 690.4,245.7 707.4,244.3 724.3,243.1 741.2,241.9 758.1,240.9 775.1,239.8 792.0,238.7 808.9,237.4 825.9,236.0 842.8,234.4 859.7,232.5 876.7,230.4 893.6,228.1 910.5,225.6 927.5,222.9 944.4,220.0 961.3,217.0 978.2,213.8 995.2,210.5 1012.1,207.0 1029.0,203.5"/>
<polyline class="ln U" points="165.6,362.3 182.5,360.4 199.5,354.7 216.4,352.3 233.3,350.0 250.2,344.8 267.2,341.8 284.1,340.8 301.0,336.8 318.0,334.5 334.9,331.5 351.8,331.5 368.8,328.4 385.7,325.2 402.6,327.2 419.5,323.2 436.5,323.2 453.4,321.5 470.3,321.0 487.3,319.3 504.2,318.1 521.1,315.7 538.1,315.0 555.0,314.1 571.9,313.3 588.9,314.7 605.8,312.7 622.7,311.6 639.6,313.6 656.6,310.6 673.5,310.1 690.4,310.2 707.4,307.3 724.3,305.5 741.2,303.9 758.1,304.3 775.1,298.9 792.0,298.8 808.9,294.9 825.9,294.8 842.8,290.7 859.7,289.9 876.7,285.2 893.6,281.6 910.5,279.0 927.5,274.1 944.4,271.1 961.3,268.4 978.2,264.2 995.2,259.6 1012.1,253.9 1029.0,247.0"/>
<polyline class="ln U" points="165.6,358.0 182.5,352.4 199.5,347.3 216.4,342.5 233.3,338.3 250.2,334.7 267.2,331.6 284.1,329.1 301.0,327.3 318.0,326.2 334.9,325.8 351.8,326.4 368.8,327.8 385.7,330.0 402.6,332.6 419.5,335.5 436.5,338.3 453.4,341.0 470.3,343.1 487.3,344.6 504.2,345.1 521.1,343.8 538.1,340.1 555.0,335.0 571.9,329.0 588.9,323.1 605.8,318.0 622.7,314.3 639.6,312.9 656.6,317.7 673.5,329.6 690.4,345.1 707.4,360.6 724.3,372.6 741.2,377.3 758.1,372.3 775.1,361.2 792.0,350.2 808.9,345.1 825.9,355.5 842.8,367.0 859.7,369.1 876.7,370.4 893.6,370.9 910.5,367.0 927.5,358.5 944.4,350.3 961.3,343.8 978.2,337.5 995.2,331.3 1012.1,325.2 1029.0,319.4"/>
<polyline class="ln A" points="165.6,664.6 182.5,663.4 199.5,661.8 216.4,660.0 233.3,657.9 250.2,655.6 267.2,653.1 284.1,650.4 301.0,647.5 318.0,644.5 334.9,641.4 351.8,637.9 368.8,633.9 385.7,629.5 402.6,624.6 419.5,619.5 436.5,614.1 453.4,608.7 470.3,603.2 487.3,597.7 504.2,592.4 521.1,586.1 538.1,578.9 555.0,573.0 571.9,570.5 588.9,581.1 605.8,602.7 622.7,633.4 639.6,673.6 656.6,721.2 673.5,765.0 690.4,806.2 707.4,842.3 724.3,861.6 741.2,839.7 758.1,795.9 775.1,754.7 792.0,716.1 808.9,676.2 825.9,641.4 842.8,615.6 859.7,600.1 876.7,588.1 893.6,577.0 910.5,565.4 927.5,554.2 944.4,543.2 961.3,532.5 978.2,522.3 995.2,512.5 1012.1,503.3 1029.0,494.5"/>
<polyline class="ln E" points="165.6,564.1 182.5,557.7 199.5,551.2 216.4,544.8 233.3,538.3 250.2,531.9 267.2,525.5 284.1,519.0 301.0,512.6 318.0,506.1 334.9,499.7 351.8,493.3 368.8,486.8 385.7,480.4 402.6,473.9 419.5,467.5 436.5,461.1 453.4,454.6 470.3,448.2 487.3,441.7 504.2,435.3 521.1,428.8 538.1,422.3 555.0,415.8 571.9,409.2 588.9,402.7 605.8,396.2 622.7,389.7 639.6,383.3 656.6,377.1 673.5,370.9 690.4,364.7 707.4,358.5 724.3,352.2 741.2,345.9 758.1,339.8 775.1,333.8 792.0,328.1 808.9,322.6 825.9,317.6 842.8,312.9 859.7,308.6 876.7,304.4 893.6,300.3 910.5,296.4 927.5,292.6 944.4,289.0 961.3,285.6 978.2,282.4 995.2,279.5 1012.1,276.8 1029.0,274.3"/>
<polyline class="ln A" points="165.6,557.7 182.5,549.7 199.5,541.9 216.4,534.3 233.3,526.9 250.2,519.6 267.2,512.6 284.1,505.8 301.0,499.2 318.0,492.9 334.9,486.8 351.8,480.8 368.8,474.7 385.7,468.7 402.6,462.8 419.5,457.1 436.5,451.8 453.4,446.8 470.3,442.3 487.3,438.5 504.2,435.3 521.1,432.6 538.1,430.3 555.0,428.1 571.9,426.2 588.9,424.4 605.8,422.7 622.7,421.0 639.6,419.4 656.6,417.7 673.5,416.0 690.4,414.2 707.4,412.5 724.3,410.9 741.2,409.2 758.1,407.6 775.1,406.0 792.0,404.4 808.9,402.7 825.9,401.0 842.8,399.2 859.7,397.4 876.7,395.5 893.6,393.6 910.5,391.7 927.5,389.7 944.4,387.8 961.3,385.7 978.2,383.7 995.2,381.6 1012.1,379.5 1029.0,377.3"/>
<polyline class="ln M" points="165.6,619.5 182.5,612.8 199.5,605.6 216.4,597.9 233.3,589.7 250.2,581.0 267.2,571.9 284.1,562.4 301.0,552.6 318.0,542.4 334.9,531.9 351.8,520.4 368.8,507.4 385.7,493.3 402.6,478.4 419.5,463.3 436.5,448.2 453.4,433.6 470.3,419.9 487.3,407.5 504.2,396.7 521.1,387.0 538.1,377.9 555.0,369.1 571.9,360.8 588.9,352.8 605.8,345.3 622.7,338.2 639.6,331.6 656.6,325.3 673.5,319.4 690.4,313.8 707.4,308.5 724.3,303.5 741.2,298.7 758.1,294.2 775.1,289.8 792.0,285.7 808.9,281.7 825.9,277.9 842.8,274.3 859.7,270.8 876.7,267.3 893.6,264.0 910.5,260.8 927.5,257.7 944.4,254.7 961.3,251.9 978.2,249.2 995.2,246.7 1012.1,244.3 1029.0,242.1"/>
<polyline class="ln A" points="165.6,718.7 182.5,717.0 199.5,714.7 216.4,711.8 233.3,708.4 250.2,704.5 267.2,700.2 284.1,695.5 301.0,690.6 318.0,685.4 334.9,680.0 351.8,673.8 368.8,666.1 385.7,657.3 402.6,647.7 419.5,637.6 436.5,627.2 453.4,617.0 470.3,607.1 487.3,598.0 504.2,589.9 521.1,582.4 538.1,575.1 555.0,567.9 571.9,561.0 588.9,554.3 605.8,547.9 622.7,541.7 639.6,535.9 656.6,530.5 673.5,525.5 690.4,520.8 707.4,516.5 724.3,512.4 741.2,508.6 758.1,504.9 775.1,501.3 792.0,497.8 808.9,494.2 825.9,490.6 842.8,486.8 859.7,483.0 876.7,479.1 893.6,475.2 910.5,471.4 927.5,467.5 944.4,463.6 961.3,459.8 978.2,455.9 995.2,452.0 1012.1,448.2 1029.0,444.3"/>
<polyline class="ln U" points="165.6,397.3 182.5,388.5 199.5,382.4 216.4,375.6 233.3,369.5 250.2,365.1 267.2,356.9 284.1,353.1 301.0,346.2 318.0,344.8 334.9,340.1 351.8,336.0 368.8,330.0 385.7,328.6 402.6,324.0 419.5,320.4 436.5,317.3 453.4,315.1 470.3,310.2 487.3,309.2 504.2,307.7 521.1,303.9 538.1,303.1 555.0,298.8 571.9,298.3 588.9,293.6 605.8,294.6 622.7,291.9 639.6,290.7 656.6,288.0 673.5,287.5 690.4,286.5 707.4,285.8 724.3,284.6 741.2,285.4 758.1,284.7 775.1,284.5 792.0,284.3 808.9,282.0 825.9,280.1 842.8,279.3 859.7,277.8 876.7,279.2 893.6,274.9 910.5,274.7 927.5,269.2 944.4,266.0 961.3,264.0 978.2,258.6 995.2,256.7 1012.1,252.5 1029.0,249.1"/>
<polyline class="ln A" points="504.2,319.4 521.1,317.9 538.1,316.3 555.0,314.6 571.9,312.8 588.9,310.9 605.8,308.9 622.7,306.8 639.6,304.6 656.6,302.4 673.5,300.1 690.4,297.4 707.4,294.1 724.3,290.5 741.2,286.7 758.1,282.9 775.1,279.3 792.0,276.0 808.9,273.3 825.9,271.4 842.8,270.4 859.7,270.0 876.7,269.6 893.6,269.3 910.5,268.9 927.5,268.7 944.4,268.4 961.3,268.2 978.2,268.1 995.2,268.0 1012.1,267.9 1029.0,267.9"/>
<polyline class="ln A" points="165.6,816.5 182.5,812.9 199.5,809.0 216.4,804.8 233.3,800.5 250.2,796.1 267.2,791.4 284.1,786.6 301.0,781.7 318.0,776.6 334.9,771.5 351.8,766.1 368.8,760.4 385.7,754.4 402.6,748.2 419.5,741.8 436.5,734.9 453.4,727.3 470.3,719.7 487.3,712.7 504.2,707.1 521.1,702.2 538.1,697.3 555.0,693.1 571.9,690.2 588.9,689.0 605.8,689.0 622.7,689.0 639.6,689.0 656.6,697.4 673.5,709.6 690.4,717.3 707.4,723.8 724.3,727.7 741.2,729.5 758.1,730.3 775.1,727.3 792.0,721.2 808.9,712.4 825.9,701.9 842.8,693.0 859.7,684.2 876.7,674.9 893.6,663.8 910.5,651.9 927.5,641.4 944.4,632.4 961.3,623.8 978.2,615.8 995.2,608.4 1012.1,601.9 1029.0,596.3"/>
<polyline class="ln U" points="165.6,291.2 182.5,291.4 199.5,290.8 216.4,290.1 233.3,287.9 250.2,289.2 267.2,285.9 284.1,286.6 301.0,284.7 318.0,283.9 334.9,280.7 351.8,277.5 368.8,278.3 385.7,276.7 402.6,273.1 419.5,272.7 436.5,269.2 453.4,266.4 470.3,265.3 487.3,259.9 504.2,259.3 521.1,256.0 538.1,254.9 555.0,249.0 571.9,248.9 588.9,244.9 605.8,243.3 622.7,240.1 639.6,237.2 656.6,233.6 673.5,232.0 690.4,228.2 707.4,225.5 724.3,224.6 741.2,220.4 758.1,220.8 775.1,216.8 792.0,213.8 808.9,212.1 825.9,211.8 842.8,208.9 859.7,206.1 876.7,202.7 893.6,198.0 910.5,193.1 927.5,191.7 944.4,186.5 961.3,184.6 978.2,178.2 995.2,176.2 1012.1,172.8 1029.0,168.5"/>
<polyline class="ln E" points="165.6,360.6 182.5,360.1 199.5,359.0 216.4,357.4 233.3,355.3 250.2,352.7 267.2,349.8 284.1,346.7 301.0,343.3 318.0,339.7 334.9,336.1 351.8,331.9 368.8,326.6 385.7,320.4 402.6,313.5 419.5,306.1 436.5,298.5 453.4,290.8 470.3,283.3 487.3,274.8 504.2,265.0 521.1,255.3 538.1,247.2 555.0,242.1 571.9,239.3 588.9,237.0 605.8,235.2 622.7,233.6 639.6,232.2 656.6,230.8 673.5,229.2 690.4,227.7 707.4,226.3 724.3,225.0 741.2,223.7 758.1,222.3 775.1,220.8 792.0,218.9 808.9,216.7 825.9,214.1 842.8,211.1 859.7,207.9 876.7,204.4 893.6,200.9 910.5,196.9 927.5,192.3 944.4,187.5 961.3,182.9 978.2,179.0 995.2,175.6 1012.1,172.6 1029.0,170.0"/>
<polyline class="ln U" points="165.6,309.2 182.5,310.0 199.5,307.5 216.4,308.7 233.3,311.1 250.2,309.7 267.2,310.3 284.1,311.8 301.0,308.6 318.0,311.3 334.9,310.1 351.8,310.7 368.8,309.7 385.7,307.1 402.6,307.0 419.5,307.7 436.5,304.9 453.4,304.5 470.3,304.2 487.3,302.0 504.2,302.3 521.1,299.5 538.1,300.8 555.0,301.0 571.9,297.7 588.9,299.7 605.8,297.2 622.7,296.0 639.6,295.9 656.6,294.2 673.5,295.7 690.4,294.0 707.4,291.3 724.3,290.8 741.2,285.1 758.1,283.3 775.1,280.1 792.0,277.2 808.9,274.2 825.9,272.1 842.8,269.3 859.7,265.7 876.7,263.3 893.6,257.9 910.5,256.1 927.5,250.0 944.4,249.4 961.3,245.0 978.2,239.4 995.2,236.5 1012.1,233.4 1029.0,228.4"/>
<polyline class="ln U" points="165.6,326.2 182.5,327.0 199.5,323.9 216.4,324.1 233.3,324.3 250.2,325.5 267.2,324.3 284.1,325.3 301.0,324.9 318.0,321.0 334.9,322.3 351.8,321.9 368.8,318.0 385.7,316.5 402.6,313.1 419.5,311.9 436.5,307.2 453.4,303.8 470.3,300.7 487.3,297.8 504.2,292.3 521.1,289.9 538.1,287.7 555.0,285.9 571.9,281.8 588.9,279.8 605.8,278.4 622.7,273.3 639.6,270.4 656.6,266.5 673.5,264.1 690.4,264.0 707.4,260.4 724.3,258.7 741.2,256.0 758.1,251.8 775.1,250.0 792.0,247.7 808.9,242.8 825.9,238.6 842.8,235.8 859.7,235.2 876.7,230.8 893.6,228.1 910.5,223.0 927.5,217.2 944.4,215.9 961.3,209.9 978.2,206.5 995.2,202.1 1012.1,196.5 1029.0,193.8"/>
<polyline class="ln E" points="165.6,570.5 182.5,564.7 199.5,558.9 216.4,553.2 233.3,547.4 250.2,541.6 267.2,535.8 284.1,530.0 301.0,524.2 318.0,518.4 334.9,512.6 351.8,506.3 368.8,499.1 385.7,491.5 402.6,483.8 419.5,476.4 436.5,469.5 453.4,463.5 470.3,458.8 487.3,455.7 504.2,454.6 521.1,455.2 538.1,456.6 555.0,458.8 571.9,461.4 588.9,464.3 605.8,467.1 622.7,469.8 639.6,471.9 656.6,473.4 673.5,473.9 690.4,472.5 707.4,468.6 724.3,462.7 741.2,455.2 758.1,446.5 775.1,437.3 792.0,427.8 808.9,418.7 825.9,410.3 842.8,403.1 859.7,396.7 876.7,390.4 893.6,384.3 910.5,378.2 927.5,372.2 944.4,366.3 961.3,360.6 978.2,354.9 995.2,349.4 1012.1,344.0 1029.0,338.7"/>
<polyline class="ln A" points="165.6,731.5 182.5,725.8 199.5,720.2 216.4,714.7 233.3,709.3 250.2,704.1 267.2,698.9 284.1,694.0 301.0,689.2 318.0,684.5 334.9,680.0 351.8,675.5 368.8,671.0 385.7,666.4 402.6,661.9 419.5,657.6 436.5,653.5 453.4,649.8 470.3,646.5 487.3,643.6 504.2,641.4 521.1,639.7 538.1,638.3 555.0,637.1 571.9,636.2 588.9,635.2 605.8,634.3 622.7,633.3 639.6,632.0 656.6,630.5 673.5,628.5 690.4,624.8 707.4,618.7 724.3,610.7 741.2,601.5 758.1,591.7 775.1,582.1 792.0,573.2 808.9,565.7 825.9,560.3 842.8,557.7 859.7,556.6 876.7,555.6 893.6,554.7 910.5,553.9 927.5,553.2 944.4,552.6 961.3,552.1 978.2,551.7 995.2,551.5 1012.1,551.3 1029.0,551.2"/>
<polyline class="ln A" points="165.6,577.0 182.5,571.8 199.5,566.7 216.4,561.5 233.3,556.4 250.2,551.2 267.2,546.1 284.1,540.9 301.0,535.8 318.0,530.6 334.9,525.5 351.8,520.3 368.8,515.2 385.7,510.1 402.6,504.9 419.5,499.8 436.5,494.7 453.4,489.5 470.3,484.4 487.3,479.2 504.2,473.9 521.1,468.3 538.1,461.9 555.0,455.0 571.9,447.9 588.9,440.8 605.8,433.9 622.7,427.4 639.6,421.6 656.6,416.6 673.5,412.9 690.4,410.4 707.4,409.5 724.3,411.7 741.2,417.6 758.1,426.5 775.1,437.6 792.0,449.9 808.9,462.8 825.9,475.4 842.8,486.8 859.7,499.6 876.7,514.9 893.6,529.5 910.5,540.5 927.5,544.8 944.4,544.7 961.3,544.3 978.2,543.0 995.2,540.6 1012.1,536.6 1029.0,530.6"/>
<polyline class="ln A" points="165.6,799.8 182.5,793.8 199.5,787.9 216.4,782.1 233.3,776.4 250.2,770.8 267.2,765.3 284.1,759.9 301.0,754.6 318.0,749.5 334.9,744.4 351.8,739.6 368.8,735.0 385.7,730.6 402.6,726.3 419.5,722.0 436.5,717.7 453.4,713.4 470.3,708.9 487.3,704.3 504.2,699.3 521.1,694.2 538.1,688.8 555.0,683.2 571.9,677.5 588.9,671.6 605.8,665.7 622.7,659.7 639.6,653.6 656.6,647.5 673.5,641.4 690.4,635.2 707.4,628.8 724.3,622.4 741.2,615.8 758.1,609.2 775.1,602.6 792.0,596.1 808.9,589.6 825.9,583.2 842.8,577.0 859.7,570.9 876.7,564.8 893.6,558.8 910.5,552.8 927.5,546.9 944.4,541.0 961.3,535.2 978.2,529.5 995.2,523.8 1012.1,518.2 1029.0,512.6"/>
<polyline class="ln U" points="165.6,318.7 182.5,313.7 199.5,312.3 216.4,308.8 233.3,304.1 250.2,300.4 267.2,297.0 284.1,293.3 301.0,287.2 318.0,285.0 334.9,281.4 351.8,275.5 368.8,270.8 385.7,266.7 402.6,260.9 419.5,259.2 436.5,253.4 453.4,247.7 470.3,243.1 487.3,242.3 504.2,237.4 521.1,236.8 538.1,233.9 555.0,230.7 571.9,228.8 588.9,229.7 605.8,227.4 622.7,223.1 639.6,222.8 656.6,220.8 673.5,219.8 690.4,216.7 707.4,214.9 724.3,212.8 741.2,209.5 758.1,205.7 775.1,203.0 792.0,200.0 808.9,197.5 825.9,194.0 842.8,189.2 859.7,185.7 876.7,182.4 893.6,181.2 910.5,176.1 927.5,171.9 944.4,169.6 961.3,165.0 978.2,159.6 995.2,156.0 1012.1,151.6 1029.0,149.6"/>
<polyline class="ln S" points="165.6,441.7 182.5,435.7 199.5,429.6 216.4,423.7 233.3,417.8 250.2,411.9 267.2,406.2 284.1,400.5 301.0,394.8 318.0,389.3 334.9,383.8 351.8,378.2 368.8,372.3 385.7,366.4 402.6,360.5 419.5,354.7 436.5,349.2 453.4,344.1 470.3,339.5 487.3,335.5 504.2,332.3 521.1,329.6 538.1,327.3 555.0,325.2 571.9,323.3 588.9,321.5 605.8,319.8 622.7,318.2 639.6,316.5 656.6,314.8 673.5,312.9 690.4,311.1 707.4,309.3 724.3,307.5 741.2,305.7 758.1,304.0 775.1,302.1 792.0,300.2 808.9,298.2 825.9,296.0 842.8,293.6 859.7,291.0 876.7,288.2 893.6,285.2 910.5,282.0 927.5,278.6 944.4,275.1 961.3,271.3 978.2,267.4 995.2,263.4 1012.1,259.3 1029.0,255.0"/>
<polyline class="ln L" points="165.6,467.5 182.5,460.4 199.5,453.3 216.4,446.2 233.3,439.2 250.2,432.1 267.2,425.0 284.1,417.9 301.0,410.8 318.0,403.7 334.9,396.7 351.8,389.3 368.8,381.6 385.7,373.7 402.6,365.8 419.5,357.9 436.5,350.3 453.4,343.2 470.3,336.6 487.3,330.8 504.2,325.8 521.1,321.4 538.1,317.0 555.0,312.8 571.9,308.8 588.9,305.0 605.8,301.7 622.7,298.8 639.6,296.4 656.6,294.7 673.5,293.6 690.4,293.0 707.4,292.6 724.3,292.2 741.2,291.9 758.1,291.7 775.1,291.5 792.0,291.2 808.9,290.8 825.9,290.4 842.8,289.8 859.7,288.7 876.7,286.8 893.6,284.3 910.5,281.1 927.5,277.4 944.4,273.2 961.3,268.6 978.2,263.6 995.2,258.4 1012.1,252.9 1029.0,247.3"/>
<polyline class="ln L" points="165.6,461.1 182.5,450.9 199.5,441.0 216.4,431.5 233.3,422.4 250.2,413.6 267.2,405.4 284.1,397.5 301.0,390.3 318.0,383.5 334.9,377.3 351.8,371.6 368.8,366.0 385.7,360.7 402.6,355.6 419.5,350.9 436.5,346.4 453.4,342.3 470.3,338.5 487.3,335.2 504.2,332.3 521.1,329.7 538.1,327.3 555.0,325.1 571.9,323.0 588.9,321.2 605.8,319.4 622.7,317.7 639.6,316.1 656.6,314.5 673.5,312.9 690.4,311.5 707.4,310.1 724.3,308.9 741.2,307.7 758.1,306.6 775.1,305.4 792.0,304.2 808.9,302.9 825.9,301.6 842.8,300.1 859.7,298.4 876.7,296.7 893.6,294.8 910.5,292.9 927.5,290.8 944.4,288.7 961.3,286.5 978.2,284.2 995.2,281.8 1012.1,279.4 1029.0,276.9"/>
<polyline class="ln A" points="165.6,589.9 182.5,583.5 199.5,577.4 216.4,571.4 233.3,565.7 250.2,560.3 267.2,555.2 284.1,550.5 301.0,546.0 318.0,542.0 334.9,538.3 351.8,535.0 368.8,532.0 385.7,529.1 402.6,526.4 419.5,523.9 436.5,521.5 453.4,519.2 470.3,517.0 487.3,514.8 504.2,512.6 521.1,510.5 538.1,508.6 555.0,506.8 571.9,505.1 588.9,503.4 605.8,501.7 622.7,499.8 639.6,497.9 656.6,495.7 673.5,493.3 690.4,490.4 707.4,487.1 724.3,483.4 741.2,479.5 758.1,475.3 775.1,471.1 792.0,466.8 808.9,462.5 825.9,458.5 842.8,454.6 859.7,451.0 876.7,447.3 893.6,443.7 910.5,440.1 927.5,436.6 944.4,433.1 961.3,429.6 978.2,426.1 995.2,422.7 1012.1,419.3 1029.0,416.0"/>
<polyline class="ln L" points="165.6,439.2 182.5,434.4 199.5,429.8 216.4,425.3 233.3,420.9 250.2,416.5 267.2,412.3 284.1,408.2 301.0,404.2 318.0,400.4 334.9,396.7 351.8,393.0 368.8,389.5 385.7,386.0 402.6,382.6 419.5,379.2 436.5,376.0 453.4,372.9 470.3,370.0 487.3,367.1 504.2,364.5 521.1,361.9 538.1,359.3 555.0,356.8 571.9,354.3 588.9,352.0 605.8,349.8 622.7,347.7 639.6,345.8 656.6,344.1 673.5,342.6 690.4,341.3 707.4,340.2 724.3,339.2 741.2,338.4 758.1,337.6 775.1,336.7 792.0,335.8 808.9,334.8 825.9,333.7 842.8,332.3 859.7,330.6 876.7,328.5 893.6,326.2 910.5,323.5 927.5,320.6 944.4,317.4 961.3,314.1 978.2,310.5 995.2,306.7 1012.1,302.8 1029.0,298.8"/>
<polyline class="ln A" points="165.6,641.4 182.5,637.6 199.5,633.5 216.4,629.1 233.3,624.3 250.2,619.2 267.2,613.8 284.1,608.1 301.0,602.2 318.0,596.2 334.9,589.9 351.8,583.0 368.8,575.3 385.7,567.0 402.6,558.2 419.5,549.1 436.5,540.0 453.4,530.9 470.3,522.1 487.3,513.8 504.2,506.1 521.1,498.4 538.1,490.1 555.0,481.5 571.9,473.0 588.9,464.8 605.8,457.4 622.7,451.1 639.6,446.1 656.6,442.9 673.5,441.7 690.4,444.7 707.4,452.9 724.3,465.3 741.2,480.9 758.1,498.6 775.1,517.4 792.0,536.4 808.9,554.4 825.9,570.4 842.8,583.4 859.7,595.7 876.7,608.3 893.6,618.1 910.5,622.1 927.5,621.8 944.4,620.6 961.3,618.0 978.2,613.5 995.2,606.6 1012.1,596.7 1029.0,583.4"/>
<polyline class="ln U" points="165.6,269.5 182.5,264.8 199.5,262.9 216.4,262.2 233.3,260.6 250.2,257.6 267.2,254.2 284.1,253.2 301.0,250.2 318.0,250.2 334.9,246.7 351.8,247.1 368.8,242.8 385.7,243.7 402.6,243.3 419.5,239.2 436.5,239.6 453.4,238.0 470.3,237.6 487.3,235.8 504.2,233.4 521.1,232.0 538.1,229.2 555.0,227.9 571.9,225.0 588.9,224.1 605.8,220.0 622.7,217.1 639.6,213.5 656.6,211.6 673.5,211.4 690.4,207.8 707.4,203.8 724.3,201.3 741.2,200.9 758.1,198.3 775.1,193.8 792.0,191.2 808.9,189.6 825.9,186.4 842.8,183.4 859.7,179.2 876.7,178.5 893.6,173.9 910.5,171.2 927.5,170.7 944.4,165.9 961.3,166.2 978.2,162.5 995.2,161.0 1012.1,157.7 1029.0,155.3"/>
<polyline class="ln U" points="165.6,288.8 182.5,286.8 199.5,286.8 216.4,284.8 233.3,280.5 250.2,281.2 267.2,277.8 284.1,275.0 301.0,272.4 318.0,271.7 334.9,268.5 351.8,266.4 368.8,261.1 385.7,257.9 402.6,254.1 419.5,252.0 436.5,250.0 453.4,243.4 470.3,242.9 487.3,239.4 504.2,237.4 521.1,233.5 538.1,230.2 555.0,227.2 571.9,226.5 588.9,226.2 605.8,221.3 622.7,222.1 639.6,219.6 656.6,217.3 673.5,212.4 690.4,211.4 707.4,206.9 724.3,204.9 741.2,202.0 758.1,197.6 775.1,196.3 792.0,192.6 808.9,186.9 825.9,184.6 842.8,182.0 859.7,177.7 876.7,173.9 893.6,170.6 910.5,167.9 927.5,164.0 944.4,161.9 961.3,157.4 978.2,152.4 995.2,148.7 1012.1,148.3 1029.0,143.8"/>
<polyline class="ln M" points="165.6,538.3 182.5,526.9 199.5,515.6 216.4,504.6 233.3,493.9 250.2,483.4 267.2,473.2 284.1,463.2 301.0,453.6 318.0,444.3 334.9,435.3 351.8,426.6 368.8,418.1 385.7,409.8 402.6,401.7 419.5,393.9 436.5,386.3 453.4,378.9 470.3,371.7 487.3,364.8 504.2,358.0 521.1,351.4 538.1,344.8 555.0,338.4 571.9,332.1 588.9,325.9 605.8,320.1 622.7,314.5 639.6,309.3 656.6,304.4 673.5,300.1 690.4,296.1 707.4,292.4 724.3,289.0 741.2,285.8 758.1,282.8 775.1,279.8 792.0,276.9 808.9,274.0 825.9,271.0 842.8,267.9 859.7,264.7 876.7,261.5 893.6,258.3 910.5,255.1 927.5,252.0 944.4,248.8 961.3,245.7 978.2,242.5 995.2,239.4 1012.1,236.2 1029.0,233.1"/>
<polyline class="ln A" points="165.6,647.8 182.5,643.3 199.5,638.8 216.4,634.3 233.3,629.8 250.2,625.3 267.2,620.8 284.1,616.3 301.0,611.8 318.0,607.2 334.9,602.7 351.8,597.8 368.8,592.3 385.7,586.4 402.6,580.4 419.5,574.6 436.5,569.2 453.4,564.6 470.3,560.9 487.3,558.5 504.2,557.7 521.1,557.7 538.1,557.7 555.0,557.7 571.9,557.7 588.9,557.7 605.8,557.7 622.7,557.7 639.6,557.7 656.6,557.7 673.5,557.7 690.4,557.8 707.4,558.3 724.3,559.1 741.2,559.9 758.1,560.9 775.1,561.8 792.0,562.7 808.9,563.4 825.9,563.9 842.8,564.1 859.7,562.9 876.7,559.5 893.6,554.0 910.5,546.7 927.5,537.7 944.4,527.3 961.3,515.7 978.2,503.1 995.2,489.6 1012.1,475.5 1029.0,461.1"/>
<polyline class="ln E" points="165.6,499.7 182.5,493.3 199.5,486.8 216.4,480.4 233.3,473.9 250.2,467.5 267.2,461.1 284.1,454.6 301.0,448.2 318.0,441.7 334.9,435.3 351.8,428.9 368.8,422.4 385.7,416.0 402.6,409.5 419.5,403.1 436.5,396.7 453.4,390.2 470.3,383.8 487.3,377.3 504.2,370.9 521.1,364.1 538.1,356.6 555.0,348.9 571.9,341.0 588.9,333.3 605.8,326.1 622.7,319.5 639.6,313.9 656.6,309.5 673.5,306.5 690.4,304.6 707.4,303.0 724.3,301.7 741.2,300.7 758.1,299.7 775.1,298.8 792.0,297.8 808.9,296.7 825.9,295.3 842.8,293.6 859.7,291.6 876.7,289.1 893.6,286.4 910.5,283.3 927.5,279.9 944.4,276.3 961.3,272.4 978.2,268.3 995.2,264.1 1012.1,259.6 1029.0,255.0"/>
<polyline class="ln E" points="165.6,774.0 182.5,766.5 199.5,758.9 216.4,751.5 233.3,744.1 250.2,736.7 267.2,728.2 284.1,718.7 301.0,709.8 318.0,703.2 334.9,700.6 351.8,702.9 368.8,708.7 385.7,716.1 402.6,729.7 419.5,750.2 436.5,769.7 453.4,780.5 470.3,783.1 487.3,763.7 504.2,739.3 521.1,717.4 538.1,704.3 555.0,692.9 571.9,679.8 588.9,667.1 605.8,656.0 622.7,645.6 639.6,634.9 656.6,623.8 673.5,612.4 690.4,600.2 707.4,586.5 724.3,571.8 741.2,556.3 758.1,540.9 775.1,526.5 792.0,512.7 808.9,499.7 825.9,487.5 842.8,476.5 859.7,467.0 876.7,458.5 893.6,450.8 910.5,444.2 927.5,437.9 944.4,430.7 961.3,423.7 978.2,417.4 995.2,411.4 1012.1,405.7 1029.0,400.5"/>
<polyline class="ln A" points="165.6,692.9 182.5,684.9 199.5,676.9 216.4,669.0 233.3,661.2 250.2,653.4 267.2,645.7 284.1,638.1 301.0,630.5 318.0,623.0 334.9,615.6 351.8,607.9 368.8,599.8 385.7,591.4 402.6,583.0 419.5,574.8 436.5,567.0 453.4,559.9 470.3,553.7 487.3,548.6 504.2,544.8 521.1,542.0 538.1,539.6 555.0,537.5 571.9,535.7 588.9,534.1 605.8,532.5 622.7,531.0 639.6,529.3 656.6,527.5 673.5,525.5 690.4,523.2 707.4,520.7 724.3,518.2 741.2,515.6 758.1,512.9 775.1,510.2 792.0,507.5 808.9,504.8 825.9,502.2 842.8,499.7 859.7,497.3 876.7,494.8 893.6,492.4 910.5,490.0 927.5,487.7 944.4,485.3 961.3,483.0 978.2,480.7 995.2,478.4 1012.1,476.2 1029.0,473.9"/>
<polyline class="ln E" points="165.6,416.0 182.5,411.2 199.5,406.4 216.4,401.8 233.3,397.2 250.2,392.6 267.2,388.1 284.1,383.7 301.0,379.4 318.0,375.1 334.9,370.9 351.8,366.7 368.8,362.5 385.7,358.4 402.6,354.3 419.5,350.2 436.5,346.3 453.4,342.5 470.3,338.9 487.3,335.5 504.2,332.3 521.1,329.2 538.1,326.2 555.0,323.2 571.9,320.4 588.9,317.7 605.8,315.1 622.7,312.6 639.6,310.4 656.6,308.3 673.5,306.5 690.4,304.9 707.4,303.4 724.3,302.1 741.2,300.9 758.1,299.8 775.1,298.6 792.0,297.5 808.9,296.3 825.9,295.0 842.8,293.6 859.7,292.1 876.7,290.5 893.6,288.9 910.5,287.3 927.5,285.5 944.4,283.8 961.3,282.0 978.2,280.1 995.2,278.2 1012.1,276.3 1029.0,274.3"/>
<polyline class="ln L" points="165.6,400.5 182.5,397.4 199.5,394.3 216.4,391.2 233.3,388.2 250.2,385.2 267.2,382.3 284.1,379.4 301.0,376.5 318.0,373.7 334.9,370.9 351.8,368.1 368.8,365.4 385.7,362.7 402.6,360.0 419.5,357.3 436.5,354.7 453.4,352.2 470.3,349.8 487.3,347.4 504.2,345.1 521.1,342.9 538.1,340.4 555.0,338.0 571.9,335.6 588.9,333.3 605.8,331.2 622.7,329.3 639.6,327.7 656.6,326.5 673.5,325.8 690.4,325.4 707.4,325.1 724.3,324.9 741.2,324.7 758.1,324.5 775.1,324.3 792.0,324.1 808.9,323.9 825.9,323.6 842.8,323.2 859.7,322.7 876.7,322.1 893.6,321.2 910.5,320.2 927.5,319.1 944.4,317.9 961.3,316.5 978.2,315.1 995.2,313.6 1012.1,312.0 1029.0,310.4"/>
<polyline class="ln M" points="165.6,573.1 182.5,570.2 199.5,566.5 216.4,561.9 233.3,556.7 250.2,550.8 267.2,544.5 284.1,537.6 301.0,530.4 318.0,522.9 334.9,515.2 351.8,506.5 368.8,496.5 385.7,485.4 402.6,473.5 419.5,461.1 436.5,446.8 453.4,431.1 470.3,417.3 487.3,406.0 504.2,395.7 521.1,386.2 538.1,377.2 555.0,368.4 571.9,359.5 588.9,350.3 605.8,341.5 622.7,333.3 639.6,324.2 656.6,312.9 673.5,296.2 690.4,292.7 707.4,290.6 724.3,289.3 741.2,287.9 758.1,285.9 775.1,282.8 792.0,279.0 808.9,274.9 825.9,271.1 842.8,267.9 859.7,265.1 876.7,262.5 893.6,259.9 910.5,257.4 927.5,255.1 944.4,252.9 961.3,250.8 978.2,249.0 995.2,247.3 1012.1,245.9 1029.0,244.7"/>
<polyline class="ln U" points="165.6,624.2 182.5,615.5 199.5,607.2 216.4,598.8 233.3,589.6 250.2,581.9 267.2,571.7 284.1,565.7 301.0,553.8 318.0,548.0 334.9,536.9 351.8,529.0 368.8,519.5 385.7,512.3 402.6,503.8 419.5,493.9 436.5,486.6 453.4,477.1 470.3,468.2 487.3,461.4 504.2,451.0 521.1,444.5 538.1,436.7 555.0,428.9 571.9,420.9 588.9,416.6 605.8,409.4 622.7,402.6 639.6,392.5 656.6,387.4 673.5,379.1 690.4,373.7 707.4,363.4 724.3,358.6 741.2,348.9 758.1,343.5 775.1,332.9 792.0,327.2 808.9,319.2 825.9,312.5 842.8,307.6 859.7,300.6 876.7,296.3 893.6,287.6 910.5,283.2 927.5,278.3 944.4,272.6 961.3,267.4 978.2,263.3 995.2,257.8 1012.1,252.2 1029.0,248.3"/>
<polyline class="ln U" points="267.2,477.3 284.1,473.5 301.0,468.6 318.0,466.6 334.9,461.0 351.8,457.7 368.8,453.5 385.7,448.9 402.6,443.8 419.5,440.3 436.5,436.4 453.4,432.7 470.3,426.9 487.3,425.7 504.2,420.9 521.1,417.9 538.1,416.6 555.0,412.9 571.9,410.4 588.9,408.9 605.8,407.1 622.7,406.9 639.6,405.1 656.6,403.8 673.5,401.5 690.4,398.9 707.4,397.8 724.3,395.3 741.2,395.7 758.1,393.4 775.1,393.1 792.0,392.5 808.9,389.3 825.9,389.7 842.8,387.6 859.7,387.1 876.7,384.3 893.6,384.5 910.5,383.5 927.5,379.9 944.4,378.9 961.3,376.8 978.2,377.3 995.2,373.1 1012.1,374.2 1029.0,369.3"/>
<polyline class="ln A" points="165.6,641.4 182.5,632.1 199.5,623.1 216.4,614.5 233.3,606.4 250.2,599.0 267.2,592.4 284.1,586.7 301.0,582.2 318.0,578.9 334.9,577.0 351.8,575.9 368.8,574.8 385.7,573.9 402.6,573.0 419.5,572.3 436.5,571.7 453.4,571.2 470.3,570.8 487.3,570.6 504.2,570.5 521.1,571.3 538.1,573.3 555.0,576.3 571.9,580.1 588.9,584.3 605.8,588.8 622.7,593.1 639.6,597.0 656.6,600.3 673.5,602.7 690.4,604.6 707.4,606.4 724.3,608.2 741.2,609.9 758.1,611.5 775.1,612.9 792.0,614.0 808.9,614.9 825.9,615.4 842.8,615.6 859.7,614.5 876.7,611.1 893.6,605.7 910.5,598.5 927.5,589.6 944.4,579.3 961.3,567.8 978.2,555.1 995.2,541.6 1012.1,527.3 1029.0,512.6"/>
<polyline class="ln U" points="165.6,326.8 182.5,323.1 199.5,321.0 216.4,316.2 233.3,311.8 250.2,310.0 267.2,307.8 284.1,308.2 301.0,306.8 318.0,303.8 334.9,304.0 351.8,304.3 368.8,306.4 385.7,307.4 402.6,307.1 419.5,310.9 436.5,310.6 453.4,315.2 470.3,315.3 487.3,315.9 504.2,316.1 521.1,315.4 538.1,314.7 555.0,313.2 571.9,314.3 588.9,312.5 605.8,310.6 622.7,308.8 639.6,305.6 656.6,305.4 673.5,304.5 690.4,305.6 707.4,307.9 724.3,312.5 741.2,313.9 758.1,318.4 775.1,322.7 792.0,325.9 808.9,331.0 825.9,333.0 842.8,333.7 859.7,333.8 876.7,332.2 893.6,330.2 910.5,328.2 927.5,326.8 944.4,321.4 961.3,319.8 978.2,314.6 995.2,308.7 1012.1,301.4 1029.0,297.1"/>
<polyline class="ln L" points="165.6,329.7 182.5,329.4 199.5,329.0 216.4,328.4 233.3,327.7 250.2,327.0 267.2,326.1 284.1,325.1 301.0,324.1 318.0,323.0 334.9,322.0 351.8,320.7 368.8,319.3 385.7,317.6 402.6,315.8 419.5,313.8 436.5,311.7 453.4,309.6 470.3,307.3 487.3,305.0 504.2,302.6 521.1,300.2 538.1,297.4 555.0,294.5 571.9,291.5 588.9,288.3 605.8,285.2 622.7,282.0 639.6,278.9 656.6,275.9 673.5,273.0 690.4,270.3 707.4,267.6 724.3,264.9 741.2,262.3 758.1,259.8 775.1,257.2 792.0,254.7 808.9,252.2 825.9,249.7 842.8,247.3 859.7,244.8 876.7,242.4 893.6,240.0 910.5,237.6 927.5,235.2 944.4,232.9 961.3,230.6 978.2,228.3 995.2,226.0 1012.1,223.7 1029.0,221.5"/>
<polyline class="ln E" points="165.6,609.2 182.5,601.5 199.5,593.7 216.4,586.0 233.3,578.3 250.2,570.5 267.2,562.8 284.1,555.1 301.0,547.4 318.0,539.6 334.9,531.9 351.8,524.1 368.8,516.2 385.7,508.3 402.6,500.3 419.5,492.4 436.5,484.5 453.4,476.8 470.3,469.2 487.3,461.8 504.2,454.6 521.1,447.6 538.1,440.8 555.0,434.0 571.9,427.3 588.9,420.8 605.8,414.4 622.7,408.1 639.6,402.0 656.6,396.0 673.5,390.2 690.4,384.6 707.4,379.0 724.3,373.6 741.2,368.2 758.1,363.0 775.1,357.9 792.0,352.9 808.9,348.1 825.9,343.3 842.8,338.7 859.7,334.2 876.7,329.7 893.6,325.3 910.5,321.0 927.5,316.8 944.4,312.7 961.3,308.7 978.2,304.8 995.2,300.9 1012.1,297.2 1029.0,293.6"/>
<polyline class="ln L" points="165.6,441.7 182.5,434.4 199.5,427.3 216.4,420.3 233.3,413.5 250.2,406.9 267.2,400.5 284.1,394.4 301.0,388.5 318.0,382.8 334.9,377.3 351.8,372.2 368.8,367.2 385.7,362.4 402.6,357.8 419.5,353.4 436.5,349.0 453.4,344.8 470.3,340.6 487.3,336.4 504.2,332.3 521.1,328.0 538.1,323.7 555.0,319.4 571.9,315.1 588.9,311.0 605.8,306.9 622.7,303.1 639.6,299.6 656.6,296.4 673.5,293.6 690.4,291.2 707.4,289.0 724.3,286.9 741.2,285.0 758.1,283.3 775.1,281.5 792.0,279.8 808.9,278.1 825.9,276.2 842.8,274.3 859.7,272.3 876.7,270.2 893.6,268.2 910.5,266.1 927.5,264.0 944.4,261.9 961.3,259.8 978.2,257.6 995.2,255.5 1012.1,253.3 1029.0,251.1"/>
<polyline class="ln E" points="165.6,476.5 182.5,475.3 199.5,473.2 216.4,470.4 233.3,467.0 250.2,463.1 267.2,458.7 284.1,453.9 301.0,448.7 318.0,443.4 334.9,437.9 351.8,431.1 368.8,422.2 385.7,411.8 402.6,400.3 419.5,388.3 436.5,376.3 453.4,364.8 470.3,354.4 487.3,345.5 504.2,338.7 521.1,333.5 538.1,328.8 555.0,324.6 571.9,320.8 588.9,317.3 605.8,313.9 622.7,310.6 639.6,307.2 656.6,303.8 673.5,300.1 690.4,296.1 707.4,292.0 724.3,287.9 741.2,283.7 758.1,279.6 775.1,275.5 792.0,271.6 808.9,267.9 825.9,264.5 842.8,261.4 859.7,258.5 876.7,255.7 893.6,253.0 910.5,250.4 927.5,247.9 944.4,245.5 961.3,243.2 978.2,241.1 995.2,239.1 1012.1,237.3 1029.0,235.7"/>
<polyline class="ln L" points="165.6,390.2 182.5,383.8 199.5,377.6 216.4,371.4 233.3,365.4 250.2,359.5 267.2,353.8 284.1,348.2 301.0,342.7 318.0,337.4 334.9,332.3 351.8,327.2 368.8,322.2 385.7,317.2 402.6,312.3 419.5,307.6 436.5,303.0 453.4,298.7 470.3,294.6 487.3,290.7 504.2,287.2 521.1,283.9 538.1,280.9 555.0,278.0 571.9,275.3 588.9,272.7 605.8,270.2 622.7,267.7 639.6,265.2 656.6,262.7 673.5,260.1 690.4,257.5 707.4,254.9 724.3,252.2 741.2,249.6 758.1,247.0 775.1,244.4 792.0,241.9 808.9,239.3 825.9,236.8 842.8,234.4 859.7,231.9 876.7,229.5 893.6,227.1 910.5,224.7 927.5,222.3 944.4,220.0 961.3,217.7 978.2,215.4 995.2,213.1 1012.1,210.8 1029.0,208.6"/>
<polyline class="ln M" points="165.6,721.2 182.5,718.7 199.5,716.0 216.4,713.2 233.3,710.2 250.2,707.1 267.2,704.0 284.1,701.0 301.0,697.7 318.0,693.8 334.9,689.0 351.8,682.2 368.8,673.1 385.7,662.6 402.6,651.7 419.5,639.9 436.5,627.2 453.4,614.1 470.3,600.6 487.3,587.3 504.2,574.1 521.1,561.5 538.1,549.9 555.0,538.7 571.9,528.3 588.9,519.0 605.8,510.8 622.7,503.4 639.6,497.1 656.6,492.0 673.5,487.6 690.4,483.5 707.4,479.1 724.3,474.5 741.2,469.9 758.1,464.9 775.1,459.6 792.0,453.9 808.9,447.9 825.9,441.7 842.8,435.4 859.7,428.7 876.7,421.8 893.6,414.7 910.5,406.8 927.5,398.6 944.4,391.5 961.3,385.6 978.2,380.0 995.2,375.0 1012.1,370.6 1029.0,367.0"/>
<polyline class="ln A" points="165.6,628.5 182.5,621.8 199.5,615.3 216.4,609.0 233.3,602.9 250.2,596.9 267.2,591.2 284.1,585.7 301.0,580.4 318.0,575.4 334.9,570.5 351.8,565.5 368.8,560.2 385.7,554.8 402.6,549.7 419.5,545.2 436.5,541.6 453.4,539.2 470.3,538.3 487.3,539.1 504.2,541.2 521.1,544.5 538.1,548.9 555.0,554.1 571.9,560.1 588.9,566.7 605.8,573.7 622.7,581.0 639.6,588.3 656.6,595.6 673.5,602.7 690.4,611.4 707.4,622.6 724.3,634.9 741.2,646.9 758.1,657.2 775.1,664.4 792.0,667.1 808.9,666.4 825.9,664.2 842.8,660.9 859.7,656.9 876.7,652.5 893.6,647.8 910.5,642.6 927.5,636.1 944.4,628.5 961.3,619.9 978.2,610.3 995.2,599.9 1012.1,588.8 1029.0,577.0"/>
<polyline class="ln A" points="165.6,544.8 182.5,540.8 199.5,536.8 216.4,532.6 233.3,528.2 250.2,523.7 267.2,519.2 284.1,514.5 301.0,509.6 318.0,504.7 334.9,499.7 351.8,494.4 368.8,488.7 385.7,482.8 402.6,476.7 419.5,470.5 436.5,464.3 453.4,458.2 470.3,452.4 487.3,446.9 504.2,441.7 521.1,436.4 538.1,430.7 555.0,425.2 571.9,420.5 588.9,417.2 605.8,416.0 622.7,418.8 639.6,426.6 656.6,438.3 673.5,453.1 690.4,470.0 707.4,487.9 724.3,505.9 741.2,523.1 758.1,538.3 775.1,554.1 792.0,572.2 808.9,591.5 825.9,610.3 842.8,627.5 859.7,641.4 876.7,650.8 893.6,654.3 910.5,652.7 927.5,648.1 944.4,640.3 961.3,629.3 978.2,615.0 995.2,597.2 1012.1,576.0 1029.0,551.2"/>
</g>
<defs><clipPath id="cp"><rect x="114" y="74" width="967" height="826"/></clipPath></defs>
<rect x="114" y="74" width="967" height="826" fill="none" stroke="#7F7F7F" stroke-width="1.5"/>
<rect x="113.5" y="17" width="967.5" height="57" fill="#CCCCCC" stroke="#A6A6A6" stroke-width="1"/>
<rect x="1081" y="74" width="57.5" height="826" fill="#CCCCCC" stroke="#A6A6A6" stroke-width="1"/>
<line x1="113.5" x2="1081.5" y1="74" y2="74" stroke="#7F7F7F" stroke-width="1.5"/>
<line x1="1081" x2="1081" y1="74" y2="900" stroke="#7F7F7F" stroke-width="1.5"/>
<text x="597.3" y="56.8" text-anchor="middle" font-size="33.5" fill="#1A1A1A">Années</text>
<text transform="translate(1098.6,487.3) rotate(90)" text-anchor="middle" font-size="34" letter-spacing="-0.1" fill="#1A1A1A">Espérance de vie</text>
<line x1="105.5" x2="113.5" y1="692.9" y2="692.9" stroke="#111" stroke-width="3"/>
<text class="ax" x="97.9" y="705.1" text-anchor="end">40</text>
<line x1="105.5" x2="113.5" y1="435.3" y2="435.3" stroke="#111" stroke-width="3"/>
<text class="ax" x="97.9" y="447.5" text-anchor="end">60</text>
<line x1="105.5" x2="113.5" y1="177.7" y2="177.7" stroke="#111" stroke-width="3"/>
<text class="ax" x="97.9" y="189.9" text-anchor="end">80</text>
<line x1="165.6" x2="165.6" y1="900.5" y2="909" stroke="#111" stroke-width="3"/>
<text class="ax" x="164.7" y="939.8" text-anchor="middle">1960</text>
<line x1="334.9" x2="334.9" y1="900.5" y2="909" stroke="#111" stroke-width="3"/>
<text class="ax" x="334.0" y="939.8" text-anchor="middle">1970</text>
<line x1="504.2" x2="504.2" y1="900.5" y2="909" stroke="#111" stroke-width="3"/>
<text class="ax" x="503.3" y="939.8" text-anchor="middle">1980</text>
<line x1="673.5" x2="673.5" y1="900.5" y2="909" stroke="#111" stroke-width="3"/>
<text class="ax" x="672.6" y="939.8" text-anchor="middle">1990</text>
<line x1="842.8" x2="842.8" y1="900.5" y2="909" stroke="#111" stroke-width="3"/>
<text class="ax" x="841.9" y="939.8" text-anchor="middle">2000</text>
<line x1="1012.1" x2="1012.1" y1="900.5" y2="909" stroke="#111" stroke-width="3"/>
<text class="ax" x="1011.2" y="939.8" text-anchor="middle">2010</text>
<text x="1174" y="325.2" font-size="31" letter-spacing="1.7" fill="#000">Region</text>
<rect x="1174" y="337" width="48" height="48" fill="#fff" stroke="#CCCCCC" stroke-width="2.6"/>
<rect x="1179" y="349.25" width="38" height="23.5" fill="#F8766D" fill-opacity=".6"/>
<text class="lg" x="1228.2" y="371.0">East Asia &amp; Pacific</text>
<rect x="1174" y="385" width="48" height="48" fill="#fff" stroke="#CCCCCC" stroke-width="2.6"/>
<rect x="1179" y="397.25" width="38" height="23.5" fill="#C49A00" fill-opacity=".6"/>
<text class="lg" x="1228.2" y="419.0">Europe &amp; Central Asia</text>
<rect x="1174" y="433" width="48" height="48" fill="#fff" stroke="#CCCCCC" stroke-width="2.6"/>
<rect x="1179" y="445.25" width="38" height="23.5" fill="#53B400" fill-opacity=".6"/>
<text class="lg" x="1228.2" y="467.0">Latin America &amp; Caribbean</text>
<rect x="1174" y="481" width="48" height="48" fill="#fff" stroke="#CCCCCC" stroke-width="2.6"/>
<rect x="1179" y="493.25" width="38" height="23.5" fill="#00C094" fill-opacity=".6"/>
<text class="lg" x="1228.2" y="515.0">Middle East &amp; North Africa</text>
<rect x="1174" y="529" width="48" height="48" fill="#fff" stroke="#CCCCCC" stroke-width="2.6"/>
<rect x="1179" y="541.25" width="38" height="23.5" fill="#00B6EB" fill-opacity=".6"/>
<text class="lg" x="1228.2" y="563.0">North America</text>
<rect x="1174" y="577" width="48" height="48" fill="#fff" stroke="#CCCCCC" stroke-width="2.6"/>
<rect x="1179" y="589.25" width="38" height="23.5" fill="#A58AFF" fill-opacity=".6"/>
<text class="lg" x="1228.2" y="611.0">South Asia</text>
<rect x="1174" y="625" width="48" height="48" fill="#fff" stroke="#CCCCCC" stroke-width="2.6"/>
<rect x="1179" y="637.25" width="38" height="23.5" fill="#FB61D7" fill-opacity=".6"/>
<text class="lg" x="1228.2" y="659.0">Sub-Saharan Africa</text>
</svg></body></html>
